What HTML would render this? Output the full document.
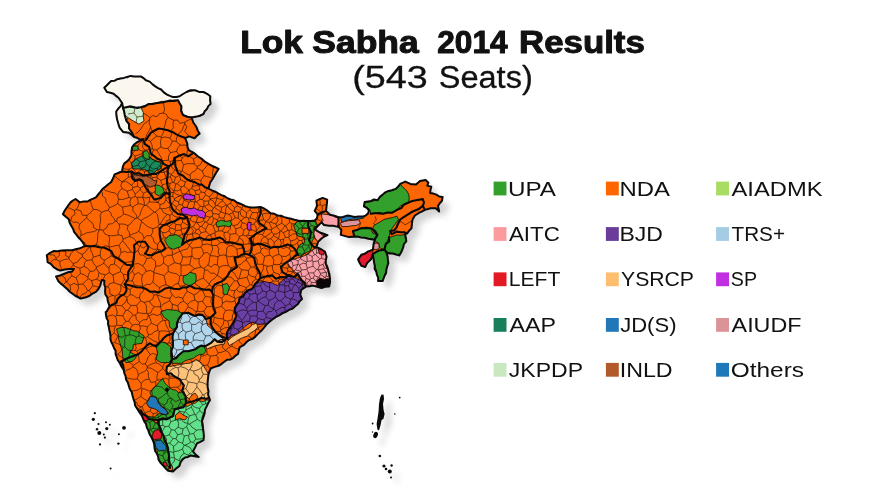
<!DOCTYPE html>
<html><head><meta charset="utf-8"><title>Lok Sabha 2014 Results</title>
<style>html,body{margin:0;padding:0;background:#fff;}body{width:885px;height:498px;position:relative;overflow:hidden;font-family:"Liberation Sans",Arial,sans-serif}</style>
</head><body>
<svg width="885" height="498" viewBox="0 0 885 498" style="position:absolute;left:0;top:0">
<defs>
<filter id="sh" x="-10%" y="-10%" width="125%" height="125%"><feGaussianBlur in="SourceAlpha" stdDeviation="3.1"/><feOffset dx="7" dy="7"/><feComponentTransfer><feFuncA type="linear" slope="0.175"/></feComponentTransfer></filter>
<clipPath id="cp"><polygon points="104.3,87.8 106.6,85.5 108.8,83.2 111.1,81.0 114.4,80.8 117.3,79.2 120.4,78.5 123.9,77.9 127.2,76.9 130.6,75.9 134.0,76.5 137.4,76.4 140.8,76.4 143.5,78.1 145.8,80.2 149.7,81.6 152.6,84.4 155.3,86.4 158.0,88.2 161.1,89.5 163.8,92.4 167.0,94.6 170.0,95.9 173.0,97.1 176.4,96.9 179.7,96.3 183.0,94.0 186.5,92.0 190.6,90.2 195.0,90.3 199.1,91.9 203.5,92.0 207.1,93.8 210.3,96.3 210.1,100.1 210.6,103.9 208.3,106.1 206.9,109.0 204.7,111.2 203.5,114.0 200.3,115.7 196.7,116.6 191.6,117.5 193.3,122.5 195.1,125.0 196.7,127.6 197.8,130.8 199.6,133.6 196.9,135.7 194.6,138.2 189.0,136.4 185.2,138.2 187.3,143.6 187.5,147.1 189.0,150.3 192.0,151.9 194.9,153.7 198.1,156.5 201.7,158.8 204.8,161.7 208.5,163.9 211.8,165.8 215.3,167.2 218.6,169.0 216.4,172.3 214.4,175.8 212.4,179.2 210.2,182.5 209.3,185.5 208.5,188.5 211.8,190.4 215.3,191.7 218.6,193.6 221.5,195.1 224.7,196.3 227.4,198.2 230.5,199.5 233.9,200.3 236.8,202.4 239.6,203.5 242.4,204.7 245.1,206.2 248.1,206.9 251.5,207.5 254.9,207.5 260.5,206.9 263.4,208.2 266.2,209.8 270.7,213.2 274.2,213.8 277.5,215.4 281.0,215.8 284.2,217.1 287.6,218.0 291.0,218.8 294.4,219.8 297.8,220.5 300.8,221.0 303.8,220.8 306.8,221.1 310.8,220.9 314.7,220.5 317.0,218.2 317.6,214.3 314.7,210.9 317.0,205.8 316.4,200.7 319.5,199.2 322.7,197.9 327.2,199.6 327.0,202.7 326.6,205.8 326.0,210.9 330.0,214.8 334.3,215.8 338.5,217.3 342.9,217.0 347.0,215.6 350.9,216.1 354.8,217.0 358.8,216.4 362.3,216.6 365.6,215.6 368.0,213.5 369.0,210.5 366.8,207.9 363.9,206.3 364.7,202.0 367.9,201.4 371.1,201.0 374.0,199.5 377.6,200.2 379.9,196.9 382.4,194.9 384.8,192.6 387.8,191.2 391.8,190.3 395.7,188.9 398.2,186.6 400.2,183.9 405.3,181.6 410.4,183.9 416.0,184.4 420.0,181.0 425.6,179.9 428.4,182.7 427.3,185.6 431.3,186.7 430.5,189.8 430.1,192.9 433.3,193.6 436.4,194.6 439.2,196.5 442.6,196.9 442.0,200.8 439.8,203.2 438.0,205.9 439.2,211.5 435.8,208.2 430.7,208.2 425.0,209.9 422.2,211.4 419.4,212.7 414.9,215.5 412.6,219.5 412.1,222.0 411.8,225.2 411.5,228.4 409.0,230.8 407.0,233.6 405.0,234.2 405.9,237.7 406.3,241.3 403.9,244.1 403.1,247.7 401.5,251.7 399.3,255.4 396.0,254.5 392.8,253.5 389.5,253.6 386.4,252.2 387.7,256.7 387.9,259.9 388.3,263.1 387.3,266.3 386.4,269.6 386.1,273.0 384.5,276.0 382.6,281.1 378.1,281.1 378.2,277.7 376.8,274.7 376.3,271.7 374.7,268.9 374.8,265.7 374.1,262.5 373.6,259.3 372.9,254.1 371.0,259.3 367.1,263.1 365.2,267.0 361.3,265.7 359.4,262.6 358.1,259.3 361.3,254.8 364.8,253.7 367.8,251.6 372.9,249.6 373.6,243.9 374.8,240.0 371.6,239.3 368.4,238.7 364.6,237.7 360.7,237.4 356.9,236.5 353.0,236.8 349.1,237.1 345.3,236.1 340.8,234.9 341.4,229.7 338.9,227.1 336.8,226.6 333.1,225.7 329.2,225.8 324.0,225.0 321.5,222.4 318.1,225.8 314.7,229.2 317.2,230.9 319.8,232.5 323.6,233.8 327.5,235.1 324.3,236.5 321.5,238.5 318.1,241.9 316.4,247.0 321.5,249.5 324.9,251.5 326.6,256.8 325.8,260.2 325.8,263.6 327.3,266.9 328.3,270.3 329.5,274.5 330.0,278.8 330.0,282.6 329.2,286.4 325.3,286.8 321.5,288.0 317.3,286.8 313.0,285.6 309.7,286.2 306.3,286.4 303.8,288.1 301.2,289.8 300.3,294.9 302.0,299.0 299.6,301.4 297.8,304.2 295.1,306.2 292.7,308.5 289.1,309.9 285.9,311.9 282.4,313.3 279.2,315.3 275.6,317.1 272.4,319.5 269.3,321.9 266.4,324.6 264.2,327.4 261.9,330.2 259.6,332.4 257.3,334.6 255.1,336.9 252.5,338.9 249.2,340.0 246.6,342.0 243.7,345.2 239.8,347.1 238.8,350.5 238.1,353.9 235.4,355.8 233.0,358.1 230.3,359.5 227.1,359.7 224.6,361.5 221.7,363.8 218.6,365.8 214.8,366.9 211.0,368.3 209.5,371.1 208.5,374.2 208.0,378.4 207.6,382.7 207.6,387.0 208.5,391.2 208.1,394.7 209.3,398.0 210.0,400.0 208.2,403.1 206.7,406.4 205.0,409.6 204.6,413.5 203.4,417.2 202.0,420.9 202.7,424.6 203.0,428.3 203.5,432.0 203.9,436.1 203.5,440.2 200.3,441.9 197.0,443.4 195.1,447.4 193.0,451.4 195.5,454.6 198.7,457.0 194.7,456.3 190.7,455.4 188.1,456.9 185.0,457.5 182.6,459.4 180.5,462.4 179.4,465.9 176.1,468.6 173.0,471.5 168.2,470.7 165.7,468.4 163.4,465.9 160.6,462.9 158.5,459.4 158.1,456.3 156.8,453.6 155.2,451.0 154.5,448.0 154.2,444.1 153.0,440.5 151.3,437.0 149.5,433.9 148.4,430.6 146.8,427.4 146.0,423.9 144.0,420.9 141.8,415.7 139.4,412.1 137.0,408.4 135.1,405.5 134.6,402.0 133.4,398.8 132.5,395.4 131.7,392.0 129.8,389.0 128.8,385.7 127.8,382.4 126.0,379.5 125.6,376.2 124.3,373.1 123.7,369.9 121.6,366.7 119.9,363.2 117.7,360.0 116.7,357.0 115.6,354.1 115.6,350.8 114.0,348.0 112.9,345.1 111.4,342.3 110.4,339.3 110.5,336.0 110.0,333.0 109.3,330.0 108.8,327.0 108.0,324.0 108.1,320.9 106.6,318.0 106.0,315.1 105.7,312.0 106.9,311.3 109.5,306.2 107.8,301.1 107.3,297.4 105.3,294.3 105.1,290.9 105.3,287.5 104.2,284.2 104.4,280.8 101.9,279.9 101.0,282.8 100.2,285.8 98.4,289.0 95.9,291.8 92.4,293.6 89.2,296.0 85.1,297.6 80.7,298.6 77.8,297.0 74.9,295.5 72.2,293.5 69.8,291.7 67.7,289.5 65.4,287.5 63.2,285.5 60.8,283.6 58.6,281.6 56.1,276.5 60.0,275.5 63.7,274.0 67.8,272.3 72.2,271.4 73.9,268.9 68.8,268.9 64.5,269.5 60.3,270.6 56.8,269.2 53.6,267.2 51.1,264.1 47.6,262.1 47.3,258.7 46.8,255.3 50.0,252.9 53.6,251.1 57.6,251.3 61.5,250.5 65.4,250.3 68.8,250.2 72.3,250.2 75.6,249.2 79.0,248.6 82.0,247.3 84.9,246.0 82.4,241.8 80.4,239.4 78.2,237.2 76.4,234.6 74.2,232.1 73.1,228.9 71.4,226.1 69.7,222.8 68.8,219.3 65.8,216.8 62.9,214.2 64.4,211.1 66.3,208.3 68.3,205.3 70.5,202.4 72.9,200.5 75.6,199.0 79.8,202.4 83.6,201.4 87.5,201.5 90.2,199.9 93.1,198.7 95.9,197.3 98.2,194.5 100.5,191.7 102.7,188.8 105.6,186.6 108.3,184.2 111.2,182.0 113.1,178.3 114.6,174.4 118.3,172.8 122.0,171.5 122.9,166.4 124.3,163.3 127.1,161.4 129.6,158.6 131.4,155.4 131.5,151.2 132.2,147.0 134.0,144.5 136.4,142.7 139.7,140.8 143.2,139.3 139.9,139.5 137.1,137.8 134.0,137.0 131.5,134.8 128.9,132.7 123.0,131.9 119.6,127.6 118.2,123.3 117.0,119.0 116.4,115.3 116.2,111.5 118.1,108.8 120.4,106.4 122.1,103.0 120.4,100.5 118.7,98.0 116.1,95.9 113.6,93.7 110.3,92.7 106.9,92.0"/></clipPath>
</defs>
<g filter="url(#sh)"><polygon points="104.3,87.8 106.6,85.5 108.8,83.2 111.1,81.0 114.4,80.8 117.3,79.2 120.4,78.5 123.9,77.9 127.2,76.9 130.6,75.9 134.0,76.5 137.4,76.4 140.8,76.4 143.5,78.1 145.8,80.2 149.7,81.6 152.6,84.4 155.3,86.4 158.0,88.2 161.1,89.5 163.8,92.4 167.0,94.6 170.0,95.9 173.0,97.1 176.4,96.9 179.7,96.3 183.0,94.0 186.5,92.0 190.6,90.2 195.0,90.3 199.1,91.9 203.5,92.0 207.1,93.8 210.3,96.3 210.1,100.1 210.6,103.9 208.3,106.1 206.9,109.0 204.7,111.2 203.5,114.0 200.3,115.7 196.7,116.6 191.6,117.5 193.3,122.5 195.1,125.0 196.7,127.6 197.8,130.8 199.6,133.6 196.9,135.7 194.6,138.2 189.0,136.4 185.2,138.2 187.3,143.6 187.5,147.1 189.0,150.3 192.0,151.9 194.9,153.7 198.1,156.5 201.7,158.8 204.8,161.7 208.5,163.9 211.8,165.8 215.3,167.2 218.6,169.0 216.4,172.3 214.4,175.8 212.4,179.2 210.2,182.5 209.3,185.5 208.5,188.5 211.8,190.4 215.3,191.7 218.6,193.6 221.5,195.1 224.7,196.3 227.4,198.2 230.5,199.5 233.9,200.3 236.8,202.4 239.6,203.5 242.4,204.7 245.1,206.2 248.1,206.9 251.5,207.5 254.9,207.5 260.5,206.9 263.4,208.2 266.2,209.8 270.7,213.2 274.2,213.8 277.5,215.4 281.0,215.8 284.2,217.1 287.6,218.0 291.0,218.8 294.4,219.8 297.8,220.5 300.8,221.0 303.8,220.8 306.8,221.1 310.8,220.9 314.7,220.5 317.0,218.2 317.6,214.3 314.7,210.9 317.0,205.8 316.4,200.7 319.5,199.2 322.7,197.9 327.2,199.6 327.0,202.7 326.6,205.8 326.0,210.9 330.0,214.8 334.3,215.8 338.5,217.3 342.9,217.0 347.0,215.6 350.9,216.1 354.8,217.0 358.8,216.4 362.3,216.6 365.6,215.6 368.0,213.5 369.0,210.5 366.8,207.9 363.9,206.3 364.7,202.0 367.9,201.4 371.1,201.0 374.0,199.5 377.6,200.2 379.9,196.9 382.4,194.9 384.8,192.6 387.8,191.2 391.8,190.3 395.7,188.9 398.2,186.6 400.2,183.9 405.3,181.6 410.4,183.9 416.0,184.4 420.0,181.0 425.6,179.9 428.4,182.7 427.3,185.6 431.3,186.7 430.5,189.8 430.1,192.9 433.3,193.6 436.4,194.6 439.2,196.5 442.6,196.9 442.0,200.8 439.8,203.2 438.0,205.9 439.2,211.5 435.8,208.2 430.7,208.2 425.0,209.9 422.2,211.4 419.4,212.7 414.9,215.5 412.6,219.5 412.1,222.0 411.8,225.2 411.5,228.4 409.0,230.8 407.0,233.6 405.0,234.2 405.9,237.7 406.3,241.3 403.9,244.1 403.1,247.7 401.5,251.7 399.3,255.4 396.0,254.5 392.8,253.5 389.5,253.6 386.4,252.2 387.7,256.7 387.9,259.9 388.3,263.1 387.3,266.3 386.4,269.6 386.1,273.0 384.5,276.0 382.6,281.1 378.1,281.1 378.2,277.7 376.8,274.7 376.3,271.7 374.7,268.9 374.8,265.7 374.1,262.5 373.6,259.3 372.9,254.1 371.0,259.3 367.1,263.1 365.2,267.0 361.3,265.7 359.4,262.6 358.1,259.3 361.3,254.8 364.8,253.7 367.8,251.6 372.9,249.6 373.6,243.9 374.8,240.0 371.6,239.3 368.4,238.7 364.6,237.7 360.7,237.4 356.9,236.5 353.0,236.8 349.1,237.1 345.3,236.1 340.8,234.9 341.4,229.7 338.9,227.1 336.8,226.6 333.1,225.7 329.2,225.8 324.0,225.0 321.5,222.4 318.1,225.8 314.7,229.2 317.2,230.9 319.8,232.5 323.6,233.8 327.5,235.1 324.3,236.5 321.5,238.5 318.1,241.9 316.4,247.0 321.5,249.5 324.9,251.5 326.6,256.8 325.8,260.2 325.8,263.6 327.3,266.9 328.3,270.3 329.5,274.5 330.0,278.8 330.0,282.6 329.2,286.4 325.3,286.8 321.5,288.0 317.3,286.8 313.0,285.6 309.7,286.2 306.3,286.4 303.8,288.1 301.2,289.8 300.3,294.9 302.0,299.0 299.6,301.4 297.8,304.2 295.1,306.2 292.7,308.5 289.1,309.9 285.9,311.9 282.4,313.3 279.2,315.3 275.6,317.1 272.4,319.5 269.3,321.9 266.4,324.6 264.2,327.4 261.9,330.2 259.6,332.4 257.3,334.6 255.1,336.9 252.5,338.9 249.2,340.0 246.6,342.0 243.7,345.2 239.8,347.1 238.8,350.5 238.1,353.9 235.4,355.8 233.0,358.1 230.3,359.5 227.1,359.7 224.6,361.5 221.7,363.8 218.6,365.8 214.8,366.9 211.0,368.3 209.5,371.1 208.5,374.2 208.0,378.4 207.6,382.7 207.6,387.0 208.5,391.2 208.1,394.7 209.3,398.0 210.0,400.0 208.2,403.1 206.7,406.4 205.0,409.6 204.6,413.5 203.4,417.2 202.0,420.9 202.7,424.6 203.0,428.3 203.5,432.0 203.9,436.1 203.5,440.2 200.3,441.9 197.0,443.4 195.1,447.4 193.0,451.4 195.5,454.6 198.7,457.0 194.7,456.3 190.7,455.4 188.1,456.9 185.0,457.5 182.6,459.4 180.5,462.4 179.4,465.9 176.1,468.6 173.0,471.5 168.2,470.7 165.7,468.4 163.4,465.9 160.6,462.9 158.5,459.4 158.1,456.3 156.8,453.6 155.2,451.0 154.5,448.0 154.2,444.1 153.0,440.5 151.3,437.0 149.5,433.9 148.4,430.6 146.8,427.4 146.0,423.9 144.0,420.9 141.8,415.7 139.4,412.1 137.0,408.4 135.1,405.5 134.6,402.0 133.4,398.8 132.5,395.4 131.7,392.0 129.8,389.0 128.8,385.7 127.8,382.4 126.0,379.5 125.6,376.2 124.3,373.1 123.7,369.9 121.6,366.7 119.9,363.2 117.7,360.0 116.7,357.0 115.6,354.1 115.6,350.8 114.0,348.0 112.9,345.1 111.4,342.3 110.4,339.3 110.5,336.0 110.0,333.0 109.3,330.0 108.8,327.0 108.0,324.0 108.1,320.9 106.6,318.0 106.0,315.1 105.7,312.0 106.9,311.3 109.5,306.2 107.8,301.1 107.3,297.4 105.3,294.3 105.1,290.9 105.3,287.5 104.2,284.2 104.4,280.8 101.9,279.9 101.0,282.8 100.2,285.8 98.4,289.0 95.9,291.8 92.4,293.6 89.2,296.0 85.1,297.6 80.7,298.6 77.8,297.0 74.9,295.5 72.2,293.5 69.8,291.7 67.7,289.5 65.4,287.5 63.2,285.5 60.8,283.6 58.6,281.6 56.1,276.5 60.0,275.5 63.7,274.0 67.8,272.3 72.2,271.4 73.9,268.9 68.8,268.9 64.5,269.5 60.3,270.6 56.8,269.2 53.6,267.2 51.1,264.1 47.6,262.1 47.3,258.7 46.8,255.3 50.0,252.9 53.6,251.1 57.6,251.3 61.5,250.5 65.4,250.3 68.8,250.2 72.3,250.2 75.6,249.2 79.0,248.6 82.0,247.3 84.9,246.0 82.4,241.8 80.4,239.4 78.2,237.2 76.4,234.6 74.2,232.1 73.1,228.9 71.4,226.1 69.7,222.8 68.8,219.3 65.8,216.8 62.9,214.2 64.4,211.1 66.3,208.3 68.3,205.3 70.5,202.4 72.9,200.5 75.6,199.0 79.8,202.4 83.6,201.4 87.5,201.5 90.2,199.9 93.1,198.7 95.9,197.3 98.2,194.5 100.5,191.7 102.7,188.8 105.6,186.6 108.3,184.2 111.2,182.0 113.1,178.3 114.6,174.4 118.3,172.8 122.0,171.5 122.9,166.4 124.3,163.3 127.1,161.4 129.6,158.6 131.4,155.4 131.5,151.2 132.2,147.0 134.0,144.5 136.4,142.7 139.7,140.8 143.2,139.3 139.9,139.5 137.1,137.8 134.0,137.0 131.5,134.8 128.9,132.7 123.0,131.9 119.6,127.6 118.2,123.3 117.0,119.0 116.4,115.3 116.2,111.5 118.1,108.8 120.4,106.4 122.1,103.0 120.4,100.5 118.7,98.0 116.1,95.9 113.6,93.7 110.3,92.7 106.9,92.0" fill="#000"/><circle cx="94.8" cy="413.2" r="1.1"/><circle cx="93.3" cy="419.3" r="1.6"/><circle cx="98.5" cy="424" r="1.1"/><circle cx="106" cy="422.3" r="1.0"/><circle cx="109.8" cy="424.8" r="1.0"/><circle cx="97" cy="429.3" r="1.2"/><circle cx="106.8" cy="428.6" r="1.6"/><circle cx="99.3" cy="433" r="2.0"/><circle cx="103.8" cy="434.6" r="1.0"/><circle cx="104.9" cy="437.6" r="1.1"/><circle cx="124" cy="427.8" r="1.9"/><circle cx="118.9" cy="434.3" r="1.0"/><circle cx="118.4" cy="443.6" r="1.2"/><circle cx="100" cy="444.4" r="1.1"/><circle cx="110.6" cy="468.5" r="1.0"/><path d="M381.5,394.5 L383.6,394.8 L384,399 L383,404 L383.6,410 L384.6,414 L383.4,419 L381.6,420 L380.6,425 L379,430.5 L377.4,429.5 L376.6,424 L377.6,418 L378.6,411 L379,404 L380,398 Z"/><ellipse cx="375.6" cy="435" rx="2.2" ry="3.2" transform="rotate(20 375.6 435)"/><circle cx="399.7" cy="397.6" r="0.9"/><circle cx="394.8" cy="414" r="0.8"/><circle cx="372.6" cy="423.5" r="0.9"/><circle cx="372.5" cy="432" r="0.7"/><circle cx="379.8" cy="456" r="1.3"/><circle cx="384" cy="466" r="1.6"/><circle cx="386" cy="469" r="1.3"/><circle cx="389.8" cy="471.5" r="2.0"/><circle cx="391.6" cy="465.5" r="1.2"/><circle cx="391" cy="477.5" r="1.0"/></g>
<polygon points="104.3,87.8 106.6,85.5 108.8,83.2 111.1,81.0 114.4,80.8 117.3,79.2 120.4,78.5 123.9,77.9 127.2,76.9 130.6,75.9 134.0,76.5 137.4,76.4 140.8,76.4 143.5,78.1 145.8,80.2 149.7,81.6 152.6,84.4 155.3,86.4 158.0,88.2 161.1,89.5 163.8,92.4 167.0,94.6 170.0,95.9 173.0,97.1 176.4,96.9 179.7,96.3 183.0,94.0 186.5,92.0 190.6,90.2 195.0,90.3 199.1,91.9 203.5,92.0 207.1,93.8 210.3,96.3 210.1,100.1 210.6,103.9 208.3,106.1 206.9,109.0 204.7,111.2 203.5,114.0 200.3,115.7 196.7,116.6 191.6,117.5 193.3,122.5 195.1,125.0 196.7,127.6 197.8,130.8 199.6,133.6 196.9,135.7 194.6,138.2 189.0,136.4 185.2,138.2 187.3,143.6 187.5,147.1 189.0,150.3 192.0,151.9 194.9,153.7 198.1,156.5 201.7,158.8 204.8,161.7 208.5,163.9 211.8,165.8 215.3,167.2 218.6,169.0 216.4,172.3 214.4,175.8 212.4,179.2 210.2,182.5 209.3,185.5 208.5,188.5 211.8,190.4 215.3,191.7 218.6,193.6 221.5,195.1 224.7,196.3 227.4,198.2 230.5,199.5 233.9,200.3 236.8,202.4 239.6,203.5 242.4,204.7 245.1,206.2 248.1,206.9 251.5,207.5 254.9,207.5 260.5,206.9 263.4,208.2 266.2,209.8 270.7,213.2 274.2,213.8 277.5,215.4 281.0,215.8 284.2,217.1 287.6,218.0 291.0,218.8 294.4,219.8 297.8,220.5 300.8,221.0 303.8,220.8 306.8,221.1 310.8,220.9 314.7,220.5 317.0,218.2 317.6,214.3 314.7,210.9 317.0,205.8 316.4,200.7 319.5,199.2 322.7,197.9 327.2,199.6 327.0,202.7 326.6,205.8 326.0,210.9 330.0,214.8 334.3,215.8 338.5,217.3 342.9,217.0 347.0,215.6 350.9,216.1 354.8,217.0 358.8,216.4 362.3,216.6 365.6,215.6 368.0,213.5 369.0,210.5 366.8,207.9 363.9,206.3 364.7,202.0 367.9,201.4 371.1,201.0 374.0,199.5 377.6,200.2 379.9,196.9 382.4,194.9 384.8,192.6 387.8,191.2 391.8,190.3 395.7,188.9 398.2,186.6 400.2,183.9 405.3,181.6 410.4,183.9 416.0,184.4 420.0,181.0 425.6,179.9 428.4,182.7 427.3,185.6 431.3,186.7 430.5,189.8 430.1,192.9 433.3,193.6 436.4,194.6 439.2,196.5 442.6,196.9 442.0,200.8 439.8,203.2 438.0,205.9 439.2,211.5 435.8,208.2 430.7,208.2 425.0,209.9 422.2,211.4 419.4,212.7 414.9,215.5 412.6,219.5 412.1,222.0 411.8,225.2 411.5,228.4 409.0,230.8 407.0,233.6 405.0,234.2 405.9,237.7 406.3,241.3 403.9,244.1 403.1,247.7 401.5,251.7 399.3,255.4 396.0,254.5 392.8,253.5 389.5,253.6 386.4,252.2 387.7,256.7 387.9,259.9 388.3,263.1 387.3,266.3 386.4,269.6 386.1,273.0 384.5,276.0 382.6,281.1 378.1,281.1 378.2,277.7 376.8,274.7 376.3,271.7 374.7,268.9 374.8,265.7 374.1,262.5 373.6,259.3 372.9,254.1 371.0,259.3 367.1,263.1 365.2,267.0 361.3,265.7 359.4,262.6 358.1,259.3 361.3,254.8 364.8,253.7 367.8,251.6 372.9,249.6 373.6,243.9 374.8,240.0 371.6,239.3 368.4,238.7 364.6,237.7 360.7,237.4 356.9,236.5 353.0,236.8 349.1,237.1 345.3,236.1 340.8,234.9 341.4,229.7 338.9,227.1 336.8,226.6 333.1,225.7 329.2,225.8 324.0,225.0 321.5,222.4 318.1,225.8 314.7,229.2 317.2,230.9 319.8,232.5 323.6,233.8 327.5,235.1 324.3,236.5 321.5,238.5 318.1,241.9 316.4,247.0 321.5,249.5 324.9,251.5 326.6,256.8 325.8,260.2 325.8,263.6 327.3,266.9 328.3,270.3 329.5,274.5 330.0,278.8 330.0,282.6 329.2,286.4 325.3,286.8 321.5,288.0 317.3,286.8 313.0,285.6 309.7,286.2 306.3,286.4 303.8,288.1 301.2,289.8 300.3,294.9 302.0,299.0 299.6,301.4 297.8,304.2 295.1,306.2 292.7,308.5 289.1,309.9 285.9,311.9 282.4,313.3 279.2,315.3 275.6,317.1 272.4,319.5 269.3,321.9 266.4,324.6 264.2,327.4 261.9,330.2 259.6,332.4 257.3,334.6 255.1,336.9 252.5,338.9 249.2,340.0 246.6,342.0 243.7,345.2 239.8,347.1 238.8,350.5 238.1,353.9 235.4,355.8 233.0,358.1 230.3,359.5 227.1,359.7 224.6,361.5 221.7,363.8 218.6,365.8 214.8,366.9 211.0,368.3 209.5,371.1 208.5,374.2 208.0,378.4 207.6,382.7 207.6,387.0 208.5,391.2 208.1,394.7 209.3,398.0 210.0,400.0 208.2,403.1 206.7,406.4 205.0,409.6 204.6,413.5 203.4,417.2 202.0,420.9 202.7,424.6 203.0,428.3 203.5,432.0 203.9,436.1 203.5,440.2 200.3,441.9 197.0,443.4 195.1,447.4 193.0,451.4 195.5,454.6 198.7,457.0 194.7,456.3 190.7,455.4 188.1,456.9 185.0,457.5 182.6,459.4 180.5,462.4 179.4,465.9 176.1,468.6 173.0,471.5 168.2,470.7 165.7,468.4 163.4,465.9 160.6,462.9 158.5,459.4 158.1,456.3 156.8,453.6 155.2,451.0 154.5,448.0 154.2,444.1 153.0,440.5 151.3,437.0 149.5,433.9 148.4,430.6 146.8,427.4 146.0,423.9 144.0,420.9 141.8,415.7 139.4,412.1 137.0,408.4 135.1,405.5 134.6,402.0 133.4,398.8 132.5,395.4 131.7,392.0 129.8,389.0 128.8,385.7 127.8,382.4 126.0,379.5 125.6,376.2 124.3,373.1 123.7,369.9 121.6,366.7 119.9,363.2 117.7,360.0 116.7,357.0 115.6,354.1 115.6,350.8 114.0,348.0 112.9,345.1 111.4,342.3 110.4,339.3 110.5,336.0 110.0,333.0 109.3,330.0 108.8,327.0 108.0,324.0 108.1,320.9 106.6,318.0 106.0,315.1 105.7,312.0 106.9,311.3 109.5,306.2 107.8,301.1 107.3,297.4 105.3,294.3 105.1,290.9 105.3,287.5 104.2,284.2 104.4,280.8 101.9,279.9 101.0,282.8 100.2,285.8 98.4,289.0 95.9,291.8 92.4,293.6 89.2,296.0 85.1,297.6 80.7,298.6 77.8,297.0 74.9,295.5 72.2,293.5 69.8,291.7 67.7,289.5 65.4,287.5 63.2,285.5 60.8,283.6 58.6,281.6 56.1,276.5 60.0,275.5 63.7,274.0 67.8,272.3 72.2,271.4 73.9,268.9 68.8,268.9 64.5,269.5 60.3,270.6 56.8,269.2 53.6,267.2 51.1,264.1 47.6,262.1 47.3,258.7 46.8,255.3 50.0,252.9 53.6,251.1 57.6,251.3 61.5,250.5 65.4,250.3 68.8,250.2 72.3,250.2 75.6,249.2 79.0,248.6 82.0,247.3 84.9,246.0 82.4,241.8 80.4,239.4 78.2,237.2 76.4,234.6 74.2,232.1 73.1,228.9 71.4,226.1 69.7,222.8 68.8,219.3 65.8,216.8 62.9,214.2 64.4,211.1 66.3,208.3 68.3,205.3 70.5,202.4 72.9,200.5 75.6,199.0 79.8,202.4 83.6,201.4 87.5,201.5 90.2,199.9 93.1,198.7 95.9,197.3 98.2,194.5 100.5,191.7 102.7,188.8 105.6,186.6 108.3,184.2 111.2,182.0 113.1,178.3 114.6,174.4 118.3,172.8 122.0,171.5 122.9,166.4 124.3,163.3 127.1,161.4 129.6,158.6 131.4,155.4 131.5,151.2 132.2,147.0 134.0,144.5 136.4,142.7 139.7,140.8 143.2,139.3 139.9,139.5 137.1,137.8 134.0,137.0 131.5,134.8 128.9,132.7 123.0,131.9 119.6,127.6 118.2,123.3 117.0,119.0 116.4,115.3 116.2,111.5 118.1,108.8 120.4,106.4 122.1,103.0 120.4,100.5 118.7,98.0 116.1,95.9 113.6,93.7 110.3,92.7 106.9,92.0" fill="#FE6604"/>
<g clip-path="url(#cp)">
<polygon points="131.4,163.0 136.4,158.8 140.6,156.5 144.9,154.6 148.7,156.4 151.9,159.1 155.9,160.5 159.3,162.2 162.7,163.9 160.2,169.0 156.5,170.5 153.8,173.4 150.8,175.8 147.5,170.7 143.4,169.3 139.0,169.0 133.0,169.0" fill="#1A8A5C" stroke="#140800" stroke-width="0.8" stroke-linejoin="round"/>
<polygon points="293.6,225.0 297.8,221.5 302.1,221.4 306.3,220.7 310.9,221.5 315.6,221.5 318.1,225.8 314.7,229.2 315.2,233.4 314.7,237.6 312.3,240.6 311.4,244.4 311.6,248.1 309.7,251.2 305.0,253.0 301.2,256.3 295.3,254.6 296.9,251.3 297.8,247.8 300.5,244.3 304.6,242.7 304.6,237.6 297.8,236.0 295.3,230.8" fill="#33A02C" stroke="#140800" stroke-width="0.8" stroke-linejoin="round"/>
<polygon points="285.9,262.7 289.5,259.3 294.4,259.3 297.7,257.9 301.2,257.0 305.6,255.2 309.7,252.9 312.2,250.3 314.7,247.8 316.4,247.0 321.5,249.5 324.9,251.5 326.6,256.8 325.8,263.6 326.4,267.2 328.3,270.3 328.6,274.7 330.0,278.8 330.7,282.7 329.2,286.4 325.4,287.6 321.5,288.0 317.2,287.0 313.0,285.6 306.3,286.4 304.5,282.5 301.2,279.7 297.8,273.7 294.1,271.6 291.0,268.6 289.1,265.1" fill="#FBA0A8" stroke="#140800" stroke-width="0.8" stroke-linejoin="round"/>
<polygon points="255.4,283.9 259.5,282.2 263.9,281.4 268.1,282.3 272.4,283.0 277.5,285.6 279.7,282.7 282.5,280.5 285.9,277.9 289.3,275.4 294.4,277.1 297.7,279.1 301.2,280.5 303.1,284.0 306.3,286.4 301.2,289.8 300.3,294.9 302.0,299.0 297.8,304.2 292.7,308.5 289.3,310.1 285.9,311.9 281.9,312.3 279.2,315.3 276.1,318.0 272.4,319.5 269.9,322.6 266.4,324.6 262.6,323.9 258.8,324.6 252.4,322.3 248.0,324.1 244.4,327.1 240.6,330.6 236.4,333.6 231.7,335.5 227.5,338.4 226.7,335.2 227.5,331.6 230.4,328.9 231.6,325.5 234.2,322.8 234.8,319.1 236.4,315.9 235.6,311.9 234.8,307.9 237.2,305.1 238.5,301.7 239.6,298.2 242.4,295.3 245.3,292.4 248.6,290.6 252.0,289.0" fill="#6A3FA6" stroke="#140800" stroke-width="0.8" stroke-linejoin="round"/>
<polygon points="182.6,313.5 188.2,312.7 191.7,313.7 194.6,315.9 198.6,315.5 202.7,315.1 205.9,319.1 207.5,325.5 212.3,329.5 217.1,334.4 221.1,337.2 225.1,340.0 220.8,339.5 217.1,341.6 214.7,339.2 210.7,343.2 205.0,346.4 201.0,345.6 197.5,347.1 194.6,349.6 188.2,351.2 183.4,351.2 178.6,355.2 175.4,357.3 172.1,359.3 172.0,355.2 171.3,351.2 172.6,346.5 172.9,341.6 172.4,337.6 172.9,333.6 174.9,330.3 176.9,327.1 177.9,323.1 178.6,319.1" fill="#B2D6EC" stroke="#140800" stroke-width="0.8" stroke-linejoin="round"/>
<polygon points="116.5,329.0 121.1,327.4 126.0,327.7 129.9,329.3 133.9,330.8 138.2,331.3 141.0,333.9 144.2,336.0 143.2,339.8 141.8,343.4 137.6,343.9 133.4,344.6 133.0,348.9 129.8,351.8 133.3,353.8 137.0,355.4 135.0,358.8 132.0,361.4 126.0,362.7 123.3,359.5 122.5,355.4 122.4,351.2 121.1,347.3 120.0,343.4 118.8,339.9 118.6,336.1 117.6,332.5" fill="#33A02C" stroke="#140800" stroke-width="0.8" stroke-linejoin="round"/>
<polygon points="166.9,366.6 172.1,366.2 177.1,365.0 181.4,364.6 185.5,363.5 189.8,363.2 193.1,361.6 195.8,359.0 199.2,361.5 202.5,364.0 206.0,370.0 208.5,374.2 209.2,378.6 207.6,382.7 208.3,386.9 208.5,391.2 209.3,398.0 206.0,398.8 201.6,398.2 197.5,399.7 192.4,401.4 189.1,398.7 185.6,396.3 182.2,391.2 183.9,385.3 182.2,382.0 179.7,379.3 173.7,376.0 170.1,376.0 166.9,374.2 166.5,370.0" fill="#FDC27A" stroke="#140800" stroke-width="0.8" stroke-linejoin="round"/>
<polygon points="153.4,387.8 156.4,385.7 158.5,382.7 162.7,378.5 164.3,382.2 166.9,385.3 172.0,389.5 175.9,390.2 178.8,392.9 183.9,391.2 185.6,396.3 186.0,403.0 183.5,407.2 178.9,407.7 174.6,409.6 173.0,416.0 169.6,417.3 166.6,419.3 162.6,420.2 158.5,420.0 153.7,419.7 149.0,419.3 146.5,416.0 150.5,416.8 154.5,416.9 158.5,413.7 163.3,414.3 168.2,413.7 165.8,409.6 162.2,406.3 158.5,403.2 157.8,401.0 154.5,399.1 151.8,396.4 150.0,392.9" fill="#33A02C" stroke="#140800" stroke-width="0.8" stroke-linejoin="round"/>
<polygon points="174.6,410.0 180.0,407.0 183.7,405.5 187.5,406.4 191.3,404.3 195.5,403.0 198.8,400.5 203.2,401.8 206.7,400.0 210.0,400.0 207.9,403.0 207.4,406.8 205.0,409.6 203.7,413.3 202.1,416.9 202.0,420.9 201.7,424.7 202.6,428.4 203.5,432.0 204.0,436.1 203.5,440.2 200.5,442.2 197.0,443.4 195.1,447.5 193.0,451.4 195.5,454.6 198.7,457.0 194.6,456.9 190.7,455.4 187.1,458.3 182.6,459.4 181.0,462.7 179.4,465.9 176.0,468.5 173.0,471.5 170.0,468.0 169.8,464.0 169.5,460.0 168.7,456.0 168.8,452.0 168.0,448.0 166.0,443.9 166.4,439.0 163.4,435.3 161.5,431.6 159.1,428.2 158.5,424.0 159.0,420.5 162.8,419.6 166.6,419.8 169.8,418.2 173.0,416.5" fill="#62E08A" stroke="#140800" stroke-width="0.8" stroke-linejoin="round"/>
<polygon points="144.0,420.9 150.0,418.0 153.9,421.5 158.5,424.0 160.9,427.4 161.8,431.5 163.4,435.3 164.4,439.7 166.2,443.9 168.0,448.0 168.7,452.0 169.0,456.0 169.8,460.0 169.8,464.0 170.0,468.0 168.2,470.7 163.4,465.9 161.1,462.5 158.5,459.4 155.6,456.2 157.7,451.1 154.5,448.0 153.5,444.3 152.3,440.7 151.3,437.0 149.1,434.1 148.9,430.3 146.6,427.5 145.8,424.0" fill="#33A02C" stroke="#140800" stroke-width="0.8" stroke-linejoin="round"/>
<path d="M70.1,194.8 L68.3,197.1 L65.0,199.1 M211.6,97.0 L213.4,100.3 L214.2,103.4 M44.6,249.7 L41.6,253.0 M41.6,253.0 L40.5,257.8 M61.2,206.0 L59.4,209.0 L58.0,212.2 M65.0,199.1 L63.2,204.6 M61.2,206.0 L63.2,204.6 M75.1,194.0 L70.1,194.8 M75.1,194.0 L77.8,195.1 L81.4,196.2 M81.4,196.2 L80.1,199.5 L79.3,203.3 L78.2,206.3 L76.3,209.6 M76.3,209.6 L74.2,210.4 M63.2,204.6 L66.8,207.2 L70.6,208.6 L74.2,210.4 M58.0,212.2 L58.1,215.6 M58.1,215.6 L60.6,220.0 M44.6,249.7 L45.9,249.3 M50.4,244.8 L45.9,249.3 M40.5,257.8 L41.3,261.2 L42.6,264.0 M214.0,107.7 L214.2,103.4 M57.4,289.4 L61.5,292.0 L63.9,295.6 M207.8,441.7 L204.3,445.5 L204.4,450.4 M101.7,212.3 L105.1,210.9 L108.1,210.2 M115.3,221.2 L114.1,218.4 L111.7,215.9 L110.9,212.8 L108.1,210.2 M101.7,212.3 L100.1,215.5 L100.7,219.1 L100.2,223.1 L99.7,225.8 L99.9,229.7 M115.3,221.2 L112.3,223.7 L108.2,224.2 L106.4,228.1 L102.8,230.2 M102.8,230.2 L99.9,229.7 M97.0,229.6 L99.1,230.0 M86.7,217.8 L89.5,220.9 L92.9,223.4 L93.7,227.6 L97.0,229.6 M87.0,215.4 L91.0,212.3 L93.2,209.3 M86.7,217.8 L87.0,215.4 M93.2,209.3 L97.6,209.8 L101.7,212.3 M99.1,230.0 L99.9,229.7 M50.4,244.8 L53.7,246.3 L56.9,243.7 M86.7,217.8 L83.0,220.8 L79.7,224.3 M97.0,229.6 L94.4,231.5 L90.6,232.1 L87.0,232.7 L84.1,234.2 L80.9,235.4 M80.9,235.4 L81.1,231.8 L78.8,227.9 L79.7,224.3 M87.0,215.4 L82.3,215.2 L80.8,210.7 L76.3,209.6 M74.2,210.4 L75.2,214.2 L71.8,216.6 L70.8,220.3 M79.7,224.3 L77.0,222.0 L73.2,222.4 L70.8,220.3 M60.6,220.0 L65.0,222.7 M65.4,229.9 L63.9,226.5 L65.0,222.7 M65.0,222.7 L70.8,220.3 M51.5,277.9 L53.2,284.1 M319.2,193.1 L317.9,194.0 M317.9,194.0 L312.9,195.6 M215.8,161.3 L219.5,163.0 L222.6,164.1 M209.8,115.2 L212.8,111.5 L214.0,107.7 M219.7,184.7 L223.9,186.6 L225.4,188.7 L227.3,191.6 M231.9,192.8 L227.3,191.6 M225.0,167.5 L225.1,172.0 M222.6,164.1 L225.0,167.5 M218.1,182.4 L221.8,179.6 L223.5,176.4 L225.1,172.0 M218.1,182.4 L218.4,184.1 M218.4,184.1 L219.7,184.7 M213.9,161.5 L213.5,162.4 M213.9,161.5 L215.8,161.3 M218.1,182.4 L213.5,178.2 M213.5,178.2 L212.4,174.3 L213.0,170.2 L213.2,166.7 L213.5,162.4 M213.9,161.5 L211.1,158.7 L207.4,155.7 M207.3,155.4 L207.4,155.7 M81.4,196.2 L81.9,196.1 M93.2,209.3 L91.6,205.4 L90.6,201.6 L90.5,197.5 M81.9,196.1 L86.5,197.5 L90.5,197.5 M94.8,303.4 L91.3,302.1 L88.6,302.7 L85.2,303.9 L81.6,303.0 M115.4,305.8 L116.4,308.9 L117.2,311.9 L116.7,315.4 M115.4,305.8 L111.9,305.4 L109.0,309.0 L105.2,308.0 L101.6,308.6 M101.6,308.6 L99.9,313.0 L102.3,316.5 M115.6,316.4 L112.5,314.9 L109.0,315.9 L106.0,316.9 L102.5,316.9 M115.6,316.4 L116.7,315.4 M102.3,316.5 L102.5,316.9 M97.5,302.8 L94.8,303.4 M97.5,302.8 L99.1,305.3 L101.6,308.6 M103.1,323.3 L103.6,319.2 L102.5,316.9 M102.3,325.6 L103.1,323.3 M71.2,299.0 L67.1,296.2 M63.9,295.6 L67.1,296.2 M102.3,325.6 L101.4,329.5 L103.6,334.4 M78.5,301.4 L81.6,303.0 M125.8,391.7 L127.0,395.9 L128.7,400.4 M129.3,409.5 L128.7,405.3 L129.4,401.1 M129.4,401.1 L128.7,400.4 M204.4,450.4 L202.7,452.2 M202.7,452.2 L202.3,458.0 M202.3,458.0 L201.2,460.3 M221.6,333.2 L220.5,331.3 M221.6,333.2 L226.2,334.3 L230.4,333.3 M230.4,333.3 L231.3,328.6 M220.9,329.9 L220.5,331.3 M220.9,329.9 L224.9,327.8 L229.2,327.4 M229.2,327.4 L231.3,328.6 M231.2,334.5 L235.1,335.5 L237.8,336.0 M238.0,329.5 L239.3,332.7 L237.8,336.0 M233.4,327.8 L231.3,328.6 M238.0,329.5 L233.4,327.8 M231.2,334.5 L230.4,333.3 M220.5,327.9 L220.9,329.9 M224.1,320.1 L223.2,324.4 L220.5,327.9 M224.1,320.1 L227.7,321.1 M227.7,321.1 L229.2,327.4 M227.7,321.1 L232.1,319.7 M234.3,321.9 L232.1,319.7 M234.3,321.9 L233.4,327.8 M116.7,221.6 L117.3,218.0 L121.0,216.6 L123.5,214.0 M116.7,221.6 L118.9,224.1 M118.9,224.1 L123.5,224.0 L128.0,225.6 M123.5,214.0 L127.4,214.9 L131.6,216.8 L135.5,218.5 M135.5,218.5 L133.2,220.3 L130.5,223.8 L128.0,225.6 M108.7,235.6 L104.8,233.9 L102.8,230.2 M118.3,234.9 L118.0,230.9 L119.8,227.7 L118.9,224.1 M118.3,234.9 L114.0,235.7 L108.7,235.6 M115.3,221.2 L116.7,221.6 M121.3,305.7 L115.8,305.3 M115.8,305.3 L115.4,305.8 M116.7,315.4 L122.7,315.8 M121.3,305.7 L123.7,307.5 L125.7,310.4 M122.7,315.8 L125.7,310.4 M410.9,221.4 L407.6,223.4 L405.1,224.9 M396.9,217.3 L398.5,221.2 L402.3,222.4 L405.1,224.9 M418.4,223.3 L414.8,222.1 L410.9,221.4 M418.4,223.3 L420.3,221.9 M109.0,246.9 L105.3,245.7 L101.6,247.8 M109.0,246.9 L109.0,243.3 L109.7,238.8 L108.7,235.6 M99.1,230.0 L97.8,233.6 L97.7,237.4 L97.4,241.4 L96.4,244.5 M101.6,247.8 L96.4,244.5 M80.9,235.4 L79.8,237.3 M79.8,237.3 L81.6,241.1 L84.6,242.4 L86.4,245.3 L90.5,246.5 M96.4,244.5 L90.5,246.5 M69.1,257.3 L71.0,253.6 L72.7,251.7 L75.3,249.0 M69.1,257.3 L65.6,255.6 L65.8,251.6 L61.7,250.9 L60.8,247.4 M75.3,249.0 L74.0,244.2 L74.3,239.8 M60.8,247.4 L60.6,245.3 M60.6,245.3 L64.2,244.9 L67.0,242.4 L69.7,242.4 L72.1,239.3 M74.3,239.8 L72.1,239.3 M90.3,247.1 L90.5,246.5 M82.2,254.4 L85.0,252.5 L87.4,248.8 L90.3,247.1 M79.8,237.3 L74.3,239.8 M82.2,254.4 L78.1,252.5 L75.3,249.0 M56.0,258.3 L54.2,255.0 L50.0,254.9 L48.5,251.9 L45.9,249.3 M56.0,258.3 L59.4,255.4 L59.4,250.7 L60.8,247.4 M56.9,243.7 L60.6,245.3 M65.4,229.9 L67.3,232.8 L69.9,236.3 L72.1,239.3 M57.4,289.4 L56.9,287.5 M56.9,287.5 L60.3,285.7 L63.5,284.5 L66.0,282.0 M67.1,296.2 L68.0,292.5 L70.7,289.9 L70.0,285.3 M70.0,285.3 L66.7,282.0 M66.7,282.0 L66.0,282.0 M51.5,277.9 L51.9,276.0 M66.0,282.0 L65.1,278.0 L61.9,275.7 L60.6,272.1 M56.9,287.5 L53.2,284.1 M51.9,276.0 L56.1,274.8 L60.6,272.1 M51.9,276.0 L49.9,272.6 L47.0,270.2 L45.6,266.7 M42.6,264.0 L45.6,266.7 M45.6,266.7 L45.6,266.7 M56.0,258.3 L56.3,259.5 M45.6,266.7 L49.1,266.0 L50.2,262.7 L53.0,259.8 L56.3,259.5 M213.5,178.2 L210.4,177.5 L207.5,176.7 L204.2,175.7 M213.5,162.4 L209.4,163.4 L207.2,165.4 L204.5,168.6 L202.3,171.1 M204.2,175.7 L202.3,171.1 M209.8,115.2 L207.1,118.1 L203.0,120.2 L199.4,121.6 M199.4,121.6 L202.6,126.7 M202.6,126.7 L203.2,130.3 L204.4,134.2 M204.4,134.2 L203.1,139.0 M200.8,150.4 L203.5,153.4 L207.3,155.4 M200.8,150.4 L198.3,145.0 M198.3,145.0 L200.8,142.1 L203.1,139.0 M249.8,200.9 L250.3,200.7 M249.8,200.9 L247.8,200.7 M247.8,200.7 L243.6,198.9 L240.6,196.2 M234.9,195.9 L231.9,192.8 M234.9,195.9 L236.0,196.2 M236.0,196.2 L240.6,196.2 M260.3,200.4 L266.4,201.3 M260.3,200.4 L257.4,201.7 M257.4,201.7 L257.7,204.5 L258.6,209.0 L258.9,212.0 M270.8,205.6 L268.3,209.8 L264.1,209.9 L260.6,212.7 M270.8,205.6 L266.4,201.3 M260.6,212.7 L258.9,212.0 M250.3,200.7 L253.6,201.2 L257.4,201.7 M216.8,245.4 L220.7,242.6 M216.8,245.4 L219.0,248.7 L218.1,251.9 L219.5,255.8 M227.8,244.4 L229.1,245.7 M225.9,255.3 L226.6,251.9 L226.8,248.1 L229.1,245.7 M219.5,255.8 L222.8,254.9 L225.9,255.3 M227.8,244.4 L223.5,242.6 M220.7,242.6 L223.5,242.6 M167.4,214.5 L164.5,217.2 L162.1,220.9 L160.0,224.4 M159.1,224.7 L160.0,224.4 M155.2,212.1 L159.9,208.1 M159.1,224.7 L158.6,221.5 L158.0,217.9 L157.5,214.5 L155.2,212.1 M167.4,214.5 L163.6,212.6 L161.3,208.7 M161.3,208.7 L159.9,208.1 M90.5,197.5 L93.9,195.2 L95.9,192.2 L99.1,190.3 M191.5,118.9 L195.3,120.6 L199.4,121.6 M191.5,118.9 L192.7,115.4 L192.4,111.5 L192.6,107.8 L192.3,103.7 M77.3,299.8 L80.0,297.1 L82.0,294.4 L85.6,293.2 L87.7,290.4 M77.3,299.8 L77.2,299.7 M77.2,299.7 L77.2,296.0 L76.9,292.1 L78.6,288.2 L78.0,285.0 M87.7,290.4 L85.3,286.6 L82.7,283.9 M82.7,283.9 L78.5,284.5 M78.5,284.5 L78.0,285.0 M97.5,300.6 L95.0,298.2 L92.6,296.0 L90.8,292.9 L89.1,290.5 M89.1,290.5 L87.7,290.4 M78.5,301.4 L77.3,299.8 M97.6,302.5 L97.5,302.8 M97.6,302.5 L97.5,300.6 M71.2,299.0 L77.2,299.7 M70.0,285.3 L73.9,283.4 L78.0,285.0 M76.0,277.7 L72.0,275.9 M76.0,277.7 L77.5,281.2 L78.5,284.5 M66.7,282.0 L68.8,278.6 L72.0,275.9 M118.8,294.2 L115.1,296.2 M118.8,294.2 L121.0,290.0 L120.8,284.9 M120.8,284.9 L116.9,283.9 L113.9,282.6 M113.1,295.4 L115.1,296.2 M113.1,295.4 L109.7,293.4 L109.9,289.4 L108.0,286.8 M108.0,286.8 L109.7,283.6 L113.9,282.6 M115.8,305.3 L114.8,301.1 L115.1,296.2 M97.6,302.5 L100.9,301.7 L104.4,300.9 L107.0,298.9 L109.9,296.3 L113.1,295.4 M125.8,391.7 L125.9,391.4 M125.9,391.4 L129.8,391.4 L133.8,390.8 L137.4,390.2 L141.2,387.7 M129.4,401.1 L133.9,400.8 M141.8,388.5 L141.2,387.7 M141.8,388.5 L141.5,392.7 L140.8,396.4 M140.8,396.4 L137.5,398.5 L133.9,400.8 M129.3,409.5 L132.3,413.7 M132.3,413.7 L136.0,411.7 L138.4,408.7 L141.5,406.7 M133.9,400.8 L136.5,402.4 L138.1,405.7 L141.5,406.7 M121.0,375.2 L121.4,375.5 M121.4,375.5 L123.5,380.4 M123.2,383.2 L123.5,380.4 M125.9,391.4 L124.1,387.1 L123.2,383.2 M180.0,473.2 L181.4,470.0 L184.6,467.5 M185.1,467.4 L184.6,467.5 M174.5,475.4 L180.0,473.2 M201.2,460.3 L198.6,462.1 M198.6,462.1 L194.8,462.8 L191.0,463.1 M191.0,463.1 L187.5,464.5 L185.1,467.4 M166.4,473.4 L168.0,473.8 M168.0,473.8 L170.6,475.1 M179.4,460.6 L182.2,463.5 L184.6,467.5 M174.5,475.4 L170.6,475.1 M175.1,458.8 L179.4,460.6 M175.1,458.8 L174.0,461.8 L171.5,463.9 L172.5,468.0 L169.5,471.0 L168.0,473.8 M175.1,458.8 L174.5,458.1 M174.5,458.1 L171.3,457.4 L168.2,459.7 L165.0,460.8 M166.4,473.4 L162.5,470.4 M162.5,470.4 L164.9,467.5 L165.6,464.4 L165.0,460.8 M226.1,255.5 L229.4,257.0 L233.1,256.0 L236.1,257.0 M226.1,255.5 L226.9,258.2 L227.6,262.0 L228.4,265.8 M236.1,257.0 L236.0,261.7 L236.9,265.4 M236.9,265.4 L231.8,267.6 M228.4,265.8 L230.8,267.6 M230.8,267.6 L231.8,267.6 M237.3,255.6 L237.3,252.2 L236.6,249.2 M231.1,245.6 L234.3,246.4 L236.6,249.2 M225.9,255.3 L226.1,255.5 M231.1,245.6 L229.1,245.7 M237.3,255.6 L236.1,257.0 M238.8,278.9 L238.2,279.3 M238.2,279.3 L235.9,276.1 L234.7,273.5 L232.0,271.4 L231.8,267.6 M241.7,269.7 L240.6,272.7 L239.9,276.0 L238.8,278.9 M241.7,269.7 L237.1,265.5 M237.1,265.5 L236.9,265.4 M222.4,278.8 L217.3,275.4 M226.9,276.8 L222.4,278.8 M217.3,275.4 L218.6,271.9 L219.1,267.4 M219.1,267.4 L223.7,265.4 L228.4,265.8 M226.9,276.8 L228.8,274.4 L230.0,271.3 L230.8,267.6 M238.4,338.1 L238.6,337.1 M246.7,335.0 L242.3,336.3 L238.6,337.1 M246.7,335.0 L251.0,337.6 L252.9,342.1 M244.4,350.7 L246.1,350.1 M244.4,350.7 L242.9,347.9 L242.2,344.3 L239.5,341.8 L238.4,338.1 M252.9,342.1 L253.3,343.0 M246.1,350.1 L248.9,347.9 L251.8,346.4 L253.3,343.0 M232.1,319.7 L232.6,314.9 L234.3,311.4 M242.0,322.1 L241.9,320.4 M241.9,320.4 L238.8,316.5 L236.9,312.5 M242.0,322.1 L238.0,320.4 L234.3,321.9 M236.9,312.5 L234.3,311.4 M238.2,279.3 L237.4,280.8 M226.9,276.8 L231.3,277.3 L234.7,281.0 M234.7,281.0 L237.4,280.8 M247.5,311.5 L252.2,310.2 L256.5,310.3 M247.5,311.5 L247.6,312.6 M247.6,312.6 L250.3,316.4 M250.3,316.4 L253.9,315.7 L256.9,316.4 M256.9,316.4 L257.7,311.7 M257.7,311.7 L256.5,310.3 M241.9,320.4 L244.1,317.9 L245.6,315.3 L247.6,312.6 M246.8,310.6 L243.2,309.9 L240.2,310.4 L236.9,312.5 M246.8,310.6 L247.5,311.5 M247.0,331.0 L243.3,329.4 L242.4,326.2 M247.0,331.0 L251.5,328.6 M251.5,328.6 L251.2,322.9 M242.4,326.2 L242.6,322.9 M242.6,322.9 L245.9,321.2 L249.5,321.6 M251.2,322.9 L249.5,321.6 M238.6,337.1 L237.8,336.0 M246.7,335.0 L247.0,331.0 M238.0,329.5 L242.4,326.2 M255.6,330.0 L255.1,334.1 L254.2,337.8 L252.9,342.1 M255.6,330.0 L251.5,328.6 M255.6,330.0 L258.5,328.9 M258.5,328.9 L258.7,327.8 M258.7,327.8 L256.3,325.2 L255.9,321.8 M255.9,321.8 L251.2,322.9 M242.0,322.1 L242.6,322.9 M250.3,316.4 L249.5,321.6 M257.9,318.5 L256.9,316.4 M257.9,318.5 L255.9,321.8 M212.6,332.9 L216.9,331.4 L220.5,331.3 M222.3,339.6 L218.3,341.2 L215.0,342.7 M221.6,333.2 L222.5,336.6 L222.3,339.6 M212.6,332.9 L210.0,335.6 M210.0,335.6 L212.8,338.6 L215.0,342.7 M229.0,339.6 L232.1,342.5 M229.0,339.6 L222.6,339.8 M222.6,339.8 L223.8,343.2 L222.2,347.2 L225.6,350.4 M225.6,350.4 L228.7,347.7 L232.0,346.2 M232.1,342.5 L232.0,346.2 M238.4,338.1 L235.3,340.5 L232.1,342.5 M231.2,334.5 L229.0,339.6 M222.3,339.6 L222.6,339.8 M244.4,350.7 L243.7,351.3 M243.7,351.3 L240.2,349.0 L236.0,348.7 L232.0,346.2 M180.3,251.4 L180.0,251.3 M172.2,254.9 L176.2,253.0 L180.0,251.3 M180.3,251.4 L182.7,256.8 M172.1,255.3 L173.4,259.4 L174.8,262.7 M172.1,255.3 L172.2,254.9 M182.7,256.8 L181.8,260.6 L180.3,264.1 M174.8,262.7 L180.3,264.1 M187.1,291.4 L186.5,288.7 M194.8,282.0 L193.0,284.5 L189.0,285.9 L186.5,288.7 M194.8,282.0 L196.0,284.9 L199.5,286.5 L200.1,290.3 M187.1,291.4 L190.5,292.9 L194.1,295.1 M200.1,290.3 L197.2,293.0 L194.1,295.1 M203.4,278.1 L204.0,273.9 L204.6,270.0 M203.4,278.1 L206.2,280.9 L209.1,284.2 M204.6,270.0 L207.5,270.2 L210.9,273.3 L214.1,273.1 L217.1,275.5 M209.1,284.2 L211.2,280.7 L214.4,278.5 L217.1,275.5 M202.7,290.8 L200.1,290.3 M194.8,282.0 L194.8,282.0 M209.2,284.9 L206.4,287.5 L202.7,290.8 M209.2,284.9 L209.1,284.2 M194.8,282.0 L199.0,279.9 L203.4,278.1 M217.3,275.4 L217.1,275.5 M222.4,278.8 L222.1,282.2 L222.7,285.9 M209.2,284.9 L212.1,286.5 L214.3,288.9 M222.7,285.9 L217.8,285.0 L214.3,288.9 M172.2,254.9 L172.4,250.8 L168.9,247.8 M180.0,251.3 L177.8,247.5 L175.4,243.2 M175.4,243.2 L172.2,243.8 M168.9,247.8 L172.2,243.8 M172.1,255.3 L167.5,255.3 L163.7,257.6 M174.8,262.7 L171.1,264.6 L168.1,266.5 M168.1,266.5 L163.6,263.1 M163.7,257.6 L163.6,263.1 M155.7,266.2 L159.9,265.9 L163.6,263.1 M163.7,257.6 L161.9,255.0 L160.8,252.2 L157.5,249.7 M155.7,266.2 L155.5,261.2 L151.5,257.9 M151.5,257.9 L152.0,253.9 L154.9,252.0 L157.5,249.7 M168.9,247.8 L164.8,248.1 L161.4,250.3 L157.6,249.0 M157.5,249.7 L157.6,249.0 M151.3,323.2 L147.5,326.7 M147.5,326.7 L146.8,330.5 L148.5,334.9 M148.5,334.9 L152.2,333.9 L154.1,331.7 L158.1,330.4 M151.3,323.2 L154.2,324.5 L157.3,325.7 M157.3,325.7 L158.1,330.4 M168.6,343.0 L170.2,339.4 L169.6,335.4 L169.2,331.8 M167.8,343.4 L168.6,343.0 M167.8,343.4 L164.0,342.4 L159.4,341.6 M159.4,341.6 L158.6,338.2 L159.1,334.9 L159.1,331.5 M169.2,331.8 L165.8,331.0 L162.4,330.9 L159.1,331.5 M151.3,323.2 L150.6,319.7 L149.0,316.0 M149.0,316.0 L152.9,314.0 L157.1,315.5 L160.7,314.2 M157.3,325.7 L160.0,322.2 L163.2,320.2 M160.7,314.2 L161.9,317.2 L163.2,320.2 M159.1,331.5 L158.1,330.4 M169.2,331.8 L169.6,331.3 M169.6,331.3 L167.5,328.1 L165.9,324.3 L165.0,320.6 M163.2,320.2 L165.0,320.6 M122.7,315.8 L125.8,321.3 M125.8,321.3 L128.7,321.3 M128.7,321.3 L130.4,317.9 L133.2,315.3 M125.7,310.4 L127.6,310.2 M127.6,310.2 L130.5,312.1 L133.2,315.3 M111.1,359.5 L111.7,356.2 M111.1,359.5 L112.3,363.0 L113.5,366.4 M111.7,356.2 L117.6,354.3 M117.6,354.3 L120.7,356.6 L125.2,359.9 M125.2,359.9 L122.2,362.8 L121.2,367.7 L118.4,370.2 M113.5,366.4 L118.4,370.2 M107.9,351.2 L111.7,356.2 M126.7,359.7 L125.2,359.9 M126.7,359.7 L130.1,362.7 L133.3,365.4 M132.7,367.1 L130.4,368.7 L126.7,370.2 L123.7,372.6 L121.4,375.5 M121.0,375.2 L118.4,370.2 M133.3,365.4 L132.7,367.1 M136.7,351.2 L138.2,353.7 L138.8,357.7 L139.3,361.6 M133.3,365.4 L136.0,363.7 L139.3,361.6 M126.7,359.7 L128.8,357.1 L129.9,352.9 L131.6,350.7 M136.7,351.2 L135.4,350.5 M131.6,350.7 L135.4,350.5 M132.5,325.0 L130.7,328.0 L130.0,331.1 L129.1,335.0 M132.5,325.0 L135.7,324.2 L139.2,324.8 M139.9,325.9 L139.2,324.8 M139.9,325.9 L140.3,329.0 L138.7,332.4 L139.0,335.9 M129.1,335.0 L132.8,335.2 L136.5,337.0 M139.0,335.9 L136.5,337.0 M125.8,321.3 L122.0,325.7 M115.6,316.4 L116.8,320.9 L116.6,325.1 M122.0,325.7 L116.6,325.1 M103.1,323.3 L106.7,324.3 L111.3,326.3 L115.3,325.9 M116.6,325.1 L115.3,325.9 M146.2,348.7 L145.9,348.5 M146.2,348.7 L149.4,347.0 L153.1,345.7 L156.8,344.1 M145.9,348.5 L146.2,344.9 L146.7,341.7 L145.4,337.7 M156.8,344.1 L157.7,342.5 M157.7,342.5 L154.0,341.0 L150.8,339.0 L147.5,336.6 M145.4,337.7 L147.5,336.6 M136.7,351.2 L141.5,348.6 L145.9,348.5 M145.3,363.9 L146.9,360.6 L147.9,357.5 L150.2,354.6 M150.2,354.6 L147.9,351.3 L146.2,348.7 M139.3,361.6 L142.4,364.1 L145.3,363.9 M157.1,355.0 L153.3,353.4 L150.2,354.6 M157.7,354.6 L157.2,351.3 L158.3,347.7 L156.8,344.1 M157.7,354.6 L157.1,355.0 M135.4,350.5 L136.2,347.3 L135.0,343.7 L135.4,340.4 L136.5,337.0 M139.0,335.9 L141.9,337.6 L145.4,337.7 M167.8,343.4 L166.2,347.0 L166.1,350.8 L165.6,355.0 M157.7,354.6 L160.9,356.0 L165.6,355.0 M159.4,341.6 L157.7,342.5 M148.5,334.9 L147.5,336.6 M147.5,326.7 L143.5,326.0 L139.9,325.9 M133.3,416.3 L135.5,418.0 M135.5,418.0 L139.0,420.1 L138.2,424.9 M141.2,383.5 L144.4,380.0 L149.1,379.0 M141.2,383.5 L137.3,378.8 M137.3,378.8 L138.3,375.1 M138.3,375.1 L140.9,373.0 L144.7,371.4 L146.6,369.5 M146.6,369.5 L148.4,372.5 L148.3,376.2 L149.1,379.0 M123.5,380.4 L126.3,378.0 L130.0,378.6 L133.7,379.4 L137.3,378.8 M141.2,387.7 L141.2,383.5 M132.7,367.1 L136.0,368.5 L137.6,371.3 L138.3,375.1 M206.5,428.3 L206.4,428.6 M207.9,436.0 L207.0,432.6 L206.4,428.6 M393.1,219.1 L391.9,223.4 L392.9,226.5 M392.9,226.5 L388.8,226.6 L383.8,227.7 M383.1,230.0 L383.8,227.7 M420.3,221.9 L422.6,218.0 M319.2,193.1 L323.7,192.6 M305.7,300.4 L304.7,301.8 M303.0,306.5 L304.7,301.8 M285.0,307.5 L285.3,311.6 L287.8,313.7 L288.8,316.8 M285.0,307.5 L285.3,306.1 M285.3,306.1 L289.8,303.6 M289.8,303.6 L292.3,306.6 L295.3,309.0 L298.9,310.3 M292.0,316.6 L288.8,316.8 M292.0,316.6 L294.6,314.0 L298.1,312.2 M298.1,312.2 L298.9,310.3 M283.6,320.4 L288.8,316.8 M303.0,306.5 L298.9,310.3 M278.7,320.8 L278.6,320.7 M278.7,320.8 L277.5,323.7 L275.6,326.7 M278.6,320.7 L275.7,318.7 L272.1,319.2 L269.0,318.1 L266.1,317.4 M275.6,326.7 L271.1,329.1 M271.1,329.1 L268.7,324.9 L264.5,322.9 M264.5,322.9 L264.1,319.8 M264.1,319.8 L266.1,317.4 M275.7,310.9 L277.1,313.6 L276.1,318.0 L278.6,320.7 M275.7,310.9 L278.6,309.2 L281.9,307.4 L285.0,307.5 M283.6,320.4 L278.7,320.8 M268.3,333.9 L271.1,329.1 M258.7,327.8 L261.7,325.6 L264.5,322.9 M265.5,335.3 L268.3,333.9 M265.5,335.3 L260.6,332.7 L258.5,328.9 M257.9,318.5 L264.1,319.8 M310.2,198.8 L312.9,195.6 M317.9,194.0 L318.5,197.0 L320.1,201.1 L320.3,204.9 M310.2,198.8 L309.5,203.1 L309.0,208.1 M309.0,208.1 L313.3,207.8 M320.3,204.9 L316.3,205.5 L313.3,207.8 M109.4,272.8 L108.9,267.8 M109.4,272.8 L112.9,274.9 M120.5,271.6 L120.6,269.1 M112.9,274.9 L116.5,273.4 L120.5,271.6 M108.9,267.8 L110.6,264.6 L114.4,264.1 M114.4,264.1 L117.4,266.2 L120.6,269.1 M96.5,267.0 L100.5,265.2 L103.8,263.2 M96.5,267.0 L93.9,263.9 L91.9,259.9 M91.9,259.9 L93.2,257.3 M93.2,257.3 L97.1,256.0 L100.2,255.1 M100.2,255.1 L101.0,258.1 L104.4,260.2 M104.4,260.2 L103.8,263.2 M98.9,272.4 L96.2,268.2 M96.2,268.2 L96.5,267.0 M109.4,272.8 L105.3,274.8 M105.3,274.8 L101.2,273.8 L98.9,272.4 M108.9,267.8 L105.8,265.4 L103.8,263.2 M82.5,256.7 L82.2,254.4 M86.6,260.4 L82.5,256.7 M86.6,260.4 L91.9,259.9 M90.3,247.1 L91.0,251.0 L92.6,253.8 L93.2,257.3 M101.6,247.8 L100.4,251.4 L100.2,255.1 M111.3,255.9 L107.6,258.3 L104.4,260.2 M109.2,247.0 L110.5,251.8 L111.3,255.9 M109.2,247.0 L109.0,246.9 M114.4,264.1 L115.2,258.0 M111.3,255.9 L115.2,258.0 M87.9,277.4 L88.5,274.3 L90.2,271.4 M87.9,277.4 L84.4,274.8 L80.4,273.5 M90.2,271.4 L87.7,268.3 L84.2,266.5 M80.4,273.5 L79.8,268.2 M84.2,266.5 L79.8,268.2 M88.2,278.7 L87.9,277.4 M88.2,278.7 L85.6,281.2 L82.7,283.9 M76.0,277.7 L80.4,273.5 M96.2,268.2 L94.1,271.0 L90.2,271.4 M86.6,260.4 L84.5,263.1 L84.2,266.5 M59.8,261.4 L60.1,265.3 L61.4,268.3 L60.9,271.8 M59.8,261.4 L64.5,259.5 L68.9,258.8 M60.9,271.8 L65.0,269.8 L69.8,270.6 M69.8,270.6 L71.1,267.6 L73.3,265.0 M68.9,258.8 L73.0,263.6 M73.0,263.6 L73.3,265.0 M60.6,272.1 L60.9,271.8 M56.3,259.5 L59.8,261.4 M69.1,257.3 L68.9,258.8 M72.0,275.9 L69.8,270.6 M79.8,268.2 L75.8,266.8 L73.3,265.0 M82.5,256.7 L79.5,259.2 L77.3,262.2 L73.0,263.6 M190.0,175.4 L191.6,172.6 L195.1,170.8 L197.3,167.9 M190.0,175.4 L185.9,173.5 L182.2,170.8 M183.5,165.0 L186.6,163.8 L190.7,163.6 L194.3,163.9 M183.5,165.0 L182.2,170.8 M194.3,163.9 L196.9,166.5 M196.9,166.5 L197.3,167.9 M186.8,154.7 L182.2,158.1 M181.4,160.4 L182.2,158.1 M193.6,159.0 L194.3,163.9 M186.8,154.7 L190.0,156.6 L193.6,159.0 M181.4,160.4 L183.5,165.0 M193.6,159.0 L197.1,157.0 L199.1,153.3 L200.8,150.4 M207.4,155.7 L205.2,159.2 L202.0,161.0 L200.7,164.6 L196.9,166.5 M202.3,171.1 L197.3,167.9 M143.2,151.2 L144.8,150.1 M141.9,140.9 L142.9,143.9 L142.5,147.3 L144.8,150.1 M141.9,140.9 L139.5,143.4 L137.3,146.3 M143.2,151.2 L139.8,150.3 L137.6,147.3 M137.6,147.3 L137.3,146.3 M181.4,160.4 L177.2,160.8 L173.9,160.1 L170.1,161.7 M181.3,171.3 L182.2,170.8 M181.3,171.3 L175.1,170.0 M170.1,161.7 L170.6,164.7 M175.1,170.0 L172.2,167.9 L170.6,164.7 M247.8,200.7 L245.8,204.1 L243.2,205.2 L241.8,208.3 M236.0,196.2 L236.9,199.1 L236.9,201.9 L237.3,205.9 M237.3,205.9 L241.8,208.3 M250.0,209.8 L246.5,212.6 M249.8,200.9 L250.3,205.2 L250.0,209.8 M246.5,212.6 L241.7,209.0 M241.8,208.3 L241.7,209.0 M258.9,212.0 L257.9,212.7 M250.0,209.8 L252.4,212.5 M252.4,212.5 L257.9,212.7 M270.8,205.6 L273.3,206.9 M227.4,232.2 L230.1,229.3 L230.8,224.4 M227.4,232.2 L224.3,232.4 M224.3,232.4 L222.0,231.0 M222.0,231.0 L224.6,227.4 L225.7,222.9 M225.7,222.9 L230.1,223.5 M230.1,223.5 L230.8,224.4 M235.8,229.0 L236.0,233.4 M230.2,234.3 L236.0,233.4 M230.2,234.3 L227.4,232.2 M233.6,225.6 L230.8,224.4 M233.6,225.6 L235.8,229.0 M227.8,244.4 L229.2,241.4 L229.8,237.5 L230.2,234.3 M223.5,242.6 L226.0,239.6 L223.9,235.8 L224.3,232.4 M177.7,217.3 L174.5,216.2 L171.7,214.2 M177.7,217.3 L176.2,220.0 L174.6,223.0 M173.3,223.0 L174.6,223.0 M173.3,223.0 L170.1,219.7 M170.1,219.7 L169.8,215.0 M169.8,215.0 L171.7,214.2 M179.5,217.0 L180.6,214.9 M179.7,210.8 L180.6,214.9 M179.7,210.8 L176.2,208.8 M176.2,208.8 L172.3,212.6 M172.3,212.6 L171.7,214.2 M179.5,217.0 L177.7,217.3 M169.3,226.4 L173.3,223.0 M169.3,226.4 L165.0,224.5 M165.0,224.5 L166.5,220.9 L170.1,219.7 M167.4,214.5 L169.8,215.0 M165.0,224.5 L160.0,224.4 M172.3,212.6 L169.9,210.1 L170.0,206.6 M161.3,208.7 L165.5,208.6 L170.0,206.6 M279.4,279.1 L279.4,274.5 M278.1,281.1 L279.4,279.1 M269.8,277.2 L273.2,281.1 M269.8,277.2 L271.8,274.7 L273.9,272.3 M273.2,281.1 L278.1,281.1 M273.9,272.3 L279.4,274.5 M234.9,195.9 L232.8,199.4 L230.4,203.1 M237.3,205.9 L234.7,207.6 M230.4,203.1 L234.7,207.6 M194.9,201.9 L190.7,201.4 M194.9,201.9 L194.1,205.3 L193.3,208.4 M193.3,208.4 L187.4,209.0 M188.9,202.3 L190.7,201.4 M188.9,202.3 L186.9,208.2 M187.4,209.0 L186.9,208.2 M189.1,196.6 L190.7,201.4 M189.1,196.6 L183.1,197.7 M183.1,197.7 L184.1,200.2 M184.1,200.2 L188.9,202.3 M182.2,205.1 L184.1,200.2 M183.6,207.0 L186.9,208.2 M183.6,207.0 L182.2,205.1 M99.9,190.0 L102.5,187.5 M99.9,190.0 L102.3,192.5 L102.5,196.1 L105.8,198.5 L105.9,202.3 L107.9,204.6 L109.5,207.7 M102.5,187.5 L105.2,190.5 L108.1,191.3 L111.3,192.3 L115.1,193.0 L117.6,195.5 M109.5,207.7 L113.9,205.8 L117.6,203.6 M117.6,203.6 L118.5,199.2 M118.5,199.2 L117.6,195.5 M99.1,190.3 L99.9,190.0 M103.4,185.2 L102.5,187.5 M108.1,210.2 L109.5,207.7 M123.5,214.0 L123.0,210.0 L122.4,207.2 M122.4,207.2 L117.6,203.6 M91.6,280.6 L96.6,279.2 M91.6,280.6 L92.9,285.7 M92.9,285.7 L97.7,286.9 L101.0,289.5 M96.6,279.2 L100.3,281.1 L103.2,283.4 M101.0,289.5 L104.3,286.4 M104.3,286.4 L103.2,283.4 M88.2,278.7 L91.6,280.6 M98.9,272.4 L98.3,276.7 L96.6,279.2 M89.1,290.5 L92.9,285.7 M97.5,300.6 L99.8,297.7 L101.0,293.5 L101.0,289.5 M105.3,274.8 L103.4,278.9 L103.2,283.4 M108.0,286.8 L104.3,286.4 M112.9,274.9 L113.5,278.3 L113.9,282.6 M115.2,258.0 L119.0,257.0 M120.6,269.1 L122.7,265.5 L125.6,262.4 M125.6,262.4 L121.5,261.1 L119.0,257.0 M109.2,247.0 L112.5,246.5 L116.0,245.5 L118.9,245.4 M118.9,245.4 L120.4,249.1 L121.0,252.6 M121.0,252.6 L119.0,257.0 M165.0,460.8 L162.7,455.9 M162.7,455.9 L164.1,452.9 M173.5,452.4 L174.5,458.1 M173.5,452.4 L167.7,451.3 M167.7,451.3 L164.1,452.9 M162.5,470.4 L160.8,470.2 M244.5,251.6 L244.4,255.9 M244.5,251.6 L248.0,251.3 L250.9,248.7 M250.9,248.7 L251.2,252.2 L253.6,255.0 M253.6,255.0 L249.9,257.5 L246.4,258.3 M246.4,258.3 L244.4,255.9 M237.3,255.6 L240.7,257.3 L244.4,255.9 M241.8,248.1 L236.6,249.2 M241.8,248.1 L244.5,251.6 M237.1,265.5 L240.9,264.3 L243.7,261.5 L246.2,260.0 M246.2,260.0 L246.4,258.3 M241.7,269.7 L244.8,270.0 L248.3,270.5 M246.9,277.4 L242.8,278.1 L238.8,278.9 M246.9,277.4 L248.7,274.2 M248.7,274.2 L248.3,270.5 M246.2,260.0 L248.8,263.4 L250.9,267.3 M248.3,270.5 L250.9,267.3 M254.3,255.2 L253.6,255.0 M254.3,255.2 L257.0,259.5 L257.2,264.2 M257.2,264.2 L253.5,266.9 M250.9,267.3 L253.5,266.9 M253.5,266.9 L256.7,269.7 L257.5,273.3 M248.7,274.2 L251.6,276.3 L255.2,277.2 M257.5,273.3 L255.2,277.2 M193.7,238.7 L199.7,238.7 M193.7,238.7 L191.9,242.0 L189.4,245.3 M192.1,248.1 L189.5,245.7 M192.1,248.1 L197.0,247.6 L200.8,247.1 M189.5,245.7 L189.4,245.3 M200.8,247.1 L202.3,244.9 M202.3,244.9 L202.0,241.0 M202.0,241.0 L199.7,238.7 M180.3,251.4 L183.5,249.9 L187.2,249.0 L189.5,245.7 M192.0,255.6 L191.4,256.1 M192.0,255.6 L191.8,251.2 L192.1,248.1 M182.7,256.8 L187.5,257.1 L191.4,256.1 M199.1,258.7 L201.9,256.4 L203.5,253.6 M203.5,253.6 L202.7,249.8 L200.8,247.1 M192.0,255.6 L194.4,258.9 L199.1,258.7 M203.5,253.6 L207.1,252.2 L209.8,255.1 M212.1,245.5 L212.6,249.1 L211.5,252.2 L209.8,255.1 M212.1,245.5 L211.8,245.3 M211.8,245.3 L207.2,244.0 L202.3,244.9 M262.7,340.1 L259.2,342.3 L255.7,343.2 M265.5,335.3 L262.7,340.1 M253.3,343.0 L255.7,343.2 M243.7,351.3 L241.3,356.9 M236.4,361.0 L241.3,356.9 M207.5,437.9 L207.9,436.0 M207.8,441.7 L207.5,437.9 M246.8,308.1 L243.9,304.7 M246.8,308.1 L249.7,304.8 L253.4,302.4 M243.9,304.7 L245.5,299.1 M253.4,302.4 L248.7,298.5 M245.5,299.1 L248.7,298.5 M256.3,302.5 L256.5,306.0 L256.5,310.3 M246.8,310.6 L246.8,308.1 M256.3,302.5 L253.4,302.4 M234.3,311.4 L234.2,311.2 M243.9,304.7 L240.3,303.5 L236.0,304.2 M234.2,311.2 L236.0,307.8 L236.0,304.2 M224.1,320.1 L223.4,318.9 M223.4,318.9 L223.6,314.6 L225.6,310.5 M234.2,311.2 L230.1,310.0 L225.6,310.5 M237.6,281.4 L239.1,285.0 L242.5,286.2 L246.5,287.6 M237.4,280.8 L237.6,281.4 M246.9,277.4 L248.7,281.4 L249.9,284.9 M249.9,284.9 L246.5,287.6 M225.5,350.6 L229.0,352.5 L230.1,355.3 L232.0,358.5 L233.6,361.7 M225.5,350.6 L222.1,352.1 L218.1,352.9 M216.4,355.4 L218.1,352.9 M216.4,355.4 L218.1,357.7 L217.8,363.0 L219.5,365.3 L221.2,368.4 M221.2,368.4 L224.0,366.5 L227.1,366.7 L230.3,365.2 M230.3,365.2 L233.6,361.7 M225.6,350.4 L225.5,350.6 M236.4,361.0 L233.6,361.7 M214.3,344.9 L216.4,349.1 L218.1,352.9 M215.0,342.7 L214.3,344.9 M221.1,368.6 L221.2,368.4 M218.1,256.7 L217.5,260.9 L217.5,265.2 M218.1,256.7 L214.4,256.0 L210.2,255.6 M210.2,255.6 L209.4,258.8 L209.3,262.0 L207.9,265.0 M217.5,265.2 L214.0,264.3 L211.4,267.1 L207.9,265.0 M219.1,267.4 L217.5,265.2 M219.5,255.8 L218.1,256.7 M212.1,245.5 L216.8,245.4 M209.8,255.1 L210.2,255.6 M199.1,258.7 L199.0,263.2 L200.8,267.0 M200.8,267.0 L204.0,268.4 M204.0,268.4 L207.9,265.0 M204.0,268.4 L204.6,270.0 M180.7,275.4 L181.2,272.4 L181.0,268.4 L181.1,265.2 M180.7,275.4 L183.9,275.8 L187.7,274.9 L191.0,275.5 M181.1,265.2 L185.8,265.1 L189.7,264.7 M191.0,275.5 L190.9,271.2 L194.7,268.7 M194.7,268.7 L189.7,264.7 M168.1,266.5 L168.2,271.5 M179.7,276.4 L176.6,273.8 L171.7,272.8 L168.2,271.5 M180.3,264.1 L181.1,265.2 M179.7,276.4 L180.7,275.4 M194.8,282.0 L192.1,279.1 L191.0,275.5 M178.2,283.2 L179.7,286.3 L185.0,285.5 L186.5,288.7 M179.7,276.4 L179.4,279.9 L178.2,283.2 M191.4,256.1 L190.4,260.7 L189.7,264.7 M200.8,267.0 L194.7,268.7 M164.1,275.7 L168.2,271.5 M164.1,275.7 L165.3,280.5 L166.0,284.8 M178.2,283.2 L174.7,284.6 L171.9,287.2 M171.9,287.2 L166.0,284.8 M183.5,301.2 L179.9,302.8 L177.8,305.9 M183.5,301.2 L182.8,298.4 M182.8,298.4 L178.4,296.9 L175.5,297.8 L172.3,294.7 M177.8,305.9 L172.2,304.1 M172.2,304.1 L169.8,300.6 M172.3,294.7 L170.0,298.3 M169.8,300.6 L170.0,298.3 M194.1,295.1 L194.9,300.1 M187.7,304.4 L190.7,301.5 L194.9,300.1 M187.1,291.4 L184.8,294.7 L182.8,298.4 M187.7,304.4 L183.5,301.2 M171.9,287.2 L170.0,290.9 L172.3,294.7 M160.6,307.1 L161.5,310.5 M160.6,307.1 L163.1,304.1 L166.4,302.5 L169.8,300.6 M161.5,310.5 L166.0,311.6 L170.5,310.9 M170.5,310.9 L172.3,308.1 L172.2,304.1 M166.0,284.8 L162.6,285.6 L159.6,287.5 M157.1,295.1 L156.6,294.6 M159.6,287.5 L158.8,290.8 L156.6,294.6 M157.1,295.1 L160.0,295.8 L163.5,297.4 L167.5,298.1 L170.0,298.3 M160.3,306.9 L160.5,303.2 L158.7,298.8 L157.1,295.1 M160.6,307.1 L160.3,306.9 M164.0,237.5 L161.8,239.7 L159.6,241.2 L157.6,244.8 M164.0,237.5 L162.4,232.5 M157.6,244.8 L154.2,242.3 L153.0,238.4 L150.8,235.6 M162.4,232.5 L160.0,230.0 L157.8,226.8 M150.8,235.6 L152.6,232.4 L152.9,228.7 M157.8,226.8 L152.9,228.7 M166.7,238.1 L170.8,240.0 L172.2,243.8 M166.7,238.1 L164.0,237.5 M157.6,249.0 L157.5,248.9 M157.5,248.9 L157.6,244.8 M169.1,230.7 L165.8,232.7 L162.4,232.5 M169.1,230.7 L171.4,234.1 M171.4,234.1 L166.7,238.1 M169.9,227.8 L169.3,226.4 M159.1,224.7 L157.8,226.8 M169.1,230.7 L169.9,227.8 M141.7,221.9 L144.6,223.9 L146.6,226.0 L149.8,227.6 L152.9,228.7 M141.7,221.9 L141.0,220.6 M155.2,212.1 L154.3,212.1 M154.3,212.1 L151.1,214.4 L147.9,216.8 L144.4,218.2 L141.0,220.6 M131.7,261.7 L125.6,262.4 M131.7,261.7 L133.9,257.6 L134.1,253.1 M121.0,252.6 L124.5,251.3 L127.4,252.6 L131.2,251.9 M134.1,253.1 L131.2,251.9 M118.9,245.4 L122.6,240.9 M131.2,251.9 L129.3,249.0 L127.1,246.3 L125.0,243.4 L122.6,240.9 M118.3,234.9 L122.1,235.6 L123.0,239.3 M123.0,239.3 L122.6,240.9 M160.7,314.2 L161.5,310.5 M165.0,320.6 L170.7,318.9 M170.5,310.9 L172.1,313.3 M172.1,313.3 L170.7,318.9 M177.8,305.9 L179.1,312.0 M172.1,313.3 L175.9,313.1 L179.1,312.0 M179.0,339.3 L174.2,340.3 L170.6,343.3 M168.6,343.0 L170.6,343.3 M169.6,331.3 L172.4,330.5 M179.0,339.3 L178.3,334.1 M178.3,334.1 L175.8,331.1 L172.4,330.5 M170.7,318.9 L173.9,320.4 L177.0,322.8 M172.4,330.5 L175.8,327.1 L177.0,322.8 M180.5,313.0 L181.8,317.5 L179.8,322.3 M179.1,312.0 L180.5,313.0 M177.0,322.8 L179.8,322.3 M180.5,313.0 L184.7,312.0 M187.7,304.4 L188.1,306.9 M188.1,306.9 L184.7,312.0 M127.6,310.2 L131.4,305.5 M121.3,305.7 L125.0,303.0 L126.9,299.0 M131.4,305.5 L127.8,303.1 L126.9,299.0 M121.0,284.8 L120.8,284.9 M121.0,284.8 L123.8,287.4 L127.1,288.0 L130.2,289.7 M118.8,294.2 L123.0,295.2 L127.0,297.3 M130.2,289.7 L130.2,294.6 M130.2,294.6 L127.0,297.3 M126.9,299.0 L127.0,297.3 M139.2,324.8 L139.6,322.4 M149.0,316.0 L148.3,315.4 M139.6,322.4 L143.3,319.8 L146.9,319.7 L148.3,315.4 M133.2,315.3 L135.6,314.9 M128.7,321.3 L132.5,325.0 M139.6,322.4 L136.4,319.3 L135.6,314.9 M160.3,306.9 L154.3,306.7 M154.3,306.7 L152.3,309.3 L151.1,312.6 L147.7,314.0 M147.7,314.0 L148.3,315.4 M156.6,294.6 L154.1,295.0 M154.3,306.7 L151.3,304.3 L149.3,301.1 M154.1,295.0 L152.8,299.0 L149.3,301.1 M147.3,367.7 L147.1,366.6 M147.3,367.7 L151.1,368.2 L154.5,370.3 L157.9,372.5 M147.1,366.6 L149.9,364.9 L152.9,363.6 L156.4,362.7 M156.4,362.7 L159.8,364.5 L162.8,367.3 M157.9,372.5 L162.8,368.6 M162.8,367.3 L162.8,368.6 M145.3,363.9 L147.1,366.6 M146.6,369.5 L147.3,367.7 M157.1,355.0 L155.0,359.0 L156.4,362.7 M168.5,358.5 L165.6,355.0 M168.5,358.5 L168.5,358.9 M168.5,358.9 L167.3,361.7 L163.8,363.9 L162.8,367.3 M103.6,334.4 L104.5,335.5 M115.3,325.9 L114.3,329.6 L114.1,332.9 M114.1,332.9 L111.5,335.4 L107.2,334.6 L104.5,335.5 M104.5,335.5 L105.2,339.1 L105.7,342.6 M107.9,351.2 L107.6,347.8 L107.3,344.5 M105.7,342.6 L107.3,344.5 M183.0,349.2 L176.9,350.0 M183.0,349.2 L184.3,352.7 L186.1,356.3 M181.8,359.7 L186.1,356.3 M181.8,359.7 L177.7,358.6 L174.0,356.3 M174.0,356.3 L176.2,353.1 L176.9,350.0 M186.0,342.7 L184.4,345.8 L183.0,349.2 M186.0,342.7 L182.8,339.9 L179.0,339.3 M170.6,343.3 L173.2,347.1 L176.9,350.0 M168.5,358.5 L174.0,356.3 M206.4,428.6 L203.1,429.5 L199.5,429.8 L196.6,430.1 M206.5,428.3 L206.1,423.7 M196.6,430.1 L192.4,427.6 L189.5,424.0 M189.5,424.0 L193.2,421.8 L197.4,419.4 M206.1,423.7 L203.3,422.7 L200.2,421.1 L197.4,419.4 M149.1,379.0 L151.1,382.5 L155.6,381.7 M157.9,372.5 L156.9,376.0 L157.1,380.0 M155.6,381.7 L157.1,380.0 M169.4,378.2 L168.2,373.0 M169.4,378.2 L173.6,378.1 L177.9,377.3 M168.2,373.0 L171.8,369.3 L175.6,367.4 M177.9,377.3 L179.0,373.1 L178.0,367.8 M178.0,367.8 L175.6,367.4 M157.1,380.0 L160.9,379.7 L164.8,378.1 L168.8,379.4 M168.8,379.4 L169.4,378.2 M162.8,368.6 L165.2,371.1 L168.2,373.0 M168.8,379.4 L169.0,384.3 L169.9,388.0 M169.9,388.0 L173.9,387.2 L177.2,387.2 M177.2,387.2 L180.6,385.1 L181.2,379.6 M181.2,379.6 L177.9,377.3 M168.5,358.9 L171.3,361.9 L172.9,364.6 L175.6,367.4 M180.6,366.6 L182.6,363.1 L181.8,359.7 M180.6,366.6 L178.0,367.8 M221.1,368.6 L216.2,371.3 M213.6,384.0 L212.6,378.9 L214.5,374.5 M216.2,371.3 L214.5,374.5 M323.7,192.6 L329.2,195.0 M304.7,301.8 L301.2,301.2 L297.5,301.4 L294.7,299.5 L291.0,298.8 M289.8,303.6 L290.7,299.1 M290.7,299.1 L291.0,298.8 M306.3,297.6 L302.1,295.0 L299.0,292.5 M299.0,292.5 L293.3,292.6 M305.7,300.4 L306.3,297.6 M291.0,298.8 L293.4,296.6 L293.3,292.6 M294.8,284.8 L295.5,284.5 M294.8,284.8 L292.8,287.4 L291.5,290.6 M298.9,288.3 L295.5,284.5 M299.0,292.5 L298.9,288.3 M291.5,290.6 L293.3,292.6 M273.9,309.1 L271.5,311.4 L267.7,311.9 L266.1,314.9 M273.9,309.1 L273.8,308.7 M273.8,308.7 L270.4,307.5 L268.1,305.0 M266.1,314.9 L263.0,311.1 M263.0,311.1 L265.3,305.6 M265.3,305.6 L268.1,305.0 M275.7,310.9 L273.9,309.1 M266.1,317.4 L266.1,314.9 M257.7,311.7 L263.0,311.1 M256.3,302.5 L258.2,301.0 M258.2,301.0 L261.8,303.8 L265.3,305.6 M275.5,296.8 L278.3,300.6 M275.5,296.8 L275.1,292.6 M277.9,290.8 L275.1,292.6 M277.9,290.8 L281.3,291.6 L284.5,292.5 M284.5,292.5 L285.2,296.7 M285.2,296.7 L280.6,300.9 M280.6,300.9 L278.3,300.6 M269.1,300.6 L268.1,305.0 M269.1,300.6 L272.6,298.8 L275.5,296.8 M273.8,308.7 L274.7,303.4 L278.3,300.6 M290.7,299.1 L285.2,296.7 M285.3,306.1 L283.2,303.2 L280.6,300.9 M283.5,239.1 L280.4,239.8 M280.4,239.8 L281.3,243.5 L280.2,247.0 M283.5,239.1 L283.2,243.7 L286.6,247.2 M286.6,247.2 L283.2,248.6 L280.2,247.0 M322.3,205.7 L322.1,212.0 M322.3,205.7 L325.6,204.5 L328.6,202.0 L332.2,202.1 M322.1,212.0 L324.5,211.9 L329.3,210.0 L332.4,208.8 M332.2,202.1 L334.7,205.9 M334.7,205.9 L332.4,208.8 M320.3,204.9 L322.3,205.7 M313.3,207.8 L316.0,208.3 L319.7,211.1 L322.0,212.1 M322.0,212.1 L322.1,212.0 M329.2,195.0 L331.2,197.6 M331.2,197.6 L332.2,202.1 M334.7,205.9 L336.3,206.5 M332.2,221.0 L332.3,217.0 L332.1,214.5 L331.5,211.3 M331.5,211.3 L332.4,208.8 M335.2,223.9 L332.2,221.0 M177.0,183.8 L180.6,179.9 M180.6,179.9 L185.3,181.9 M181.2,187.0 L184.2,185.9 M181.2,187.0 L177.0,183.8 M185.3,181.9 L184.2,185.9 M181.3,171.3 L179.7,175.3 M179.7,175.3 L180.6,179.9 M190.0,175.4 L190.5,178.7 M185.3,181.9 L190.5,178.7 M142.5,138.7 L141.9,140.9 M137.3,146.3 L133.2,144.8 L130.0,143.7 L127.0,140.7 M132.5,153.5 L128.6,152.4 L125.1,150.6 M137.6,147.3 L135.3,150.0 L132.5,153.5 M127.0,140.7 L127.3,144.7 L125.6,147.3 L125.1,150.6 M156.5,149.9 L160.9,147.0 M156.5,149.9 L158.7,153.5 L161.0,157.1 L162.1,160.7 M160.9,147.0 L164.2,148.5 L167.8,148.4 M167.8,148.4 L170.4,152.5 M170.4,152.5 L168.5,156.0 L168.4,160.2 M162.1,160.7 L168.4,160.2 M176.6,151.4 L170.4,152.5 M182.2,158.1 L178.9,154.7 L176.6,151.4 M170.1,161.7 L168.4,160.2 M161.1,161.6 L162.1,160.7 M161.1,161.6 L154.8,161.4 M153.5,149.7 L156.5,149.9 M153.5,149.7 L152.3,153.4 L150.7,157.6 M150.7,157.6 L154.8,161.4 M279.0,254.4 L278.0,248.4 M273.7,246.9 L278.0,248.4 M271.1,247.8 L273.7,246.9 M270.9,248.0 L271.1,247.8 M270.9,248.0 L268.9,251.3 L269.9,255.1 M279.0,254.4 L275.1,255.5 L272.5,257.1 M272.5,257.1 L269.9,255.1 M260.5,252.4 L261.1,249.3 M260.5,252.4 L264.5,256.4 M261.1,249.3 L264.1,247.7 L267.7,249.4 L270.9,248.0 M269.9,255.1 L264.5,256.4 M257.2,264.2 L262.9,264.3 M254.3,255.2 L257.2,253.5 L260.5,252.4 M264.5,256.4 L263.9,260.3 L262.9,264.3 M241.8,248.1 L243.6,244.4 M231.1,245.6 L234.1,243.3 L237.7,241.5 L239.1,237.8 M243.6,244.4 L242.7,240.1 L239.1,237.8 M236.0,233.4 L239.3,236.7 M239.1,237.8 L239.3,236.7 M238.5,212.2 L240.0,211.4 M238.5,212.2 L238.2,218.1 M240.0,211.4 L241.0,215.5 L244.7,217.6 M238.2,218.1 L240.6,220.5 M244.7,217.6 L241.0,220.6 M240.6,220.5 L241.0,220.6 M241.7,209.0 L240.0,211.4 M234.7,207.6 L233.9,211.4 M233.9,211.4 L238.5,212.2 M246.1,217.2 L244.7,217.6 M246.5,212.6 L246.1,217.2 M247.9,226.9 L243.9,230.1 M247.9,226.9 L248.0,226.5 M248.0,226.5 L245.6,223.6 L242.1,222.8 M243.9,230.1 L240.6,227.3 M242.1,222.8 L240.6,227.3 M242.6,235.1 L239.3,236.7 M242.6,235.1 L243.9,230.1 M235.8,229.0 L240.6,227.3 M233.6,225.6 L237.8,224.5 L240.6,220.5 M241.0,220.6 L242.1,222.8 M248.6,218.2 L249.2,221.8 L249.0,225.2 M248.6,218.2 L249.9,217.8 M249.9,217.8 L255.5,219.6 M249.0,225.2 L253.9,224.1 M253.9,224.1 L256.2,220.9 M256.2,220.9 L255.5,219.6 M248.0,226.5 L249.0,225.2 M246.1,217.2 L248.6,218.2 M252.4,212.5 L249.9,217.8 M257.9,212.7 L257.4,216.9 L255.5,219.6 M249.8,229.2 L247.9,226.9 M249.8,229.2 L253.2,230.4 L256.3,231.6 M256.4,230.9 L256.3,231.6 M256.4,230.9 L256.0,226.9 L253.9,224.1 M260.6,212.7 L262.2,214.3 M273.3,206.9 L275.4,210.0 M275.4,210.0 L270.7,213.4 M262.2,214.3 L266.0,213.3 L270.7,213.4 M277.8,212.6 L276.7,216.5 L273.5,219.1 L270.4,222.0 M277.8,212.6 L276.8,216.0 L278.0,220.6 L275.9,224.1 M275.9,224.1 L270.4,222.0 M282.0,212.1 L278.2,211.7 M278.2,211.7 L277.8,212.6 M275.9,224.1 L276.7,226.1 M282.0,212.1 L280.2,215.5 L281.9,219.5 L281.8,223.2 M281.8,223.2 L276.7,226.1 M202.0,241.0 L205.4,239.6 L207.1,236.4 L209.6,234.8 M211.8,245.3 L211.3,241.5 L212.5,238.7 L210.2,234.8 M209.6,234.8 L210.2,234.8 M220.7,242.6 L217.8,240.3 L215.7,236.7 L214.7,232.9 M210.2,234.8 L214.7,232.9 M218.6,230.9 L222.0,231.0 M218.6,230.9 L215.2,232.2 M214.7,232.9 L215.2,232.2 M158.3,202.7 L153.3,202.1 L149.3,201.9 M158.3,202.7 L158.0,202.0 M151.8,194.8 L153.9,199.4 L158.0,202.0 M151.8,194.8 L149.7,197.1 M149.3,201.9 L149.7,197.1 M154.3,212.1 L151.4,209.8 L149.2,207.4 L146.1,205.4 M159.9,204.7 L159.9,208.1 M159.9,204.7 L158.3,202.7 M149.3,201.9 L146.1,205.4 M141.0,220.6 L137.5,218.1 M137.5,218.1 L139.8,215.3 L140.9,211.7 L142.2,208.4 L144.5,205.3 M146.1,205.4 L144.5,205.3 M187.2,211.0 L186.0,212.9 M187.2,211.0 L189.7,213.1 L192.4,215.1 M186.0,212.9 L187.8,218.2 M192.4,215.1 L190.2,219.1 M190.2,219.1 L187.8,218.2 M183.6,207.0 L179.7,210.8 M180.6,214.9 L186.0,212.9 M187.4,209.0 L187.2,211.0 M193.5,214.5 L195.4,210.7 M195.4,210.7 L193.3,208.4 M193.5,214.5 L192.4,215.1 M182.4,220.1 L179.5,217.0 M182.4,220.1 L187.8,218.2 M196.2,222.3 L192.3,221.6 L190.4,219.4 M190.4,219.4 L190.2,219.1 M196.2,222.3 L196.2,222.3 M196.2,222.3 L197.6,217.6 M197.6,217.6 L193.5,214.5 M182.2,205.1 L179.2,204.5 M176.2,208.8 L176.1,206.7 M179.2,204.5 L176.1,206.7 M170.0,206.6 L172.1,203.8 M176.1,206.7 L172.1,203.8 M172.1,203.8 L172.0,203.6 M159.9,204.7 L164.3,203.1 L165.8,199.7 M165.8,199.7 L168.3,202.6 L172.0,203.6 M285.7,277.9 L283.6,279.2 M285.7,277.9 L289.8,280.4 M283.6,279.2 L285.5,281.8 M285.5,281.8 L289.5,281.5 M289.8,280.4 L289.5,281.5 M286.4,274.2 L286.3,273.8 M281.2,272.6 L286.3,273.8 M279.4,274.5 L281.2,272.6 M279.4,279.1 L283.6,279.2 M286.4,274.2 L285.7,277.9 M289.9,275.6 L286.4,274.2 M291.3,278.9 L289.9,275.6 M291.3,278.9 L289.8,280.4 M283.9,285.1 L285.5,281.8 M279.7,284.8 L283.9,285.1 M279.7,284.8 L278.1,281.1 M291.3,278.9 L292.5,278.8 M292.5,278.8 L296.4,282.7 M295.5,284.5 L296.4,282.7 M294.8,284.8 L289.8,283.1 M289.8,283.1 L289.5,281.5 M272.5,257.1 L273.8,260.5 L273.4,264.7 M273.4,264.7 L279.8,264.5 M279.0,254.4 L281.3,256.1 M281.3,256.1 L282.5,259.9 L280.5,263.5 M280.5,263.5 L279.8,264.5 M289.5,260.4 L288.0,262.2 M290.6,257.5 L289.5,260.4 M289.6,254.1 L285.8,256.6 L281.3,256.1 M290.6,257.5 L289.6,254.1 M280.5,263.5 L284.1,263.1 L288.0,262.2 M273.9,272.3 L272.6,269.1 L272.3,265.7 M281.2,272.6 L281.4,267.5 M272.3,265.7 L273.4,264.7 M279.8,264.5 L281.4,267.5 M230.1,223.5 L230.9,221.0 M238.2,218.1 L235.2,217.8 M230.9,221.0 L235.2,217.8 M230.4,203.1 L227.0,205.3 M227.0,205.3 L227.1,205.5 M233.9,211.4 L233.4,211.7 M227.1,205.5 L229.8,208.9 L233.4,211.7 M235.2,217.8 L232.8,212.6 M230.9,221.0 L231.7,217.6 L229.2,214.4 M229.2,214.4 L232.8,212.6 M233.4,211.7 L232.8,212.6 M225.7,222.9 L225.1,222.5 M218.6,230.9 L218.6,227.1 L219.7,223.2 M219.7,223.2 L225.1,222.5 M227.3,191.6 L225.0,195.9 L222.5,199.9 M227.0,205.3 L226.3,205.0 M226.3,205.0 L222.7,200.8 M222.5,199.9 L222.7,200.8 M222.7,200.8 L219.7,202.7 L217.2,205.5 M226.3,205.0 L221.7,207.3 M221.7,207.3 L217.2,205.5 M190.2,194.5 L194.4,195.8 M190.2,194.5 L188.9,190.2 M195.0,190.7 L195.8,194.3 M195.0,190.7 L191.7,188.3 M194.4,195.8 L195.8,194.3 M191.7,188.3 L189.0,190.1 M188.9,190.2 L189.0,190.1 M195.4,201.7 L194.4,195.8 M194.9,201.9 L195.4,201.7 M189.1,196.6 L190.2,194.5 M180.6,189.5 L182.3,193.9 M180.6,189.5 L181.2,187.0 M182.3,193.9 L185.9,193.7 L188.9,190.2 M184.2,185.9 L186.4,188.2 L189.0,190.1 M195.8,194.3 L199.0,194.4 M199.6,189.6 L195.0,190.7 M199.6,189.6 L201.3,192.1 M199.0,194.4 L201.3,192.1 M217.6,185.0 L216.3,189.3 M217.6,185.0 L215.1,187.0 L210.8,186.9 L207.9,187.9 M216.3,189.3 L213.7,191.5 L211.9,194.4 L209.2,196.8 M209.2,196.8 L205.6,194.9 M207.9,187.9 L204.7,192.6 M205.6,194.9 L204.7,192.6 M196.5,201.8 L199.9,199.4 M196.5,201.8 L200.3,206.2 M200.3,206.2 L203.0,206.7 M199.9,199.4 L202.5,199.4 M203.8,206.3 L203.9,201.1 M203.8,206.3 L203.0,206.7 M203.9,201.1 L202.5,199.4 M199.0,194.4 L199.9,199.4 M195.4,201.7 L196.5,201.8 M195.4,210.7 L196.6,210.7 M196.6,210.7 L200.3,206.2 M201.3,192.1 L204.7,192.6 M205.6,194.9 L202.5,199.4 M204.3,206.4 L203.8,206.3 M204.3,206.4 L208.6,204.2 M203.9,201.1 L208.7,201.0 M208.6,204.2 L208.7,201.0 M130.2,289.7 L134.4,284.9 M130.2,294.6 L133.6,295.4 L136.2,297.7 L139.5,297.8 M143.8,288.1 L142.9,291.7 L140.3,293.7 L139.5,297.8 M134.4,284.9 L138.5,285.8 L143.0,286.2 M143.8,288.1 L143.5,286.7 M143.5,286.7 L143.0,286.2 M143.8,288.1 L146.9,290.3 L151.2,291.9 L154.1,295.0 M159.6,287.5 L156.0,285.2 L152.9,281.9 M143.5,286.7 L146.4,284.3 L150.0,284.5 L152.9,281.9 M164.1,275.7 L160.9,274.5 L157.0,273.4 L153.9,272.7 M152.9,281.9 L153.6,277.3 L153.9,272.7 M155.7,266.2 L153.5,272.2 M153.9,272.7 L153.5,272.2 M121.0,284.8 L124.3,279.7 M134.4,284.9 L132.3,280.7 M132.3,280.7 L127.9,281.1 L124.3,279.7 M120.5,271.6 L123.3,274.2 M124.3,279.7 L123.3,274.2 M188.2,455.1 L192.2,451.0 M188.2,455.1 L184.1,453.4 M192.2,451.0 L189.9,447.3 L184.8,445.2 M184.1,453.4 L182.5,449.0 M182.5,449.0 L184.1,445.3 M184.8,445.2 L184.1,445.3 M202.7,452.2 L198.5,450.3 M191.0,463.1 L190.1,459.0 L188.2,455.1 M198.5,450.3 L192.2,451.0 M179.4,460.6 L181.0,455.9 L184.1,453.4 M173.9,451.8 L178.9,450.7 L182.5,449.0 M173.5,452.4 L173.9,451.8 M151.1,459.0 L153.0,461.9 L153.7,465.6 M151.6,456.4 L155.2,454.8 L158.8,454.5 L162.7,455.9 M151.6,456.4 L151.1,459.0 M160.8,470.2 L157.7,467.0 L153.7,465.6 M132.3,413.7 L133.3,416.3 M261.1,273.2 L264.9,277.6 M261.1,273.2 L263.2,269.3 L263.6,265.0 M267.3,266.2 L263.6,265.0 M267.3,266.2 L266.5,269.7 L268.2,273.5 L266.9,276.9 M266.9,276.9 L264.9,277.6 M257.5,273.3 L261.1,273.2 M262.9,264.3 L263.6,265.0 M272.3,265.7 L267.3,266.2 M269.8,277.2 L266.9,276.9 M202.7,290.8 L205.3,296.5 M214.3,288.9 L214.3,295.0 M214.3,295.0 L211.5,297.2 M205.3,296.5 L211.5,297.2 M196.2,229.8 L195.0,232.8 M196.2,229.8 L198.7,229.1 M195.0,232.8 L199.7,234.8 M198.7,229.1 L201.1,232.7 M201.1,232.7 L199.7,234.8 M197.0,222.7 L199.9,226.5 M199.9,226.5 L198.7,229.1 M196.2,222.3 L197.0,222.7 M193.1,226.6 L196.2,229.8 M196.2,222.3 L193.1,226.6 M192.3,234.3 L195.0,232.8 M192.3,234.3 L193.7,238.7 M199.7,238.7 L199.7,234.8 M206.0,231.6 L209.6,234.8 M206.0,231.6 L201.1,232.7 M182.4,220.1 L182.6,222.1 M190.4,219.4 L187.9,225.3 M187.9,225.3 L182.6,222.1 M214.3,295.0 L217.9,296.4 L221.9,298.3 M212.5,306.3 L210.9,301.5 L211.5,297.2 M221.6,306.3 L222.5,303.3 M215.5,308.2 L221.6,306.3 M215.5,308.2 L212.5,306.3 M221.9,298.3 L222.5,303.3 M236.0,304.2 L234.9,300.9 M225.6,310.5 L221.6,306.3 M222.5,303.3 L226.1,301.0 L231.0,302.0 L234.9,300.9 M264.9,277.6 L262.7,281.0 M255.2,277.2 L255.8,279.0 M255.8,279.0 L258.8,280.0 L262.7,281.0 M249.9,284.9 L251.6,284.9 M255.8,279.0 L252.9,281.4 L251.6,284.9 M250.1,294.2 L255.9,293.4 M250.1,294.2 L246.8,292.1 L246.1,288.8 M251.6,284.9 L254.5,286.9 M246.1,288.8 L246.5,287.6 M255.9,293.4 L255.2,290.7 L254.5,286.9 M210.0,335.6 L206.0,335.9 M206.0,335.9 L203.7,340.8 M203.7,340.8 L204.4,345.2 M214.3,344.9 L211.1,348.3 L206.5,346.9 M204.4,345.2 L206.5,346.9 M193.3,340.3 L196.8,339.9 L200.0,340.7 L203.7,340.8 M191.1,342.5 L193.3,340.3 M191.1,342.5 L193.3,346.4 L196.0,349.9 M204.4,345.2 L201.9,347.7 L198.7,348.2 L196.0,349.9 M186.5,342.4 L191.1,342.5 M186.5,342.4 L186.0,342.7 M188.6,356.9 L186.1,356.3 M188.6,356.9 L191.0,355.1 L192.9,352.1 L195.9,350.5 M195.9,350.5 L196.0,349.9 M140.2,246.1 L139.6,246.6 M140.2,246.1 L141.5,241.5 L144.0,238.5 M139.6,246.6 L137.0,243.8 L135.2,240.1 L133.3,237.9 L129.2,236.5 M144.0,238.5 L142.6,234.2 L138.7,231.5 M138.7,231.5 L135.8,233.0 L132.8,233.9 L129.8,235.3 M129.8,235.3 L129.2,236.5 M146.7,258.4 L151.5,257.9 M146.7,258.4 L143.7,255.2 L139.9,254.8 L138.0,250.4 M157.5,248.9 L153.8,249.5 L150.5,247.7 L147.4,245.5 L143.3,248.0 L140.2,246.1 M138.0,250.4 L139.6,246.6 M150.8,235.6 L146.2,235.8 L144.0,238.5 M123.0,239.3 L126.1,237.9 L129.2,236.5 M138.0,250.4 L134.1,253.1 M141.7,221.9 L140.4,225.2 L139.9,228.2 L138.7,231.5 M128.0,225.6 L127.3,229.5 L129.2,231.9 L129.8,235.3 M137.1,218.0 L137.5,218.1 M137.1,218.0 L135.5,218.5 M186.5,342.4 L185.9,339.4 L185.2,335.7 L186.2,332.2 M178.3,334.1 L183.1,330.2 M186.2,332.2 L183.1,330.2 M179.8,322.3 L182.2,323.6 M183.1,330.2 L182.0,326.9 L182.2,323.6 M136.6,305.4 L140.6,300.9 M136.6,305.4 L137.5,308.7 L137.5,312.7 M147.0,313.4 L143.0,313.4 L137.5,312.7 M147.0,313.4 L146.4,309.7 L146.4,305.9 L144.3,302.4 M144.3,302.4 L140.6,300.9 M139.5,297.8 L140.6,300.9 M131.4,305.5 L136.6,305.4 M135.6,314.9 L137.5,312.7 M147.7,314.0 L147.0,313.4 M149.3,301.1 L144.3,302.4 M117.9,335.9 L116.5,339.0 L114.6,342.5 M117.9,335.9 L122.0,337.4 L125.4,335.1 M126.3,335.7 L124.7,339.1 L124.7,342.7 L124.7,346.7 M126.3,335.7 L125.4,335.1 M114.6,342.5 L117.6,343.6 L120.8,345.1 L122.9,347.4 M122.9,347.4 L124.7,346.7 M114.1,332.9 L117.9,335.9 M107.3,344.5 L111.5,344.1 L114.6,342.5 M122.0,325.7 L123.9,328.4 L124.4,332.1 L125.4,335.1 M129.1,335.0 L126.3,335.7 M131.6,350.7 L127.6,349.8 L124.7,346.7 M117.6,354.3 L121.0,351.4 L122.9,347.4 M196.6,430.1 L193.7,433.4 M207.5,437.9 L203.9,438.4 L199.5,439.1 L195.8,439.1 M193.7,433.4 L195.8,439.1 M198.5,450.3 L196.9,446.2 L193.2,442.3 M195.8,439.1 L193.2,442.3 M184.8,445.2 L187.8,444.0 L190.7,442.0 M193.2,442.3 L190.7,442.0 M193.7,433.4 L189.8,434.1 M190.7,442.0 L188.8,438.3 L188.8,435.2 M188.8,435.2 L189.8,434.1 M206.1,423.7 L208.2,420.7 L209.6,416.5 M209.8,416.3 L209.6,416.5 M216.2,371.3 L212.7,370.0 L209.7,368.4 L207.5,365.1 M216.4,355.4 L210.4,356.0 M207.5,365.1 L209.3,361.1 L210.4,356.0 M206.5,346.9 L206.8,350.7 L207.3,354.3 M195.9,350.5 L199.0,353.0 L201.0,356.1 M201.0,356.1 L204.4,355.7 L207.3,354.3 M210.4,356.0 L207.3,354.3 M181.2,379.6 L185.9,379.3 M180.6,366.6 L185.1,368.0 L188.6,370.4 M188.6,370.4 L187.5,375.0 L185.9,379.3 M177.2,387.2 L180.5,390.2 M185.9,388.7 L180.5,390.2 M185.9,388.7 L187.1,385.4 L188.3,382.0 M185.9,379.3 L188.3,382.0 M215.6,393.9 L212.9,390.2 M215.6,393.9 L217.9,397.4 L216.3,400.7 M212.9,390.2 L209.7,391.4 L206.8,392.7 L203.9,394.8 M203.9,394.8 L204.9,399.4 L205.6,403.9 M216.3,400.7 L213.5,406.3 M205.6,403.9 L209.7,403.4 L212.6,406.9 M213.5,406.3 L212.6,406.9 M213.6,384.0 L212.8,385.3 M212.8,385.3 L212.9,390.2 M196.9,383.7 L199.0,381.9 M212.8,385.3 L209.3,385.1 L206.0,384.2 L202.3,382.5 L199.0,381.9 M202.6,394.5 L199.9,390.3 L196.9,387.0 M196.9,383.7 L196.9,387.0 M202.6,394.5 L203.9,394.8 M209.8,416.3 L211.2,412.9 L213.0,410.6 L212.6,406.9 M199.7,408.3 L199.8,410.8 M199.7,408.3 L195.8,407.7 L192.1,405.4 M199.8,410.8 L195.7,414.8 M192.1,405.4 L191.2,407.2 M191.2,407.2 L193.4,410.8 L194.7,414.4 M195.7,414.8 L194.7,414.4 M209.6,416.5 L206.5,414.2 L202.9,413.4 L199.8,410.8 M202.6,404.7 L199.7,408.3 M202.6,404.7 L205.6,403.9 M197.4,419.4 L195.7,414.8 M185.3,411.6 L189.5,415.8 M185.3,411.6 L186.0,410.0 M186.0,410.0 L191.2,407.2 M189.5,415.8 L194.7,414.4 M306.3,297.6 L308.9,294.7 M308.9,294.7 L306.6,291.3 L302.3,289.1 L302.6,284.2 M298.9,288.3 L302.6,284.2 M302.6,284.2 L302.6,284.2 M296.4,282.7 L297.3,282.2 M302.6,284.2 L297.3,282.2 M292.5,278.8 L295.6,276.1 M295.6,276.1 L299.1,277.9 M297.3,282.2 L299.1,277.9 M284.5,292.5 L290.5,290.2 M284.5,292.5 L285.1,289.4 L284.9,285.8 M290.5,290.2 L288.4,285.9 M284.9,285.8 L288.4,285.9 M291.5,290.6 L290.5,290.2 M284.5,292.5 L284.5,292.5 M283.9,285.1 L284.9,285.8 M279.7,284.8 L277.9,290.8 M289.8,283.1 L288.4,285.9 M293.2,265.7 L292.0,267.5 M293.2,265.7 L292.3,262.2 L289.5,260.4 M288.0,262.2 L288.4,267.1 M292.0,267.5 L288.4,267.1 M281.4,267.5 L287.4,268.2 M286.3,273.8 L287.9,271.1 M287.9,271.1 L287.4,268.2 M287.4,268.2 L288.4,267.1 M295.3,274.4 L300.8,271.4 M295.3,274.4 L293.2,271.8 M295.5,269.9 L300.9,271.2 M295.5,269.9 L293.5,271.0 M300.9,271.2 L300.8,271.4 M293.5,271.0 L293.2,271.8 M293.2,271.8 L293.2,271.8 M295.6,276.1 L295.3,274.4 M289.9,275.6 L293.2,271.8 M292.0,267.5 L293.5,271.0 M297.9,264.3 L295.5,269.9 M297.9,264.3 L293.2,265.7 M287.9,271.1 L293.2,271.8 M310.9,293.4 L308.9,294.7 M310.9,293.4 L314.4,292.7 M314.4,292.7 L320.4,294.6 M321.0,294.9 L320.4,294.6 M321.0,294.9 L324.1,295.1 L328.0,294.1 M292.3,212.1 L288.2,213.4 M283.1,212.0 L288.2,213.4 M299.5,214.1 L296.0,212.4 L292.3,212.1 M307.3,212.1 L304.0,212.8 L299.5,214.1 M307.3,212.1 L308.1,209.3 M309.0,208.1 L308.1,209.3 M278.2,211.7 L275.4,210.0 M282.0,212.1 L283.1,212.0 M259.8,245.3 L260.7,244.3 M261.1,249.3 L259.8,245.3 M271.1,247.8 L268.2,243.9 M260.7,244.3 L264.3,242.6 L268.2,243.9 M260.7,244.3 L261.3,239.7 L263.9,236.7 M268.2,243.9 L268.1,239.2 M263.9,236.7 L265.0,237.0 M265.0,237.0 L268.1,239.2 M278.5,238.8 L274.3,242.3 M278.5,238.8 L273.6,235.5 M274.3,242.3 L271.0,238.8 M273.6,235.5 L271.0,238.8 M278.5,238.8 L280.4,239.8 M278.5,238.8 L278.5,238.8 M278.0,248.4 L280.2,247.0 M273.7,246.9 L274.3,242.3 M273.4,234.0 L273.6,235.5 M279.8,231.7 L276.8,234.0 L273.4,234.0 M278.5,238.8 L279.6,234.5 L279.8,231.7 M268.1,239.2 L271.0,238.8 M273.4,234.0 L271.7,232.0 M271.7,232.0 L268.0,234.8 L265.0,237.0 M332.2,221.0 L327.2,219.5 M331.5,211.3 L329.0,214.3 L325.3,217.2 M327.2,219.5 L325.3,217.2 M321.8,214.3 L324.1,216.8 M322.0,212.1 L321.8,214.3 M324.1,216.8 L325.3,217.2 M321.8,214.3 L317.8,215.5 L314.7,217.1 M307.3,212.1 L308.8,214.6 M314.7,217.1 L311.3,216.2 L308.8,214.6 M298.6,220.2 L300.2,223.6 L302.6,226.4 M302.6,226.4 L305.6,222.7 L308.3,218.9 M299.5,214.1 L298.6,220.2 M308.8,214.6 L308.3,218.9 M310.2,243.8 L308.8,239.5 M310.2,243.8 L314.0,243.5 L317.7,244.3 M308.8,239.5 L313.5,237.0 M313.5,237.0 L316.5,240.2 L320.3,243.1 M317.7,244.3 L320.3,243.1 M307.9,238.8 L308.8,239.5 M307.9,238.8 L303.3,239.3 M303.4,244.6 L301.8,240.6 M303.3,239.3 L301.8,240.6 M308.9,245.3 L303.4,244.6 M308.9,245.3 L310.2,243.8 M314.4,292.7 L313.5,287.4 L317.2,284.0 M322.8,283.7 L321.4,282.9 M320.4,294.6 L320.6,290.6 L321.2,287.0 L322.8,283.7 M317.2,284.0 L321.4,282.9 M290.6,257.5 L294.3,259.0 L298.0,261.1 M297.9,264.3 L298.2,264.1 M298.0,261.1 L298.2,264.1 M319.4,265.6 L318.1,260.9 M318.1,260.9 L313.0,261.7 M316.5,269.6 L317.9,269.5 M317.9,269.5 L319.4,265.6 M316.5,269.6 L313.0,266.2 M313.0,266.2 L313.0,261.7 M312.2,256.5 L312.2,260.9 M307.7,254.2 L312.2,256.5 M307.7,254.2 L306.6,254.4 M306.6,254.4 L307.0,258.0 L307.2,261.4 M312.2,260.9 L307.2,261.4 M375.1,216.4 L376.4,220.2 L373.5,223.0 L375.7,226.6 L373.8,230.0 L374.0,232.8 L373.2,236.1 M335.2,223.9 L335.1,227.4 L337.0,231.7 M357.3,217.3 L358.2,220.8 L360.4,223.9 L358.5,228.1 L357.7,232.1 L360.9,235.2 L359.8,238.8 L361.7,242.7 L361.0,245.9 M192.2,186.7 L193.5,183.0 L191.6,179.7 M192.2,186.7 L195.5,185.7 L199.6,186.1 M191.6,179.7 L196.5,179.0 L200.8,180.5 M200.8,180.5 L201.3,183.5 M201.3,183.5 L199.6,186.1 M190.5,178.7 L191.6,179.7 M191.7,188.3 L192.2,186.7 M199.6,189.6 L199.6,186.1 M204.2,175.7 L200.8,180.5 M218.4,184.1 L217.6,185.0 M207.9,187.9 L203.5,186.9 L201.3,183.5 M143.2,151.2 L142.2,153.5 M132.5,153.5 L134.9,156.0 M142.2,153.5 L138.5,155.0 L134.9,156.0 M146.4,177.4 L145.6,182.9 M146.4,177.4 L144.0,175.0 M137.0,178.3 L140.1,180.8 L142.3,181.9 L145.6,182.9 M144.0,175.0 L140.4,175.8 L137.1,177.1 M137.0,178.3 L136.8,178.0 M136.8,178.0 L137.1,177.1 M180.2,145.1 L176.1,141.3 M180.2,145.1 L184.5,145.1 L188.8,145.0 M176.1,141.3 L176.7,137.9 L178.0,134.6 L179.9,132.7 L182.5,129.7 L183.2,127.1 L184.8,123.8 M184.8,123.8 L186.9,127.0 L184.6,131.1 L187.2,134.1 L189.2,137.4 L189.8,140.5 L190.1,144.1 M188.8,145.0 L190.1,144.1 M172.3,141.1 L176.1,141.3 M172.3,141.1 L170.9,144.8 L167.8,148.4 M176.6,151.4 L177.6,148.1 L180.2,145.1 M186.8,154.7 L187.2,150.9 L188.4,148.5 L188.8,145.0 M191.5,118.9 L188.1,120.2 L184.8,122.3 M198.3,145.0 L194.1,143.5 L190.1,144.1 M184.8,122.3 L184.8,123.8 M134.4,109.8 L137.6,111.1 L140.3,112.9 L144.2,113.6 L147.3,115.4 L150.1,117.8 M135.4,133.9 L138.3,132.0 L140.9,128.9 L142.6,125.9 L144.2,123.7 L147.5,121.6 L149.8,119.0 M149.8,119.0 L150.1,117.8 M165.1,97.0 L166.0,100.7 L163.5,103.0 L164.1,106.6 L164.6,110.1 L163.1,113.1 M150.1,117.8 L152.4,115.6 L156.9,116.7 L159.5,113.6 L163.1,113.1 M175.1,170.0 L171.2,174.5 M170.6,164.7 L168.8,168.9 L166.6,171.3 M166.6,171.3 L171.2,174.5 M161.1,161.6 L160.1,165.6 M160.1,165.6 L162.0,169.2 L164.4,172.0 M166.6,171.3 L164.4,172.0 M154.8,161.4 L151.4,164.1 L150.0,166.9 M160.1,165.6 L157.3,168.0 M157.3,168.0 L153.1,169.4 L150.0,166.9 M254.4,236.5 L251.1,235.7 L247.8,235.3 M254.4,236.5 L253.1,240.0 L253.9,243.3 M253.9,243.3 L251.5,244.6 M247.8,235.3 L246.3,235.8 M246.3,235.8 L249.2,239.4 L249.0,243.8 M251.5,244.6 L249.0,243.8 M249.8,229.2 L248.9,232.6 L247.8,235.3 M256.3,231.6 L256.9,233.5 M256.9,233.5 L254.4,236.5 M259.8,245.3 L253.9,243.3 M262.5,234.9 L263.9,236.7 M262.5,234.9 L256.9,233.5 M250.9,248.7 L251.5,244.6 M242.6,235.1 L246.3,235.8 M243.6,244.4 L249.0,243.8 M262.2,214.3 L263.6,219.7 M270.7,213.4 L269.7,218.5 L265.7,221.3 M265.7,221.3 L263.6,219.7 M256.2,220.9 L256.5,221.0 M263.6,219.7 L259.9,220.3 L256.5,221.0 M256.4,230.9 L259.9,226.3 M259.9,226.3 L256.5,221.0 M215.2,232.2 L214.6,229.6 L213.0,226.0 M219.7,223.2 L218.0,222.1 M213.0,226.0 L218.0,222.1 M197.0,222.7 L200.6,222.2 L203.9,220.6 M199.9,226.5 L201.6,226.5 M203.9,220.6 L205.0,221.8 M205.0,221.8 L201.6,226.5 M206.0,231.6 L205.6,229.6 M201.6,226.5 L205.6,229.6 M180.6,189.5 L177.2,190.9 L174.1,190.7 M177.0,183.8 L175.8,183.9 M175.8,183.9 L174.9,187.8 L174.1,190.7 M129.1,197.3 L131.1,198.3 M118.5,199.2 L121.9,199.6 L125.7,198.6 L129.1,197.3 M122.4,207.2 L126.4,206.3 L130.5,205.5 M131.1,198.3 L129.8,201.6 L130.5,205.5 M144.4,205.3 L144.5,205.3 M144.4,205.3 L141.7,204.2 L138.0,203.7 M137.1,218.0 L136.1,214.6 L133.1,211.2 L132.7,207.1 M138.0,203.7 L132.7,207.1 M132.7,207.1 L130.5,205.5 M129.1,197.3 L127.2,191.2 M117.6,195.5 L119.2,191.2 L122.2,188.6 M127.2,191.2 L122.2,188.6 M148.8,190.6 L152.0,193.2 M148.8,190.6 L143.4,193.3 M149.7,197.1 L145.8,198.1 L142.7,197.1 M152.0,193.2 L151.8,194.8 M143.4,193.3 L142.7,197.1 M131.1,198.3 L135.1,196.3 M138.0,203.7 L138.1,200.3 L136.8,197.3 M136.8,197.3 L135.1,196.3 M144.4,205.3 L144.1,201.1 L142.6,197.3 M136.8,197.3 L142.6,197.3 M142.7,197.1 L142.6,197.3 M152.0,193.2 L157.1,190.5 M158.0,202.0 L161.0,198.1 L159.5,193.7 M157.1,190.5 L159.5,193.7 M165.8,199.7 L166.0,198.6 M166.0,198.6 L165.1,195.2 M159.5,193.7 L165.1,195.2 M169.4,187.0 L173.9,190.9 M173.7,192.1 L173.9,190.9 M173.7,192.1 L173.3,192.5 M169.4,187.0 L165.8,189.7 M173.3,192.5 L169.7,192.8 L166.5,192.1 M165.8,189.7 L166.5,192.1 M166.0,198.6 L169.2,197.1 L172.7,196.2 M173.3,192.5 L172.7,196.2 M165.1,195.2 L166.5,192.1 M178.4,201.8 L174.5,200.1 M178.4,201.8 L182.2,196.9 M182.2,196.9 L181.6,195.8 M174.5,198.9 L174.5,200.1 M174.5,198.9 L177.4,196.9 L181.1,195.7 M181.1,195.7 L181.6,195.8 M179.2,204.5 L178.4,201.8 M172.0,203.6 L174.5,200.1 M183.1,197.7 L182.2,196.9 M182.3,193.9 L181.6,195.8 M172.7,196.2 L174.5,198.9 M173.7,192.1 L177.0,194.6 L181.1,195.7 M174.1,190.7 L173.9,190.9 M218.0,222.1 L217.2,219.7 M217.2,219.7 L219.3,217.6 M225.1,222.5 L223.8,218.3 M219.3,217.6 L223.8,218.3 M229.2,214.4 L225.6,213.5 M223.8,218.3 L225.6,213.5 M227.1,205.5 L225.6,209.3 L225.6,213.5 M225.6,213.5 L225.6,213.5 M212.0,210.7 L213.5,208.1 M212.0,210.7 L212.8,213.5 M212.8,213.5 L218.9,214.3 M213.5,208.1 L214.4,207.4 M214.4,207.4 L217.6,209.6 L221.0,212.0 M218.9,214.3 L221.1,212.1 M221.0,212.0 L221.1,212.1 M208.8,210.7 L204.3,206.4 M208.8,210.7 L212.0,210.7 M208.6,204.2 L213.5,208.1 M215.4,205.8 L214.4,207.4 M217.2,205.5 L215.4,205.8 M221.7,207.3 L221.0,212.0 M219.3,217.6 L218.9,214.3 M225.6,213.5 L221.1,212.1 M199.8,212.9 L202.3,211.5 M199.8,212.9 L199.9,216.1 M202.3,211.5 L205.5,213.2 M199.9,216.1 L203.4,217.9 M205.5,213.2 L205.4,215.8 M203.4,217.9 L205.4,215.8 M196.6,210.7 L199.8,212.9 M203.0,206.7 L202.3,211.5 M197.6,217.6 L199.9,216.1 M208.8,210.7 L205.5,213.2 M203.9,220.6 L203.4,217.9 M215.1,204.1 L212.9,200.6 L209.9,199.5 M215.1,204.1 L217.0,198.2 M216.7,197.7 L213.1,198.4 L210.0,198.9 M216.7,197.7 L217.0,198.2 M210.0,198.9 L209.9,199.5 M208.7,201.0 L209.9,199.5 M215.4,205.8 L215.1,204.1 M222.5,199.9 L217.0,198.2 M216.3,189.3 L217.8,193.0 L216.7,197.7 M209.2,196.8 L210.0,198.9 M146.0,271.4 L142.4,275.5 M146.0,271.4 L145.2,268.8 L142.7,265.9 M142.4,275.5 L138.4,272.5 L134.5,274.8 M142.7,265.9 L138.4,263.5 L133.4,264.2 M133.4,264.2 L134.2,267.6 L132.4,271.2 M132.4,271.2 L134.5,274.8 M143.0,286.2 L142.0,282.4 L141.6,279.4 L142.4,275.5 M153.5,272.2 L150.3,270.4 L146.0,271.4 M146.7,258.4 L145.0,262.8 L142.7,265.9 M132.3,280.7 L134.5,274.8 M131.7,261.7 L133.4,264.2 M123.3,274.2 L128.1,275.0 L132.4,271.2 M192.3,234.3 L192.1,234.1 M193.1,226.6 L190.6,227.4 M190.6,227.4 L193.5,230.1 L192.1,234.1 M187.9,225.3 L188.4,226.7 M190.6,227.4 L188.4,226.7 M174.6,223.0 L175.8,224.5 M169.9,227.8 L175.2,229.4 M175.8,224.5 L175.2,229.4 M182.6,222.1 L180.8,224.9 M175.8,224.5 L180.8,224.9 M222.7,285.9 L225.8,289.0 M221.9,298.3 L225.7,293.3 M225.7,293.3 L225.8,289.0 M234.7,281.0 L232.3,283.3 L230.8,286.0 L228.0,288.3 M225.8,289.0 L228.0,288.3 M258.2,301.0 L258.2,300.9 M269.1,300.6 L265.8,296.7 M265.8,296.7 L261.8,298.0 L258.2,300.9 M248.7,298.5 L250.1,294.2 M255.9,293.4 L257.2,294.4 M258.2,300.9 L257.1,297.7 L257.2,294.4 M262.8,281.6 L260.4,285.7 M262.8,281.6 L265.4,285.6 L269.7,287.5 M260.4,285.7 L262.7,291.0 M262.7,291.0 L266.7,292.0 M266.7,292.0 L270.0,290.2 M269.7,287.5 L270.0,290.2 M262.7,281.0 L262.8,281.6 M254.5,286.9 L260.4,285.7 M273.2,281.1 L269.3,283.0 L269.7,287.5 M257.2,294.4 L259.7,293.6 L262.7,291.0 M265.8,296.7 L266.7,292.0 M275.1,292.6 L270.0,290.2 M188.1,306.9 L192.4,308.9 L196.2,311.9 M184.7,312.0 L187.9,314.6 L190.4,318.5 M196.2,311.9 L195.4,314.8 M190.4,318.5 L195.4,314.8 M182.2,323.6 L185.4,322.2 L189.4,321.7 M190.4,318.5 L189.4,321.7 M203.8,311.2 L200.4,311.7 L197.0,311.3 M203.8,311.2 L206.7,306.8 M197.0,311.3 L197.9,307.0 L198.1,302.0 M206.7,306.8 L204.6,304.4 L202.5,301.3 M198.1,302.0 L202.5,301.3 M194.9,300.1 L198.1,302.0 M196.2,311.9 L197.0,311.3 M212.5,306.3 L206.7,306.8 M205.3,296.5 L202.5,301.3 M203.8,311.2 L206.2,315.8 M195.4,314.8 L197.4,318.2 L199.9,319.8 L202.2,322.0 M206.2,315.8 L204.3,319.1 L202.2,322.0 M215.5,308.2 L214.9,311.9 L213.8,316.3 M206.2,315.8 L210.6,317.3 L213.8,316.3 M212.6,332.9 L212.1,328.6 L210.5,324.7 M220.5,327.9 L216.8,324.4 L213.3,322.3 M210.5,324.7 L213.3,322.3 M223.4,318.9 L218.5,318.5 L214.3,317.3 M213.3,322.3 L214.3,317.3 M214.3,317.3 L213.8,316.3 M189.8,434.1 L188.6,430.9 L186.6,426.6 M189.5,424.0 L188.0,423.8 M186.6,426.6 L188.0,423.8 M184.3,412.1 L183.2,416.2 L181.6,419.7 M185.3,411.6 L184.3,412.1 M189.5,415.8 L188.2,419.5 L187.7,423.3 M187.7,423.3 L184.0,422.5 L181.6,419.7 M187.7,423.3 L188.0,423.8 M169.9,388.0 L167.4,391.8 M155.6,381.7 L155.9,385.9 M167.4,391.8 L164.5,390.1 L162.4,387.3 L159.1,386.4 L155.9,385.9 M180.5,390.2 L177.6,394.9 L180.1,399.5 M172.1,398.8 L175.6,401.7 L180.1,399.5 M172.1,398.8 L170.9,398.1 M170.9,398.1 L168.2,395.8 L167.4,392.6 M167.4,391.8 L167.4,392.6 M141.8,388.5 L145.6,389.3 L148.6,390.9 L151.8,390.7 M151.8,390.7 L155.9,385.9 M135.5,418.0 L138.3,415.7 L141.9,415.4 L144.7,412.8 M141.5,406.7 L142.1,406.9 M142.1,406.9 L143.5,410.3 L144.7,412.8 M177.7,408.1 L171.6,408.9 M177.7,408.1 L179.4,411.3 M179.4,411.3 L175.5,415.7 M175.5,415.7 L172.8,413.2 L170.2,410.9 M171.6,408.9 L170.2,410.7 M170.2,410.7 L170.2,410.9 M172.1,398.8 L170.6,402.3 L173.0,405.7 L171.6,408.9 M180.6,401.8 L180.4,399.7 M180.6,401.8 L179.0,405.1 L177.7,408.1 M180.1,399.5 L180.4,399.7 M186.0,410.0 L185.9,405.7 L182.7,404.5 L180.6,401.8 M184.3,412.1 L179.4,411.3 M168.8,426.3 L170.8,421.8 M168.8,426.3 L171.4,429.8 M174.6,430.1 L171.4,429.8 M174.6,430.1 L178.0,427.3 M178.0,427.3 L178.7,423.6 L177.5,420.2 M170.8,421.8 L176.3,419.6 M176.3,419.6 L177.5,420.2 M186.6,426.6 L183.0,429.0 M183.0,429.0 L178.0,427.3 M181.6,419.7 L177.5,420.2 M175.5,415.7 L176.3,419.6 M170.2,410.9 L166.3,415.5 M170.8,421.8 L169.5,418.4 L166.4,417.0 M166.3,415.5 L166.4,417.0 M162.7,425.3 L165.2,426.6 M165.2,426.6 L168.8,426.3 M162.7,425.3 L162.7,420.4 M166.4,417.0 L162.7,420.4 M214.5,374.5 L211.0,373.3 L207.0,374.4 L203.3,374.2 M199.0,381.9 L199.2,379.6 M203.3,374.2 L201.7,377.5 L199.2,379.6 M184.1,399.1 L186.5,396.3 L189.5,393.9 M184.1,399.1 L187.1,400.4 L190.5,401.6 L192.1,404.5 M192.1,404.5 L195.7,399.5 M189.5,393.9 L191.5,393.9 M191.5,393.9 L193.4,396.9 L195.7,399.0 M195.7,399.5 L195.7,399.0 M180.4,399.7 L184.1,399.1 M185.9,388.7 L189.5,393.9 M192.1,405.4 L192.1,404.5 M202.6,404.7 L199.9,401.0 L195.7,399.5 M188.3,382.0 L193.1,382.7 L196.9,383.7 M196.9,387.0 L194.4,390.7 L191.5,393.9 M202.6,394.5 L200.4,398.3 L195.7,399.0 M176.0,438.7 L178.2,441.7 M176.0,438.7 L177.6,434.7 M177.6,434.7 L182.2,433.7 M182.6,443.3 L178.2,441.7 M182.6,443.3 L183.5,439.4 L184.3,435.9 M182.2,433.7 L184.3,435.9 M183.0,429.0 L182.2,433.7 M174.6,430.1 L177.6,434.7 M173.9,451.8 L173.5,446.3 M184.1,445.3 L182.6,443.3 M173.5,446.3 L176.5,444.2 L178.2,441.7 M188.8,435.2 L184.3,435.9 M167.7,451.3 L166.7,447.6 L166.6,443.5 M173.5,446.3 L169.7,443.1 M166.6,443.5 L169.7,443.1 M176.0,438.7 L173.0,438.6 M169.7,443.1 L173.0,438.6 M171.4,429.8 L169.2,434.9 M169.2,434.9 L173.0,438.6 M162.7,425.3 L160.5,425.7 M158.8,418.4 L156.9,422.9 M162.7,420.4 L158.8,418.4 M160.5,425.7 L156.9,422.9 M145.8,421.1 L149.9,422.5 M145.8,421.1 L142.5,423.0 L139.0,425.6 M149.9,422.5 L150.3,426.0 L150.1,429.4 M150.1,429.4 L147.4,432.3 L142.6,432.0 M139.0,425.6 L140.3,428.8 L142.6,432.0 M146.7,416.3 L152.5,418.5 M146.7,416.3 L145.8,421.1 M152.5,418.5 L152.4,420.6 M152.4,420.6 L149.9,422.5 M138.2,424.9 L139.0,425.6 M146.7,416.3 L145.2,413.0 M144.7,412.8 L145.2,413.0 M142.4,432.8 L142.6,432.0 M317.2,284.0 L316.2,282.6 M310.9,293.4 L309.9,287.4 M309.9,287.4 L311.5,282.4 M311.5,282.4 L316.2,282.6 M318.9,277.0 L318.3,277.2 M318.3,277.2 L316.0,281.3 M321.5,280.5 L321.4,282.9 M321.5,280.5 L318.9,277.0 M316.2,282.6 L316.0,281.3 M318.3,277.2 L314.4,275.7 M314.4,275.7 L313.2,278.0 M316.0,281.3 L313.2,278.0 M302.6,284.2 L303.5,283.1 M299.1,277.9 L300.8,277.4 M303.5,283.1 L300.8,277.4 M300.8,271.4 L301.9,276.2 M301.9,276.2 L300.8,277.4 M328.3,293.9 L327.6,290.4 L324.4,287.4 L323.9,283.9 M328.3,293.9 L333.1,291.4 M323.9,283.9 L327.8,284.6 L331.3,285.0 L335.1,286.5 M333.1,291.4 L335.1,287.9 M335.1,287.9 L335.1,286.5 M328.0,294.1 L328.3,293.9 M323.8,283.8 L322.8,283.7 M323.8,283.8 L323.9,283.9 M321.5,280.5 L324.6,277.1 M318.9,277.0 L320.4,274.6 M324.6,277.1 L320.4,274.6 M318.4,269.8 L317.9,269.5 M316.5,269.6 L313.8,272.8 M313.8,272.8 L314.4,275.7 M318.4,269.8 L320.3,273.3 M320.4,274.6 L320.3,273.3 M318.4,269.8 L323.4,268.8 M323.4,268.8 L325.8,272.3 M320.3,273.3 L325.8,272.3 M288.1,230.2 L283.4,232.7 M288.1,230.2 L285.7,225.8 M285.7,225.8 L285.0,225.8 M285.0,225.8 L283.2,228.4 L280.7,231.0 M280.7,231.0 L283.4,232.7 M281.8,223.2 L285.0,225.8 M289.8,222.3 L288.9,218.1 L288.2,213.4 M289.8,222.3 L285.7,225.8 M276.7,226.1 L276.7,226.5 M280.4,231.0 L276.7,226.5 M280.4,231.0 L280.7,231.0 M279.8,231.7 L280.4,231.0 M283.5,239.1 L285.5,237.3 M285.5,237.3 L283.4,232.7 M289.8,222.3 L291.8,223.8 M289.1,230.6 L288.1,230.2 M289.1,230.6 L291.7,229.6 M291.7,229.6 L291.8,223.8 M298.6,220.2 L294.6,223.9 M291.8,223.8 L294.6,223.9 M308.8,246.5 L304.4,251.2 M308.8,246.5 L308.9,245.3 M303.4,244.6 L302.2,246.6 M302.2,246.6 L304.4,251.2 M306.6,254.4 L304.1,253.4 M307.2,261.4 L306.6,261.9 M300.5,258.7 L303.6,260.7 L306.6,261.9 M300.5,258.7 L301.6,254.4 M301.6,254.4 L304.1,253.4 M310.8,250.3 L307.7,254.2 M308.8,246.5 L310.8,250.3 M304.4,251.2 L304.1,253.4 M316.7,253.1 L316.2,247.4 M316.7,253.1 L315.5,254.6 M315.5,254.6 L314.5,254.7 M314.5,254.7 L312.4,250.6 M312.4,250.6 L316.2,247.4 M321.1,243.0 L321.4,243.1 M320.2,252.4 L321.2,248.2 L321.4,243.1 M321.1,243.0 L320.3,243.1 M320.2,252.4 L316.7,253.1 M317.7,244.3 L316.2,247.4 M321.7,258.4 L319.8,258.9 M319.8,258.9 L315.5,254.6 M321.6,253.8 L321.7,258.4 M320.2,252.4 L321.6,253.8 M312.2,260.9 L313.0,261.7 M312.2,256.5 L314.5,254.7 M319.8,258.9 L318.1,260.9 M310.8,250.3 L312.4,250.6 M306.8,269.3 L307.3,268.2 M306.8,269.3 L301.6,270.0 M307.3,268.2 L306.1,263.8 M306.1,263.8 L303.0,263.1 L299.3,265.0 M301.6,270.0 L299.3,265.0 M308.6,273.0 L313.8,272.8 M308.6,273.0 L306.8,269.3 M313.0,266.2 L307.3,268.2 M306.6,261.9 L306.1,263.8 M298.0,261.1 L300.5,258.7 M298.2,264.1 L299.3,265.0 M300.9,271.2 L301.6,270.0 M339.8,235.5 L337.3,237.6 L334.8,239.3 L332.9,242.8 L330.5,244.4 M330.5,244.4 L330.8,249.0 M330.8,249.0 L330.6,252.4 L332.6,255.8 M321.4,243.1 L325.7,243.5 L330.5,244.4 M321.6,253.8 L323.8,249.9 L327.5,250.1 L330.8,249.0 M150.7,157.6 L145.6,160.8 M149.8,166.9 L150.0,166.9 M149.8,166.9 L146.4,163.5 M145.6,160.8 L146.4,163.5 M144.8,150.1 L148.3,149.8 L152.4,149.0 M153.5,149.7 L152.4,149.0 M142.2,153.5 L142.9,157.2 L145.3,160.6 M145.6,160.8 L145.3,160.6 M125.0,150.7 L124.7,154.9 L122.0,158.0 M118.9,160.9 L122.0,158.0 M125.1,150.6 L125.0,150.7 M121.9,181.7 L125.1,179.7 L128.3,177.4 M121.9,181.7 L118.3,179.3 L115.9,176.9 L112.4,175.4 M128.3,177.4 L128.3,172.8 L128.9,169.3 M128.9,169.3 L125.5,169.2 L121.4,166.9 L117.1,167.5 M117.1,167.5 L114.0,171.0 M114.0,171.0 L112.4,175.3 M112.4,175.3 L112.4,175.4 M122.1,182.2 L125.5,181.1 L128.2,182.8 L131.6,185.3 M135.6,178.3 L134.3,182.0 L131.6,185.3 M135.6,178.3 L132.2,176.3 L128.3,177.4 M122.1,182.2 L121.9,181.7 M103.4,185.2 L105.2,182.4 L108.2,180.2 L110.7,179.1 L112.4,175.4 M122.2,188.6 L120.8,185.4 L122.1,182.2 M118.9,160.9 L116.3,163.5 L117.1,167.5 M169.9,138.1 L171.6,134.9 L170.9,130.9 L173.4,127.8 L173.0,123.7 L173.7,120.2 M169.9,138.1 L165.7,137.0 L161.4,137.6 M161.4,137.6 L160.8,136.9 M160.8,136.9 L163.0,133.5 L163.9,130.8 L164.3,127.1 L165.3,124.2 L165.9,120.5 L168.0,117.4 M173.7,120.2 L168.0,117.4 M172.3,141.1 L169.9,138.1 M184.8,122.3 L179.8,123.3 L177.7,120.1 L173.7,120.2 M160.9,147.0 L160.5,141.9 L161.4,137.6 M163.1,113.1 L166.2,114.1 L168.0,117.4 M150.7,127.1 L152.0,130.7 L154.3,133.6 L157.0,136.1 M150.7,127.1 L149.1,130.7 L146.8,134.5 L145.6,138.3 M157.0,136.1 L153.6,138.5 L150.4,141.3 M145.6,138.3 L150.4,141.3 M149.8,119.0 L149.1,123.2 L150.7,127.1 M160.8,136.9 L157.0,136.1 M142.5,138.7 L145.6,138.3 M152.4,149.0 L152.1,145.3 L150.4,141.3 M179.7,175.3 L175.6,177.3 M175.8,183.9 L173.8,182.6 M175.6,177.3 L173.8,182.6 M171.2,174.5 L171.3,174.9 M175.6,177.3 L171.3,174.9 M144.0,175.0 L144.7,171.7 M144.7,171.7 L149.1,170.1 M146.4,177.4 L149.3,175.7 M149.1,170.1 L149.3,175.7 M157.3,168.0 L158.4,171.6 L156.5,174.4 M149.8,166.9 L149.2,170.0 M149.2,170.0 L153.0,171.5 L156.5,174.4 M146.2,184.0 L145.6,182.9 M146.9,184.4 L147.5,184.2 M147.5,184.2 L150.8,180.8 L152.9,177.6 M146.9,184.4 L146.2,184.0 M149.3,175.7 L152.9,177.6 M268.9,222.4 L270.6,225.5 L271.9,229.0 M268.9,222.4 L265.9,221.7 M265.9,221.7 L264.1,225.7 M264.1,225.7 L265.5,229.3 M265.5,229.3 L271.3,229.9 M271.3,229.9 L271.9,229.0 M276.7,226.5 L271.9,229.0 M270.4,222.0 L268.9,222.4 M265.7,221.3 L265.9,221.7 M259.9,226.3 L264.1,225.7 M262.5,234.9 L265.5,229.3 M271.7,232.0 L271.3,229.9 M206.7,222.4 L208.3,224.1 M206.7,222.4 L210.1,217.2 M208.3,224.1 L211.3,224.5 M211.3,224.5 L212.9,221.4 L213.6,218.3 M210.1,217.2 L212.3,216.4 M212.3,216.4 L213.6,218.3 M205.0,221.8 L206.7,222.4 M205.6,229.6 L208.3,224.1 M205.4,215.8 L210.1,217.2 M213.0,226.0 L211.3,224.5 M217.2,219.7 L213.6,218.3 M212.8,213.5 L212.3,216.4 M148.8,190.6 L148.1,188.0 L146.9,184.4 M147.5,184.2 L150.7,185.1 L154.4,184.6 M157.1,190.5 L157.5,189.6 M154.4,184.6 L157.5,189.6 M165.8,189.7 L161.9,186.9 M157.5,189.6 L161.9,186.9 M156.5,174.4 L157.2,176.3 M164.4,172.0 L164.2,172.4 M164.2,172.4 L159.9,172.5 L157.2,176.3 M154.4,184.6 L156.2,181.5 L157.6,178.1 M162.3,185.1 L161.9,186.9 M162.3,185.1 L160.6,180.3 M160.6,180.3 L157.6,178.1 M152.9,177.6 L157.1,177.1 M157.6,178.1 L157.1,177.1 M149.1,170.1 L149.2,170.0 M157.1,177.1 L157.2,176.3 M140.3,188.1 L137.6,186.4 M140.3,188.1 L140.2,189.7 M140.2,189.7 L137.0,192.3 L135.3,194.1 M137.6,186.4 L132.8,187.5 M135.3,194.1 L132.4,189.4 M132.8,187.5 L132.4,189.4 M137.0,178.3 L137.6,182.6 L137.6,186.4 M146.2,184.0 L143.3,186.0 L140.3,188.1 M143.4,193.3 L140.2,189.7 M135.1,196.3 L135.3,194.1 M136.8,178.0 L135.6,178.3 M131.6,185.3 L132.8,187.5 M127.2,191.2 L132.4,189.4 M189.4,245.3 L186.6,242.5 M192.1,234.1 L187.6,234.4 M187.6,234.4 L186.3,238.5 L186.6,242.5 M176.3,242.0 L179.4,241.4 L183.1,241.1 M175.4,243.2 L176.3,242.0 M186.6,242.5 L183.1,241.1 M183.1,241.1 L183.2,236.4 L182.5,233.8 M176.3,242.0 L176.2,237.3 M182.5,233.8 L179.2,235.7 L176.2,237.3 M171.4,234.1 L174.2,234.1 M175.2,229.4 L175.8,230.4 M175.8,230.4 L174.2,234.1 M174.2,234.1 L176.2,237.3 M235.2,298.9 L234.8,298.3 M235.2,298.9 L239.3,296.6 L241.8,296.1 M234.8,298.3 L233.7,294.5 L235.2,290.5 M241.8,296.1 L242.9,291.7 M242.9,291.7 L239.0,292.1 L236.6,289.3 M236.6,289.3 L235.2,290.5 M234.9,300.9 L235.2,298.9 M225.7,293.3 L228.8,295.2 L232.2,296.9 L234.8,298.3 M245.5,299.1 L241.8,296.1 M228.0,288.3 L231.6,290.8 L235.2,290.5 M246.1,288.8 L242.9,291.7 M237.6,281.4 L239.7,285.4 L236.6,289.3 M191.7,330.5 L191.6,324.3 M191.7,330.5 L195.1,333.5 M191.6,324.3 L195.5,324.5 L199.3,321.8 L202.3,324.5 M195.1,333.5 L199.0,332.5 L201.8,331.1 M201.8,331.1 L201.0,328.0 L202.4,324.6 M202.4,324.6 L202.3,324.5 M186.2,332.2 L191.7,330.5 M189.4,321.7 L191.6,324.3 M193.3,340.3 L193.2,336.8 L195.1,333.5 M202.2,322.0 L202.3,324.5 M206.0,335.9 L203.7,334.4 L201.8,331.1 M210.5,324.7 L206.3,323.4 L202.4,324.6 M202.5,365.6 L199.6,361.2 M202.5,365.6 L201.6,367.5 M201.6,367.5 L198.4,369.7 L193.6,371.0 M199.6,361.2 L196.4,360.3 L192.0,361.9 M192.0,361.9 L192.0,365.7 L189.8,369.8 M189.8,369.8 L193.6,371.0 M207.5,365.1 L202.5,365.6 M201.0,356.1 L199.6,361.2 M203.3,374.2 L201.7,370.9 L201.6,367.5 M199.2,379.6 L198.0,376.2 L194.3,374.1 L193.6,371.0 M188.6,356.9 L192.0,361.9 M188.6,370.4 L189.8,369.8 M166.6,443.5 L164.3,442.2 M169.2,434.9 L164.1,436.6 M164.3,442.2 L164.1,436.6 M165.2,426.6 L162.6,430.7 L162.4,435.1 M162.4,435.1 L164.1,436.6 M150.1,429.4 L150.2,429.4 M155.5,422.9 L152.8,428.4 M152.4,420.6 L155.5,422.9 M150.2,429.4 L152.8,428.4 M160.5,425.7 L158.0,428.9 M156.9,422.9 L155.5,422.9 M152.8,428.4 L158.0,428.9 M162.4,435.1 L159.6,434.6 M158.0,428.9 L159.6,434.6 M309.9,287.4 L306.7,283.0 M311.5,282.4 L310.0,280.4 M306.7,283.0 L310.0,280.4 M303.5,283.1 L304.7,282.6 M306.7,283.0 L304.7,282.6 M326.2,259.9 L323.2,264.4 M326.2,259.9 L331.5,259.4 M331.5,259.4 L333.9,265.0 M323.2,264.4 L324.4,267.8 M324.4,267.8 L329.0,269.5 L333.7,266.6 M333.9,265.0 L333.7,266.6 M319.4,265.6 L323.2,264.4 M321.7,258.4 L326.2,259.9 M332.6,255.8 L331.5,259.4 M323.4,268.8 L324.4,267.8 M333.7,266.6 L333.9,268.2 M325.8,272.3 L326.5,272.6 M326.5,272.6 L329.6,269.9 L333.9,268.2 M296.7,232.8 L302.7,234.9 M296.7,232.8 L296.7,232.6 M296.7,232.6 L299.1,228.8 M302.7,234.9 L304.8,233.3 M304.8,233.3 L303.0,227.6 M299.1,228.8 L302.5,227.1 M302.5,227.1 L303.0,227.6 M294.6,223.9 L297.4,226.1 L299.1,228.8 M291.7,229.6 L296.7,232.6 M303.3,239.3 L302.7,234.9 M307.9,238.8 L307.9,234.3 M307.9,234.3 L304.8,233.3 M307.9,234.3 L309.9,232.3 M309.9,232.3 L308.6,228.5 M308.6,228.5 L303.0,227.6 M302.6,226.4 L302.5,227.1 M308.3,218.9 L309.5,222.2 L311.2,225.5 M311.2,225.5 L308.6,228.5 M296.4,233.7 L297.2,238.2 M296.4,233.7 L292.3,234.2 L289.1,236.8 M297.2,238.2 L294.3,240.0 L290.6,241.0 M290.6,241.0 L288.5,237.5 M288.5,237.5 L289.1,236.8 M301.8,240.6 L298.9,240.4 M298.9,240.4 L297.2,238.2 M296.7,232.8 L296.4,233.7 M289.1,230.6 L289.1,236.8 M285.5,237.3 L288.5,237.5 M298.6,247.3 L295.8,250.8 M298.6,247.3 L297.6,242.6 M297.6,242.6 L294.6,244.9 L290.8,244.8 M295.8,250.8 L290.6,251.2 M290.6,251.2 L289.4,248.3 M289.4,248.3 L290.8,244.8 M302.2,246.6 L298.6,247.3 M301.6,254.4 L298.3,253.3 L295.8,250.8 M298.9,240.4 L297.6,242.6 M290.6,241.0 L290.8,244.8 M289.6,254.1 L290.6,251.2 M286.6,247.2 L289.4,248.3 M313.5,237.0 L313.7,233.5 M309.9,232.3 L313.1,232.9 M313.7,233.5 L313.1,232.9 M321.1,243.0 L321.1,238.2 L320.4,233.7 M313.7,233.5 L317.6,233.2 L320.4,233.7 M311.2,225.5 L315.6,226.6 M313.1,232.9 L313.4,229.1 L315.6,226.6 M337.0,231.7 L333.4,230.9 L330.1,230.9 L327.2,229.0 L323.1,228.7 M320.4,233.7 L323.1,228.7 M137.1,177.1 L136.8,173.2 M128.9,169.3 L131.8,167.7 M136.8,173.2 L134.7,170.7 L131.8,167.7 M144.7,171.7 L141.3,169.6 M136.8,173.2 L141.3,169.6 M146.4,163.5 L145.0,167.1 L141.3,168.2 M141.3,169.6 L141.3,168.2 M170.3,176.7 L172.7,182.4 M170.3,176.7 L166.3,178.2 M166.3,178.2 L166.2,178.3 M166.2,178.3 L168.1,182.9 M168.1,182.9 L169.9,183.6 M169.9,183.6 L172.7,182.4 M171.3,174.9 L170.3,176.7 M173.8,182.6 L172.7,182.4 M164.2,172.4 L166.3,178.2 M160.6,180.3 L166.2,178.3 M162.3,185.1 L168.1,182.9 M169.4,187.0 L169.9,183.6 M186.7,233.9 L182.5,233.8 M186.7,233.9 L187.5,227.6 M182.5,233.8 L181.0,230.1 M187.5,227.6 L181.5,229.1 M181.5,229.1 L181.0,230.1 M187.6,234.4 L186.7,233.9 M182.5,233.8 L182.5,233.8 M188.4,226.7 L187.5,227.6 M175.8,230.4 L181.0,230.1 M180.8,224.9 L181.5,229.1 M156.8,412.8 L153.1,413.7 M156.8,412.8 L158.6,417.0 M158.6,417.0 L158.4,417.5 M158.4,417.5 L153.0,417.9 M153.0,417.9 L153.1,413.7 M166.3,415.5 L162.9,414.1 M162.9,414.1 L158.6,417.0 M158.8,418.4 L158.4,417.5 M152.5,418.5 L153.0,417.9 M145.2,413.0 L150.0,410.9 M150.0,410.9 L153.1,413.7 M150.0,410.9 L151.9,406.7 M142.1,406.9 L144.9,403.3 L147.6,401.3 M151.9,406.7 L148.4,405.0 L147.6,401.3 M167.4,392.6 L164.3,394.6 L162.0,396.8 L158.3,398.8 M151.8,390.7 L152.5,395.9 M158.3,398.8 L155.5,396.6 L152.5,395.9 M140.8,396.4 L144.1,399.0 L147.7,400.9 M152.5,395.9 L149.1,397.8 L147.7,400.9 M147.7,400.9 L147.6,401.3 M164.1,452.9 L160.5,448.3 M164.3,442.2 L161.2,444.1 M160.5,448.3 L161.2,444.1 M151.6,456.4 L150.1,452.0 M160.5,448.3 L157.0,448.9 L153.5,449.8 L150.1,452.0 M150.1,452.0 L148.9,450.5 M310.8,278.7 L310.0,279.8 M310.8,278.7 L308.5,273.3 M310.0,279.8 L306.1,278.4 M308.5,273.3 L305.1,276.4 M305.1,276.4 L306.1,278.4 M313.2,278.0 L310.8,278.7 M310.0,280.4 L310.0,279.8 M308.6,273.0 L308.5,273.3 M304.7,282.6 L306.1,278.4 M301.9,276.2 L305.1,276.4 M336.6,273.5 L333.9,268.2 M325.3,277.0 L326.1,276.1 M325.3,277.0 L326.9,280.5 M326.1,276.1 L329.1,276.9 L333.0,276.8 L336.1,277.4 M326.9,280.5 L331.7,281.0 L335.8,282.0 M336.1,277.4 L336.4,280.8 M336.4,280.8 L335.8,282.0 M324.6,277.1 L325.3,277.0 M326.5,272.6 L326.1,276.1 M323.8,283.8 L326.9,280.5 M336.6,273.5 L336.1,277.4 M335.1,286.5 L335.8,282.0 M316.5,226.3 L322.6,228.1 M316.5,226.3 L315.8,222.3 L316.1,219.3 M321.2,220.9 L322.3,224.8 L322.7,227.2 M321.2,220.9 L316.1,219.3 M322.7,227.2 L322.6,228.1 M315.6,226.6 L316.5,226.3 M323.1,228.7 L322.6,228.1 M314.7,217.1 L316.1,219.3 M324.1,216.8 L321.2,220.9 M327.2,219.5 L324.4,223.0 L322.7,227.2 M139.7,161.8 L138.2,165.2 M139.7,161.8 L135.0,157.6 M138.2,165.2 L132.1,166.8 M135.0,157.6 L134.2,160.8 L131.4,163.2 M131.4,163.2 L132.1,166.8 M145.3,160.6 L139.7,161.8 M141.3,168.2 L138.2,165.2 M134.9,156.0 L135.0,157.6 M131.8,167.7 L132.1,166.8 M122.0,158.0 L123.9,161.2 L129.1,160.2 L131.4,163.2 M158.8,402.3 L155.7,406.5 M158.8,402.3 L163.9,405.0 M155.7,406.5 L158.2,410.3 M163.9,405.0 L164.3,407.0 M164.3,407.0 L161.0,410.6 M161.0,410.6 L158.2,410.3 M151.9,406.7 L155.7,406.5 M158.3,398.8 L158.8,402.3 M170.9,398.1 L167.8,399.4 L166.8,403.2 L163.9,405.0 M156.8,412.8 L158.2,410.3 M170.2,410.7 L166.9,408.9 L164.3,407.0 M162.9,414.1 L161.0,410.6 M156.6,442.5 L151.8,442.7 L148.4,446.2 M156.6,442.5 L155.9,439.6 L156.8,435.9 M155.0,435.6 L156.8,435.9 M155.0,435.6 L152.9,439.1 L149.5,441.2 L145.7,442.0 M148.4,446.2 L145.7,442.1 M145.7,442.1 L145.7,442.0 M148.9,450.5 L148.4,446.2 M161.2,444.1 L156.6,442.5 M159.6,434.6 L156.8,435.9 M150.2,429.4 L152.7,432.2 L155.0,435.6 M142.4,432.8 L142.1,435.8 L143.8,439.2 L145.7,442.0" fill="none" stroke="#0c0400" stroke-opacity="0.85" stroke-width="0.7" stroke-linejoin="round"/>
<polygon points="104.3,87.8 106.9,83.6 111.1,81.0 115.7,79.7 120.4,78.5 123.7,77.3 127.5,77.8 130.6,75.9 135.7,76.5 140.8,76.4 145.8,80.2 149.6,81.6 152.6,84.4 157.3,86.2 161.1,89.5 164.0,92.2 167.0,94.6 173.0,97.1 179.7,96.3 182.2,92.7 186.5,92.0 190.8,91.3 195.0,90.3 199.4,90.5 203.5,92.0 207.2,93.7 210.3,96.3 210.2,100.1 210.6,103.9 206.9,109.0 203.5,114.0 200.0,115.0 196.7,116.6 191.6,117.5 187.3,116.2 183.0,115.0 181.7,110.8 181.4,106.4 179.4,103.5 178.0,100.2 174.0,99.9 170.2,101.7 166.2,101.4 161.5,101.4 157.2,103.2 152.6,103.9 148.7,104.6 145.4,106.9 141.6,108.0 140.8,107.3 137.3,109.3 135.0,112.7 131.3,114.5 128.3,117.0 126.4,120.8 128.6,124.3 129.0,128.5 131.4,132.8 134.0,137.0 128.9,132.7 123.0,131.9 119.6,127.6 117.8,123.4 117.0,119.0 116.7,115.2 116.2,111.5 120.4,106.4 122.1,103.0 118.7,98.0 113.6,93.7 106.9,92.0" fill="#FBF7EF" stroke="#140800" stroke-width="0.8" stroke-linejoin="round"/>
<polygon points="123.0,108.0 129.7,106.4 133.3,107.8 137.1,107.3 140.8,107.3 143.3,112.4 143.2,116.6 144.0,120.8 139.0,124.2 133.0,120.8 128.9,118.3 124.7,115.0 124.5,111.3" fill="#CFEBCB" stroke="#140800" stroke-width="0.8" stroke-linejoin="round"/>
<polygon points="143.2,152.0 147.0,150.5 149.2,154.0 149.2,159.7 145.0,158.5 143.2,156.0" fill="#33A02C" stroke="#140800" stroke-width="0.8" stroke-linejoin="round"/>
<polygon points="132.2,146.1 138.1,146.1 138.1,150.3 132.2,150.3" fill="#33A02C" stroke="#140800" stroke-width="0.8" stroke-linejoin="round"/>
<polygon points="132.4,174.4 137.0,175.3 141.7,176.1 146.2,175.8 150.2,177.8 153.2,180.2 157.0,181.2 155.3,185.4 150.2,187.1 146.8,185.4 143.4,183.7 139.6,180.6 134.9,179.5" fill="#B05A2C" stroke="#140800" stroke-width="0.8" stroke-linejoin="round"/>
<polygon points="155.0,185.0 159.1,185.4 162.7,187.6 164.4,191.9 159.3,196.1 155.0,193.6 155.4,189.3" fill="#33A02C" stroke="#140800" stroke-width="0.8" stroke-linejoin="round"/>
<polygon points="183.0,195.5 187.0,193.8 191.0,195.0 195.0,196.0 194.0,199.5 189.0,200.0 184.0,199.0" fill="#C030E0" stroke="#140800" stroke-width="0.8" stroke-linejoin="round"/>
<polygon points="181.4,208.5 186.0,207.0 190.0,209.0 194.0,207.8 198.0,210.0 202.0,210.5 205.5,213.0 205.0,218.3 200.0,217.5 197.0,215.0 192.0,216.0 187.0,214.5 182.0,214.0" fill="#C030E0" stroke="#140800" stroke-width="0.8" stroke-linejoin="round"/>
<polygon points="247.8,222.4 251.2,222.4 250.8,226.2 251.2,230.0 247.8,230.0 247.3,226.2" fill="#C030E0" stroke="#140800" stroke-width="0.8" stroke-linejoin="round"/>
<polygon points="216.0,222.5 221.0,220.0 226.0,221.5 230.0,220.5 232.0,224.0 229.0,227.0 225.6,225.8 222.0,226.0 217.0,227.0" fill="#33A02C" stroke="#140800" stroke-width="0.8" stroke-linejoin="round"/>
<polygon points="164.6,240.0 169.0,235.5 172.6,235.4 176.0,234.5 179.3,236.4 182.4,238.4 182.6,242.9 180.7,246.9 177.2,247.8 173.9,249.4 170.1,248.0 167.1,245.2" fill="#33A02C" stroke="#140800" stroke-width="0.8" stroke-linejoin="round"/>
<polygon points="183.4,276.0 187.1,274.8 190.0,272.2 195.8,274.0 196.2,278.0 195.8,282.0 190.0,285.9 184.5,284.0 182.8,280.2" fill="#33A02C" stroke="#140800" stroke-width="0.8" stroke-linejoin="round"/>
<polygon points="222.0,285.0 227.0,283.4 229.4,287.0 228.4,290.9 227.0,294.6 223.0,294.0 223.1,289.4" fill="#33A02C" stroke="#140800" stroke-width="0.8" stroke-linejoin="round"/>
<polygon points="302.0,228.3 308.8,228.3 308.8,233.4 302.0,233.4" fill="#FE6604" stroke="#140800" stroke-width="0.8" stroke-linejoin="round"/>
<polygon points="313.9,227.0 317.0,226.6 318.1,231.0 315.0,232.5" fill="#E31A2C" stroke="#140800" stroke-width="0.8" stroke-linejoin="round"/>
<polygon points="318.0,249.0 321.5,249.5 324.5,252.0 323.5,255.0 319.5,254.0" fill="#E31A2C" stroke="#140800" stroke-width="0.8" stroke-linejoin="round"/>
<polygon points="316.5,281.0 320.0,278.0 324.0,279.5 328.5,278.5 330.0,283.9 328.8,288.0 325.1,288.3 321.5,288.0 317.0,286.5" fill="#0c0606" stroke="#140800" stroke-width="0.8" stroke-linejoin="round"/>
<polygon points="321.5,213.9 328.3,214.7 332.0,214.9 335.0,217.1 338.5,218.0 338.5,224.0 336.8,226.6 332.9,227.1 329.2,225.8 324.0,225.0 321.5,222.4 323.2,220.7 321.8,217.4" fill="#FBA0A8" stroke="#140800" stroke-width="0.8" stroke-linejoin="round"/>
<polygon points="314.7,229.2 319.8,232.5 323.0,235.7 327.5,235.1 321.5,238.5 318.1,241.9 315.0,238.0 313.8,233.6" fill="#FBA0A8" stroke="#140800" stroke-width="0.8" stroke-linejoin="round"/>
<polygon points="183.4,340.0 188.2,340.0 188.2,344.8 183.4,344.8" fill="#FE6604" stroke="#140800" stroke-width="0.8" stroke-linejoin="round"/>
<polygon points="172.1,359.3 175.6,357.7 178.6,355.2 183.4,351.2 188.2,351.2 194.6,349.6 198.1,348.1 201.0,345.6 204.3,346.4 205.9,351.2 203.4,354.4 199.4,354.4 196.1,356.3 193.0,358.5 188.9,359.5 185.0,360.9 181.3,363.3 176.9,363.3 172.1,363.3" fill="#33A02C" stroke="#140800" stroke-width="0.8" stroke-linejoin="round"/>
<polygon points="156.1,346.4 160.9,341.6 165.7,343.2 170.5,346.4 170.9,350.7 170.4,355.0 171.3,359.3 168.9,362.5 164.9,362.5 160.9,362.5 156.1,359.3 157.7,352.8" fill="#33A02C" stroke="#140800" stroke-width="0.8" stroke-linejoin="round"/>
<polygon points="160.9,311.9 167.3,309.5 172.1,310.0 176.9,310.3 182.6,313.5 178.6,319.1 177.0,322.9 176.9,327.1 172.9,329.5 169.7,327.1 168.9,320.7 164.1,317.5" fill="#33A02C" stroke="#140800" stroke-width="0.8" stroke-linejoin="round"/>
<polygon points="205.0,346.4 210.7,343.2 214.7,339.2 217.1,341.6 221.0,339.9 225.1,340.8 224.3,344.0 219.9,344.8 215.5,345.6 211.5,347.2 207.5,348.8" fill="#FDC27A" stroke="#140800" stroke-width="0.8" stroke-linejoin="round"/>
<polygon points="227.5,341.6 230.0,338.4 233.9,335.8 238.0,333.6 242.0,331.5 246.0,329.5 249.6,327.7 252.4,324.7 256.5,323.1 258.0,327.1 254.8,330.5 250.8,332.8 247.3,336.1 242.8,337.6 238.6,339.7 234.8,342.4 229.2,345.6" fill="#FDC27A" stroke="#140800" stroke-width="0.8" stroke-linejoin="round"/>
<polygon points="189.0,399.0 192.0,395.0 195.0,393.0 198.0,397.0 195.0,401.0 191.0,402.0" fill="#FE6604" stroke="#140800" stroke-width="0.8" stroke-linejoin="round"/>
<polygon points="146.5,403.2 148.7,400.1 150.0,396.5 151.8,396.4 155.8,397.3 157.8,401.0 158.5,403.2 161.7,406.9 165.8,409.6 168.2,413.7 164.1,414.6 160.2,412.9 157.6,410.5 154.5,408.8 149.0,407.2" fill="#2277B8" stroke="#140800" stroke-width="0.8" stroke-linejoin="round"/>
<polygon points="165.5,388.5 167.5,387.8 168.8,389.5 167.8,391.3 165.8,391.0" fill="#0c0606" stroke="#140800" stroke-width="0.8" stroke-linejoin="round"/>
<polygon points="175.4,415.3 179.4,412.0 183.5,415.3 187.5,416.9 185.0,420.0 179.4,418.5 175.4,420.0" fill="#FE6604" stroke="#140800" stroke-width="0.8" stroke-linejoin="round"/>
<polygon points="136.9,408.8 140.9,410.4 143.1,413.8 146.5,416.0 148.5,420.0 144.0,420.9 141.8,415.7 139.5,412.2" fill="#E31A2C" stroke="#140800" stroke-width="0.8" stroke-linejoin="round"/>
<polygon points="154.0,431.0 158.0,429.5 161.8,433.0 161.0,439.0 157.2,439.2 153.5,440.0 152.0,436.0" fill="#E31A2C" stroke="#140800" stroke-width="0.8" stroke-linejoin="round"/>
<polygon points="154.5,441.0 161.0,440.0 163.3,443.3 166.3,446.0 166.0,451.0 162.5,450.3 159.0,451.0 155.7,447.0" fill="#1F78B4" stroke="#140800" stroke-width="0.8" stroke-linejoin="round"/>
<polygon points="163.0,462.0 166.5,462.5 167.5,466.0 164.0,466.5" fill="#E31A2C" stroke="#140800" stroke-width="0.8" stroke-linejoin="round"/>
<polygon points="168.5,466.0 171.5,465.0 173.0,469.0 171.0,471.2 168.2,470.7" fill="#FE6604" stroke="#140800" stroke-width="0.8" stroke-linejoin="round"/>
<polygon points="364.0,201.9 369.7,201.9 373.6,200.8 377.6,200.2 379.9,196.9 383.8,194.0 387.8,191.2 391.6,189.7 395.7,188.9 400.2,183.9 402.5,186.7 407.0,191.2 408.7,194.4 409.2,198.0 408.7,202.5 403.6,204.8 400.0,206.1 398.0,209.3 392.3,212.7 387.6,212.4 383.2,213.8 379.1,213.9 374.9,213.1 370.8,213.8 369.7,209.3 364.6,205.9" fill="#33A02C" stroke="#140800" stroke-width="0.8" stroke-linejoin="round"/>
<polygon points="340.2,216.4 344.5,215.8 348.6,214.7 352.4,216.1 356.3,214.3 360.1,215.0 363.9,215.6 363.9,218.0 360.1,218.9 356.3,219.3 352.4,219.2 348.6,219.8 345.2,220.9 341.9,222.4" fill="#1F78B4" stroke="#140800" stroke-width="0.8" stroke-linejoin="round"/>
<polygon points="340.2,223.2 344.3,221.5 348.6,220.7 353.7,220.4 358.8,219.8 360.5,223.2 356.5,225.4 352.0,225.8 347.0,226.6 341.9,226.6" fill="#DB959A" stroke="#140800" stroke-width="0.8" stroke-linejoin="round"/>
<polygon points="353.0,231.0 356.8,229.6 360.7,228.4 365.9,228.3 371.0,228.4 372.7,233.1 377.4,234.9 374.8,239.4 368.4,238.7 364.5,238.1 360.7,237.4 354.3,236.8" fill="#33A02C" stroke="#140800" stroke-width="0.8" stroke-linejoin="round"/>
<polygon points="373.6,225.9 376.7,223.8 380.0,222.0 384.1,219.4 388.9,218.3 392.9,217.5 396.8,216.1 398.5,219.5 394.5,225.1 392.3,228.0 390.3,231.0 389.0,237.4 387.9,240.9 385.8,243.9 384.5,249.6 379.3,247.7 378.7,243.2 373.6,240.0 377.4,236.1 374.9,232.9 372.3,229.7" fill="#33A02C" stroke="#140800" stroke-width="0.8" stroke-linejoin="round"/>
<polygon points="389.0,237.4 392.9,236.4 396.7,234.9 400.9,235.3 405.0,234.2 405.1,237.9 406.3,241.3 404.3,244.3 403.1,247.7 401.2,251.6 399.3,255.4 392.8,253.5 386.4,252.2 384.5,249.6 385.8,243.9 387.5,240.7" fill="#33A02C" stroke="#140800" stroke-width="0.8" stroke-linejoin="round"/>
<polygon points="372.9,254.1 376.0,252.3 379.0,250.5 384.5,249.6 386.4,252.2 387.7,256.7 388.3,263.1 386.4,269.6 384.5,276.0 382.6,281.1 378.1,281.1 376.8,274.7 376.4,270.1 374.8,265.7 373.6,259.3" fill="#33A02C" stroke="#140800" stroke-width="0.8" stroke-linejoin="round"/>
<polygon points="358.1,259.3 361.3,254.8 364.5,253.2 367.8,251.6 372.9,249.6 372.9,254.1 371.0,259.3 367.1,263.1 365.2,267.0 361.3,265.7 359.8,262.4" fill="#E31A2C" stroke="#140800" stroke-width="0.8" stroke-linejoin="round"/>
<polygon points="373.6,243.2 378.7,243.2 379.3,247.7 377.0,249.6 373.4,249.3" fill="#DB959A" stroke="#140800" stroke-width="0.8" stroke-linejoin="round"/>
<path d="M128,114 L134,113 L137,117 L136,123 M134,113 L135,108 M137,117 L144,116" fill="none" stroke="#1c0d00" stroke-width="0.6"/>
<g fill="none" stroke="#0a0a0a" stroke-width="2.1" stroke-linejoin="round" stroke-linecap="round">
<polyline points="84.9,246.0 89.6,246.2 94.2,246.0 99.2,247.3 104.4,247.7 107.8,249.3 111.2,251.1 113.6,255.8 118.0,258.7 122.4,261.5 126.4,264.7 132.4,265.5"/>
<polyline points="132.4,265.5 133.6,260.5 134.0,255.3 134.6,250.2 134.0,245.2 138.3,241.8 145.0,241.8 148.5,246.9 147.2,250.5 145.0,253.6 148.3,255.1 151.9,255.3 155.1,253.4 158.6,252.0 162.3,250.9 165.4,248.6 163.5,244.6 161.0,241.0 159.7,234.9 159.7,228.7 162.9,225.6 167.0,224.0 170.7,222.2 174.7,221.2 180.0,218.0 183.6,218.5 187.0,217.5"/>
<polyline points="114.6,174.4 118.1,172.6 122.0,171.5 126.7,172.0 131.4,171.5 132.2,178.3 135.1,181.0 139.2,179.1 142.4,180.8 143.8,184.3 145.8,187.6 148.0,191.2 150.8,194.4 154.2,199.5 157.6,198.8 161.0,197.8 165.3,192.7 169.5,194.4 169.6,198.7 170.3,202.9 171.3,206.4 172.9,209.7 178.0,214.0 182.9,214.7 187.0,217.5"/>
<polyline points="187.0,217.5 188.1,221.3 189.6,225.0 188.8,228.7 186.8,231.9 184.6,234.9 183.5,239.9 182.0,244.8 185.8,242.0 190.0,240.0 194.9,239.3 199.5,237.4 204.3,239.4 209.5,239.9 214.6,238.9 219.5,237.4 222.8,239.1 225.4,242.1 229.4,242.4 233.6,242.9 237.7,244.1 241.9,244.8 243.9,249.0 244.3,253.6 249.3,254.8 251.6,250.1 251.8,244.8 250.3,238.5"/>
<polyline points="260.5,206.9 260.7,210.4 260.5,213.9 258.0,219.8 259.9,223.6 263.3,225.7 266.4,228.3 261.4,230.8 255.4,234.2 250.3,238.5"/>
<polyline points="250.3,238.5 251.7,242.0 253.7,245.3 257.8,243.6 262.2,244.4 266.5,246.1 270.7,247.8 274.9,246.7 279.2,247.0 283.5,246.0 287.6,244.4 291.9,246.3 295.3,249.5 297.8,254.6"/>
<polyline points="297.8,254.6 294.5,256.3 292.0,259.0 289.0,260.9 285.9,262.7 280.8,267.0 282.5,272.0 287.6,275.4 289.3,275.4"/>
<polyline points="289.3,275.4 285.2,277.2 280.8,277.1 275.8,278.8 272.4,275.4 266.4,276.3 260.5,278.0 258.0,281.0 255.4,283.9"/>
<polyline points="260.5,278.0 260.2,274.4 258.9,271.1 257.0,268.0 255.2,263.1 254.3,258.0 249.3,254.8"/>
<polyline points="244.3,253.6 241.1,255.2 238.1,257.2 234.4,257.3 235.5,262.3 236.9,267.2 233.0,269.5 229.4,272.2 227.3,276.2 224.4,279.7 221.2,281.6 217.8,283.0 214.5,284.7 212.5,288.1 212.0,292.0"/>
<polyline points="124.7,284.2 131.5,285.8 136.5,287.3 141.7,287.5 146.3,289.0 150.2,291.8 154.5,291.5 158.6,292.6 161.9,290.7 165.1,288.5 168.8,287.5 173.8,288.7 179.0,289.2 182.5,287.5 186.5,287.5 190.0,285.8 194.7,288.2 200.0,288.5 204.7,289.7 209.5,289.6 212.0,292.0"/>
<polyline points="212.0,292.0 213.5,296.1 213.1,300.4 213.1,304.6 213.6,308.9 215.5,312.7 210.7,317.5 210.7,323.9 212.6,328.2 215.5,331.9 218.7,334.4 221.9,336.8 227.5,338.4"/>
<polyline points="255.4,283.9 252.0,289.0 248.4,290.2 245.3,292.4 243.3,296.1 239.6,298.2 238.9,301.9 236.9,304.9 234.8,307.9 234.8,312.1 236.4,315.9 235.1,319.3 233.4,322.4 231.6,325.5 229.4,328.4 227.4,331.5 226.7,335.2 227.5,338.4"/>
<polyline points="132.4,265.5 130.1,268.8 128.1,272.3 128.1,279.0 124.7,284.2 126.4,287.4 126.4,291.0 124.2,294.4 120.5,296.0 117.6,298.9 116.3,302.8 112.9,304.4 109.5,306.2"/>
<polyline points="143.2,139.3 144.9,144.2 149.2,147.0 150.8,153.7 154.2,156.2 157.6,158.8 161.4,160.4 163.6,163.9 168.6,166.4"/>
<polyline points="174.6,158.0 179.7,155.4 184.1,154.1 188.1,156.3 192.4,153.7"/>
<polyline points="168.6,166.4 172.9,163.9 174.6,158.0"/>
<polyline points="174.6,158.0 175.1,162.2 175.4,166.4 176.9,169.7 178.0,173.2 183.0,175.8 186.1,178.7 189.8,180.8 194.3,181.9 198.3,184.2 202.1,184.8 205.0,187.2 208.5,188.5"/>
<polyline points="168.6,166.4 167.7,170.2 167.8,174.0 166.9,180.8 167.8,187.6 169.6,190.8 169.5,194.4"/>
<polyline points="131.4,171.5 134.9,173.7 139.0,173.2 143.0,175.5 147.5,174.9 151.6,173.9 155.9,174.0 159.4,172.1 162.7,169.8 168.6,166.4"/>
<polyline points="145.8,140.3 148.3,136.4 151.0,132.7 154.7,130.5 158.6,128.5 163.3,129.2 167.9,130.2 172.3,131.9 176.4,134.4 180.5,136.3 184.8,137.8"/>
<polyline points="122.1,103.0 123.0,108.0 129.7,106.4 133.4,107.1 137.0,107.9 140.8,107.3 144.7,106.1 148.4,104.1 152.6,103.9 157.1,103.0 161.7,102.4 166.2,101.4 170.1,100.6 174.1,101.0 178.0,100.2 179.6,103.4 181.4,106.4 181.1,110.9 183.0,115.0 187.2,116.7 191.6,117.5"/>
<polyline points="123.0,108.0 124.1,111.4 124.7,115.0 126.4,120.8 129.1,124.2 129.0,128.5 131.9,132.5 134.0,137.0"/>
<polyline points="308.0,221.0 308.0,226.0 311.0,232.0 310.3,236.1 309.0,240.0 311.4,244.4 314.7,247.8 316.4,247.0"/>
<polyline points="289.3,275.4 294.4,277.1 297.8,273.7 301.2,279.7 304.3,282.6 306.3,286.4"/>
<polyline points="123.7,369.9 123.2,365.5 121.3,361.4 124.9,359.5 128.6,357.8 133.4,355.9 138.2,354.2 141.5,351.5 144.2,348.2 146.8,345.6 149.6,343.2 152.7,345.1 156.1,346.4 160.9,341.6 163.7,338.0 167.3,335.2 172.9,333.6 174.9,330.3 176.9,327.1 177.0,322.9 178.6,319.1 182.6,313.5 188.2,312.7 191.3,314.5 194.6,315.9 198.5,314.4 202.7,315.1 205.9,319.1 210.7,317.5"/>
<polyline points="121.3,361.4 119.0,364.0 120.0,368.0"/>
<polyline points="172.9,333.6 172.5,337.6 172.9,341.6 172.9,346.5 171.3,351.2 172.0,355.2 172.1,359.3 170.0,364.0 166.9,366.6 166.4,370.4 166.9,374.2 170.8,373.3 173.7,376.0 179.7,379.3 181.6,382.5 183.9,385.3 182.2,391.2 185.6,396.3 186.0,403.0"/>
<polyline points="172.1,359.3 176.0,358.3 178.6,355.2 183.4,351.2 188.2,351.2 194.6,349.6 197.7,347.4 201.0,345.6 205.0,346.4 210.7,343.2 214.7,339.2 217.1,341.6 221.4,342.3 225.1,340.0 227.5,338.4"/>
<polyline points="186.0,403.0 192.4,401.4 197.5,399.7 201.6,398.0 206.0,398.8 209.3,398.0"/>
<polyline points="186.0,403.0 183.5,407.2 179.0,408.3 174.6,409.6 173.0,416.0 169.8,417.6 166.6,419.3 162.4,418.4 158.5,420.0 158.5,424.0"/>
<polyline points="140.9,410.4 142.9,414.0 146.5,416.0 149.0,419.3 153.8,419.6 158.5,420.0 158.5,424.0 159.9,427.9 161.1,431.8 163.4,435.3 164.4,439.7 166.5,443.7 168.0,448.0 168.3,452.0 169.2,456.0 168.5,460.1 169.8,464.0 170.0,468.0"/>
<polyline points="370.8,213.8 374.9,213.3 379.1,213.0 383.2,213.8 387.7,212.6 392.3,212.7 398.0,209.3 401.5,208.0 403.6,204.8 408.7,202.5 412.3,201.1 416.0,200.2 422.8,199.1 424.0,202.5 422.8,205.9 425.0,209.9"/>
<polyline points="422.8,205.9 418.3,209.3 412.6,211.5 408.1,214.4 403.6,217.2 400.2,219.5 397.9,224.0 396.7,227.1 394.3,230.4 390.3,231.0"/>
<polyline points="353.0,231.0 357.0,230.1 360.7,228.4 365.9,227.9 371.0,228.4 374.9,230.9 377.4,234.9 374.8,239.4"/>
<polyline points="353.0,231.0 354.3,236.8"/>
<polyline points="390.3,231.0 391.6,234.2 396.7,231.6 400.5,232.2 404.4,232.3 407.0,233.6"/>
<polyline points="389.0,237.4 389.2,241.5 385.8,243.9 384.5,249.6"/>
<polyline points="372.9,254.1 375.9,252.2 379.0,250.5 384.5,249.6 386.4,252.2"/>
<polyline points="326.0,210.9 321.8,212.6 317.6,214.3"/>
<polyline points="338.5,217.3 338.5,224.0 338.9,227.1"/>
</g>
</g>
<polygon points="104.3,87.8 106.6,85.5 108.8,83.2 111.1,81.0 114.4,80.8 117.3,79.2 120.4,78.5 123.9,77.9 127.2,76.9 130.6,75.9 134.0,76.5 137.4,76.4 140.8,76.4 143.5,78.1 145.8,80.2 149.7,81.6 152.6,84.4 155.3,86.4 158.0,88.2 161.1,89.5 163.8,92.4 167.0,94.6 170.0,95.9 173.0,97.1 176.4,96.9 179.7,96.3 183.0,94.0 186.5,92.0 190.6,90.2 195.0,90.3 199.1,91.9 203.5,92.0 207.1,93.8 210.3,96.3 210.1,100.1 210.6,103.9 208.3,106.1 206.9,109.0 204.7,111.2 203.5,114.0 200.3,115.7 196.7,116.6 191.6,117.5 193.3,122.5 195.1,125.0 196.7,127.6 197.8,130.8 199.6,133.6 196.9,135.7 194.6,138.2 189.0,136.4 185.2,138.2 187.3,143.6 187.5,147.1 189.0,150.3 192.0,151.9 194.9,153.7 198.1,156.5 201.7,158.8 204.8,161.7 208.5,163.9 211.8,165.8 215.3,167.2 218.6,169.0 216.4,172.3 214.4,175.8 212.4,179.2 210.2,182.5 209.3,185.5 208.5,188.5 211.8,190.4 215.3,191.7 218.6,193.6 221.5,195.1 224.7,196.3 227.4,198.2 230.5,199.5 233.9,200.3 236.8,202.4 239.6,203.5 242.4,204.7 245.1,206.2 248.1,206.9 251.5,207.5 254.9,207.5 260.5,206.9 263.4,208.2 266.2,209.8 270.7,213.2 274.2,213.8 277.5,215.4 281.0,215.8 284.2,217.1 287.6,218.0 291.0,218.8 294.4,219.8 297.8,220.5 300.8,221.0 303.8,220.8 306.8,221.1 310.8,220.9 314.7,220.5 317.0,218.2 317.6,214.3 314.7,210.9 317.0,205.8 316.4,200.7 319.5,199.2 322.7,197.9 327.2,199.6 327.0,202.7 326.6,205.8 326.0,210.9 330.0,214.8 334.3,215.8 338.5,217.3 342.9,217.0 347.0,215.6 350.9,216.1 354.8,217.0 358.8,216.4 362.3,216.6 365.6,215.6 368.0,213.5 369.0,210.5 366.8,207.9 363.9,206.3 364.7,202.0 367.9,201.4 371.1,201.0 374.0,199.5 377.6,200.2 379.9,196.9 382.4,194.9 384.8,192.6 387.8,191.2 391.8,190.3 395.7,188.9 398.2,186.6 400.2,183.9 405.3,181.6 410.4,183.9 416.0,184.4 420.0,181.0 425.6,179.9 428.4,182.7 427.3,185.6 431.3,186.7 430.5,189.8 430.1,192.9 433.3,193.6 436.4,194.6 439.2,196.5 442.6,196.9 442.0,200.8 439.8,203.2 438.0,205.9 439.2,211.5 435.8,208.2 430.7,208.2 425.0,209.9 422.2,211.4 419.4,212.7 414.9,215.5 412.6,219.5 412.1,222.0 411.8,225.2 411.5,228.4 409.0,230.8 407.0,233.6 405.0,234.2 405.9,237.7 406.3,241.3 403.9,244.1 403.1,247.7 401.5,251.7 399.3,255.4 396.0,254.5 392.8,253.5 389.5,253.6 386.4,252.2 387.7,256.7 387.9,259.9 388.3,263.1 387.3,266.3 386.4,269.6 386.1,273.0 384.5,276.0 382.6,281.1 378.1,281.1 378.2,277.7 376.8,274.7 376.3,271.7 374.7,268.9 374.8,265.7 374.1,262.5 373.6,259.3 372.9,254.1 371.0,259.3 367.1,263.1 365.2,267.0 361.3,265.7 359.4,262.6 358.1,259.3 361.3,254.8 364.8,253.7 367.8,251.6 372.9,249.6 373.6,243.9 374.8,240.0 371.6,239.3 368.4,238.7 364.6,237.7 360.7,237.4 356.9,236.5 353.0,236.8 349.1,237.1 345.3,236.1 340.8,234.9 341.4,229.7 338.9,227.1 336.8,226.6 333.1,225.7 329.2,225.8 324.0,225.0 321.5,222.4 318.1,225.8 314.7,229.2 317.2,230.9 319.8,232.5 323.6,233.8 327.5,235.1 324.3,236.5 321.5,238.5 318.1,241.9 316.4,247.0 321.5,249.5 324.9,251.5 326.6,256.8 325.8,260.2 325.8,263.6 327.3,266.9 328.3,270.3 329.5,274.5 330.0,278.8 330.0,282.6 329.2,286.4 325.3,286.8 321.5,288.0 317.3,286.8 313.0,285.6 309.7,286.2 306.3,286.4 303.8,288.1 301.2,289.8 300.3,294.9 302.0,299.0 299.6,301.4 297.8,304.2 295.1,306.2 292.7,308.5 289.1,309.9 285.9,311.9 282.4,313.3 279.2,315.3 275.6,317.1 272.4,319.5 269.3,321.9 266.4,324.6 264.2,327.4 261.9,330.2 259.6,332.4 257.3,334.6 255.1,336.9 252.5,338.9 249.2,340.0 246.6,342.0 243.7,345.2 239.8,347.1 238.8,350.5 238.1,353.9 235.4,355.8 233.0,358.1 230.3,359.5 227.1,359.7 224.6,361.5 221.7,363.8 218.6,365.8 214.8,366.9 211.0,368.3 209.5,371.1 208.5,374.2 208.0,378.4 207.6,382.7 207.6,387.0 208.5,391.2 208.1,394.7 209.3,398.0 210.0,400.0 208.2,403.1 206.7,406.4 205.0,409.6 204.6,413.5 203.4,417.2 202.0,420.9 202.7,424.6 203.0,428.3 203.5,432.0 203.9,436.1 203.5,440.2 200.3,441.9 197.0,443.4 195.1,447.4 193.0,451.4 195.5,454.6 198.7,457.0 194.7,456.3 190.7,455.4 188.1,456.9 185.0,457.5 182.6,459.4 180.5,462.4 179.4,465.9 176.1,468.6 173.0,471.5 168.2,470.7 165.7,468.4 163.4,465.9 160.6,462.9 158.5,459.4 158.1,456.3 156.8,453.6 155.2,451.0 154.5,448.0 154.2,444.1 153.0,440.5 151.3,437.0 149.5,433.9 148.4,430.6 146.8,427.4 146.0,423.9 144.0,420.9 141.8,415.7 139.4,412.1 137.0,408.4 135.1,405.5 134.6,402.0 133.4,398.8 132.5,395.4 131.7,392.0 129.8,389.0 128.8,385.7 127.8,382.4 126.0,379.5 125.6,376.2 124.3,373.1 123.7,369.9 121.6,366.7 119.9,363.2 117.7,360.0 116.7,357.0 115.6,354.1 115.6,350.8 114.0,348.0 112.9,345.1 111.4,342.3 110.4,339.3 110.5,336.0 110.0,333.0 109.3,330.0 108.8,327.0 108.0,324.0 108.1,320.9 106.6,318.0 106.0,315.1 105.7,312.0 106.9,311.3 109.5,306.2 107.8,301.1 107.3,297.4 105.3,294.3 105.1,290.9 105.3,287.5 104.2,284.2 104.4,280.8 101.9,279.9 101.0,282.8 100.2,285.8 98.4,289.0 95.9,291.8 92.4,293.6 89.2,296.0 85.1,297.6 80.7,298.6 77.8,297.0 74.9,295.5 72.2,293.5 69.8,291.7 67.7,289.5 65.4,287.5 63.2,285.5 60.8,283.6 58.6,281.6 56.1,276.5 60.0,275.5 63.7,274.0 67.8,272.3 72.2,271.4 73.9,268.9 68.8,268.9 64.5,269.5 60.3,270.6 56.8,269.2 53.6,267.2 51.1,264.1 47.6,262.1 47.3,258.7 46.8,255.3 50.0,252.9 53.6,251.1 57.6,251.3 61.5,250.5 65.4,250.3 68.8,250.2 72.3,250.2 75.6,249.2 79.0,248.6 82.0,247.3 84.9,246.0 82.4,241.8 80.4,239.4 78.2,237.2 76.4,234.6 74.2,232.1 73.1,228.9 71.4,226.1 69.7,222.8 68.8,219.3 65.8,216.8 62.9,214.2 64.4,211.1 66.3,208.3 68.3,205.3 70.5,202.4 72.9,200.5 75.6,199.0 79.8,202.4 83.6,201.4 87.5,201.5 90.2,199.9 93.1,198.7 95.9,197.3 98.2,194.5 100.5,191.7 102.7,188.8 105.6,186.6 108.3,184.2 111.2,182.0 113.1,178.3 114.6,174.4 118.3,172.8 122.0,171.5 122.9,166.4 124.3,163.3 127.1,161.4 129.6,158.6 131.4,155.4 131.5,151.2 132.2,147.0 134.0,144.5 136.4,142.7 139.7,140.8 143.2,139.3 139.9,139.5 137.1,137.8 134.0,137.0 131.5,134.8 128.9,132.7 123.0,131.9 119.6,127.6 118.2,123.3 117.0,119.0 116.4,115.3 116.2,111.5 118.1,108.8 120.4,106.4 122.1,103.0 120.4,100.5 118.7,98.0 116.1,95.9 113.6,93.7 110.3,92.7 106.9,92.0" fill="none" stroke="#0a0a0a" stroke-width="2" stroke-linejoin="round"/>
<g fill="#0a0a0a"><circle cx="94.8" cy="413.2" r="1.1"/><circle cx="93.3" cy="419.3" r="1.6"/><circle cx="98.5" cy="424" r="1.1"/><circle cx="106" cy="422.3" r="1.0"/><circle cx="109.8" cy="424.8" r="1.0"/><circle cx="97" cy="429.3" r="1.2"/><circle cx="106.8" cy="428.6" r="1.6"/><circle cx="99.3" cy="433" r="2.0"/><circle cx="103.8" cy="434.6" r="1.0"/><circle cx="104.9" cy="437.6" r="1.1"/><circle cx="124" cy="427.8" r="1.9"/><circle cx="118.9" cy="434.3" r="1.0"/><circle cx="118.4" cy="443.6" r="1.2"/><circle cx="100" cy="444.4" r="1.1"/><circle cx="110.6" cy="468.5" r="1.0"/><path d="M381.5,394.5 L383.6,394.8 L384,399 L383,404 L383.6,410 L384.6,414 L383.4,419 L381.6,420 L380.6,425 L379,430.5 L377.4,429.5 L376.6,424 L377.6,418 L378.6,411 L379,404 L380,398 Z"/><ellipse cx="375.6" cy="435" rx="2.2" ry="3.2" transform="rotate(20 375.6 435)"/><circle cx="399.7" cy="397.6" r="0.9"/><circle cx="394.8" cy="414" r="0.8"/><circle cx="372.6" cy="423.5" r="0.9"/><circle cx="372.5" cy="432" r="0.7"/><circle cx="379.8" cy="456" r="1.3"/><circle cx="384" cy="466" r="1.6"/><circle cx="386" cy="469" r="1.3"/><circle cx="389.8" cy="471.5" r="2.0"/><circle cx="391.6" cy="465.5" r="1.2"/><circle cx="391" cy="477.5" r="1.0"/></g>
<g font-family="'Liberation Sans', Arial, sans-serif" fill="#111">
<text y="52.8" font-size="30.6" font-weight="bold" stroke="#111" stroke-width="1" stroke-linejoin="round"><tspan x="240.2" textLength="62.8" lengthAdjust="spacingAndGlyphs">Lok</tspan> <tspan x="312.3" textLength="106.4" lengthAdjust="spacingAndGlyphs">Sabha</tspan> <tspan x="437.3" textLength="70.3" lengthAdjust="spacingAndGlyphs">2014</tspan> <tspan x="519.0" textLength="125.8" lengthAdjust="spacingAndGlyphs">Results</tspan></text>
<text y="87.6" font-size="31" stroke="#111" stroke-width="0.3" stroke-linejoin="round"><tspan x="352.2" textLength="75.5" lengthAdjust="spacingAndGlyphs">(543</tspan> <tspan x="438.7" textLength="94.1" lengthAdjust="spacingAndGlyphs">Seats)</tspan></text>
<rect x="493.6" y="181.6" width="12.9" height="13.8" fill="#33A02C"/>
<text x="508" y="195.5" font-size="20" font-weight="normal" textLength="48" lengthAdjust="spacingAndGlyphs">UPA</text>
<rect x="605.9" y="181.6" width="12.9" height="13.8" fill="#FF6600"/>
<text x="619.5" y="195.5" font-size="20" font-weight="normal" textLength="50.5" lengthAdjust="spacingAndGlyphs">NDA</text>
<rect x="716.1" y="181.6" width="12.9" height="13.8" fill="#A9DC62"/>
<text x="731.5" y="195.5" font-size="20" font-weight="normal" textLength="91.0" lengthAdjust="spacingAndGlyphs">AIADMK</text>
<rect x="493.6" y="227.1" width="12.9" height="13.8" fill="#FB9A9F"/>
<text x="508.9" y="241.0" font-size="20" font-weight="normal" textLength="50.89999999999998" lengthAdjust="spacingAndGlyphs">AITC</text>
<rect x="605.9" y="227.1" width="12.9" height="13.8" fill="#6A3D9A"/>
<text x="619.5" y="241.0" font-size="20" font-weight="normal" textLength="43.5" lengthAdjust="spacingAndGlyphs">BJD</text>
<rect x="716.1" y="227.1" width="12.9" height="13.8" fill="#A4CDE5"/>
<text x="731.5" y="241.0" font-size="20" font-weight="normal" textLength="53.5" lengthAdjust="spacingAndGlyphs">TRS+</text>
<rect x="493.6" y="272.4" width="12.9" height="13.8" fill="#E31A24"/>
<text x="508.8" y="286.3" font-size="20" font-weight="normal" textLength="51.599999999999966" lengthAdjust="spacingAndGlyphs">LEFT</text>
<rect x="605.9" y="272.4" width="12.9" height="13.8" fill="#FDBF6F"/>
<text x="621" y="286.3" font-size="20" font-weight="normal" textLength="73" lengthAdjust="spacingAndGlyphs">YSRCP</text>
<rect x="716.1" y="272.4" width="12.9" height="13.8" fill="#C22FE0"/>
<text x="730.8" y="286.3" font-size="20" font-weight="normal" textLength="26.200000000000045" lengthAdjust="spacingAndGlyphs">SP</text>
<rect x="493.6" y="318.0" width="12.9" height="13.8" fill="#17805A"/>
<text x="509.6" y="331.9" font-size="20" font-weight="normal" textLength="46.39999999999998" lengthAdjust="spacingAndGlyphs">AAP</text>
<rect x="605.9" y="318.0" width="12.9" height="13.8" fill="#2277B8"/>
<text x="620.2" y="331.9" font-size="20" font-weight="normal" textLength="56.299999999999955" lengthAdjust="spacingAndGlyphs">JD(S)</text>
<rect x="716.1" y="318.0" width="12.9" height="13.8" fill="#DB9398"/>
<text x="731.6" y="331.9" font-size="20" font-weight="normal" textLength="69.89999999999998" lengthAdjust="spacingAndGlyphs">AIUDF</text>
<rect x="493.6" y="362.9" width="12.9" height="13.8" fill="#C9E8C2"/>
<text x="508.8" y="376.8" font-size="20" font-weight="normal" textLength="74.19999999999999" lengthAdjust="spacingAndGlyphs">JKPDP</text>
<rect x="605.9" y="362.9" width="12.9" height="13.8" fill="#B25A2B"/>
<text x="619.7" y="376.8" font-size="20" font-weight="normal" textLength="52.89999999999998" lengthAdjust="spacingAndGlyphs">INLD</text>
<rect x="716.1" y="362.9" width="12.9" height="13.8" fill="#1F78B8"/>
<text x="730.8" y="376.8" font-size="20" font-weight="normal" textLength="73.20000000000005" lengthAdjust="spacingAndGlyphs">Others</text>
</g>
</svg>
</body></html>
